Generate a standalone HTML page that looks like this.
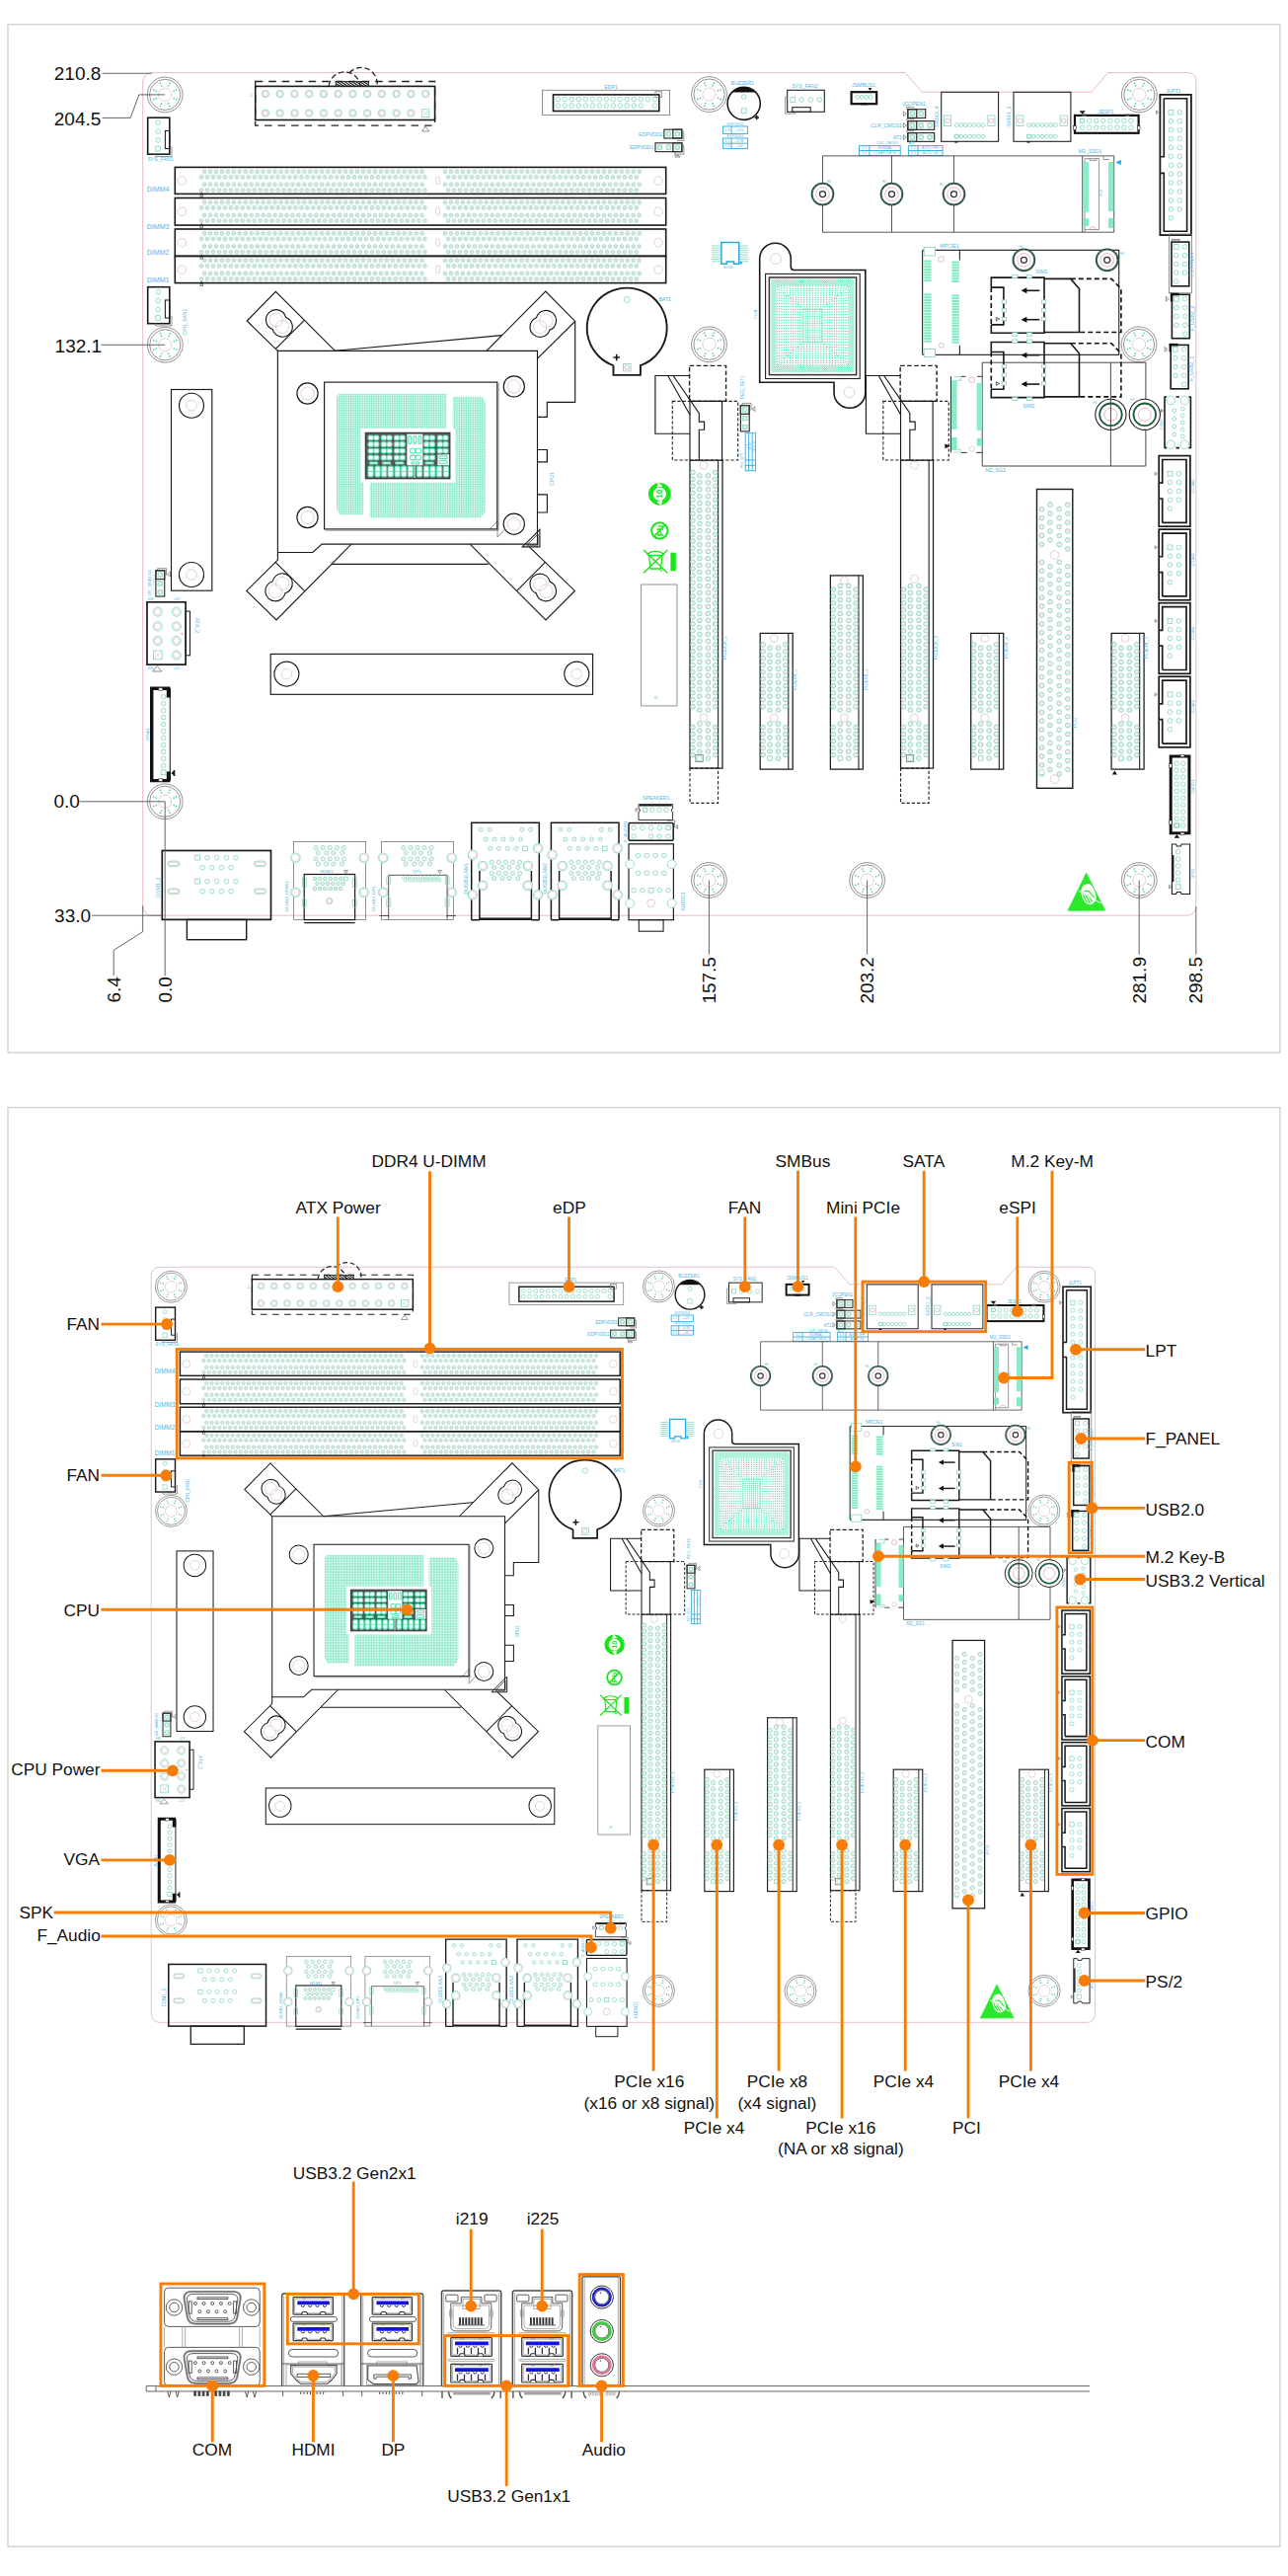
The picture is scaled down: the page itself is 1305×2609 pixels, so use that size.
<!DOCTYPE html>
<html><head><meta charset="utf-8"><title>Board layout</title>
<style>
html,body{margin:0;padding:0;background:#fff}
svg{display:block}
text{font-family:"Liberation Sans",sans-serif}
.k{fill:none;stroke:#222;stroke-width:1.1}
.k2{fill:none;stroke:#1a1a1a;stroke-width:1.6}
.k3{fill:none;stroke:#111;stroke-width:2.6}
.kf{fill:#111;stroke:none}
.kw{fill:#fff;stroke:#222;stroke-width:1.1}
.kd{fill:none;stroke:#222;stroke-width:1.1;stroke-dasharray:3.2 2}
.kD{fill:none;stroke:#222;stroke-width:1.3;stroke-dasharray:7.5 6}
.kS{fill:none;stroke:#111;stroke-width:1.6;stroke-dasharray:5 3}
.g{fill:none;stroke:#777;stroke-width:.8}
.gl{fill:none;stroke:#999;stroke-width:.7}
.pk{fill:none;stroke:#e3a6bb;stroke-width:.8}
.pc{fill:none;stroke:#d9bcc6;stroke-width:.7}
.gr{fill:none;stroke:#7fd6b9;stroke-width:.8}
.grf{fill:#7fecc0;stroke:none}
.gd{fill:#4fcf9f;stroke:none}
.dg{fill:none;stroke:#1d5a3a;stroke-width:1.3}
.bl{fill:none;stroke:#29abe2;stroke-width:.9}
.bl2{fill:none;stroke:#29abe2;stroke-width:1.5}
.b{fill:#4db5e6;font-size:5.2px}
.G{fill:#19e619;stroke:none}
.Gs{fill:none;stroke:#19e619;stroke-width:1.6}
.d{fill:none;stroke:#555;stroke-width:.9}
.dt{fill:#111;font-size:19px}
.o{fill:none;stroke:#f77d07;stroke-width:2.9}
.of{fill:#f77d07;stroke:none}
.t{fill:#111;font-size:17.3px}
.fr{fill:none;stroke:#d2d2d2;stroke-width:1.4}
.io{fill:none;stroke:#4a4a4a;stroke-width:.9}
.iow{fill:#fff;stroke:#4a4a4a;stroke-width:.9}
.iol{fill:none;stroke:#8a8a8a;stroke-width:.7}
</style></head><body>
<svg width="1305" height="2609" viewBox="0 0 1305 2609">
<defs>
<g id="p"><circle class="gr" r="2.3"/></g>
<g id="q"><circle class="gr" r="2.05"/><circle class="pc" r="1" style="stroke:#ecd3da;stroke-width:.45"/></g>
<g id="ps"><rect class="gr" x="-2.4" y="-2.4" width="4.8" height="4.8"/></g>
<g id="pp"><circle class="gr" r="2.35" style="stroke-width:.9"/><circle class="pc" r="1.25" style="stroke-width:.45"/></g>
<g id="pd"><circle class="gr" r="1.85"/><circle class="pc" r=".9"/></g>
<g id="pe"><circle class="gr" r="2.35" style="stroke-width:.9"/><circle class="pc" r="1.25" style="stroke-width:.45"/></g>
<g id="pa"><circle class="gr" r="3.7"/><circle class="pc" r="2.5"/></g>
<g id="pb"><circle class="gr" r="4.6"/><circle class="pc" r="3.2"/></g>
<g id="ph"><circle class="gr" r="4.7" style="stroke-width:1.2;stroke:#97e3cc"/><circle class="pc" r="3.7" style="stroke:#f0ccd7;stroke-width:.8"/></g>
<g id="sm"><circle class="gr" r="1.9"/></g>
<g id="sn"><circle class="gr" r="1.8"/><circle class="pc" r=".9" style="stroke-width:.4"/></g>
<g id="st"><circle class="gr" r="1.35" style="stroke-width:.7"/></g>
<g id="mhd"><circle class="gd" cx="9.7" cy="0" r=".85"/><circle class="gd" cx="12.5" cy="0" r=".85"/></g>
<g id="mh"><circle class="g" r="17.9"/><circle class="g" r="15.6"/><circle class="pc" r="6.6" style="stroke:#d8b8c2"/><use href="#mhd" transform="rotate(22.5)"/><use href="#mhd" transform="rotate(67.5)"/><use href="#mhd" transform="rotate(112.5)"/><use href="#mhd" transform="rotate(157.5)"/><use href="#mhd" transform="rotate(202.5)"/><use href="#mhd" transform="rotate(247.5)"/><use href="#mhd" transform="rotate(292.5)"/><use href="#mhd" transform="rotate(337.5)"/></g>
<g id="so"><circle class="dg" r="11.2"/><circle class="k" r="10.3" style="stroke-width:.7"/><circle class="pk" r="6.8"/><circle class="k" r="3" style="stroke-width:1.3;stroke:#333"/></g>
<g id="so2"><circle class="k" r="15.6"/><circle class="dg" r="11.3" style="stroke-width:1.8"/><circle class="pk" r="6.5"/></g>
<pattern id="pr" width="5.96" height="5" patternUnits="userSpaceOnUse"><circle class="gr" cx="2.98" cy="2.5" r="1.85"/><circle class="pc" cx="2.98" cy="2.5" r=".95"/></pattern>
<pattern id="cpuP" x="341" y="399.1" width="1.75" height="1.75" patternUnits="userSpaceOnUse"><path d="M0 0H1.75V.75H.75V1.75H0Z" fill="#86e9c5"/></pattern>
<pattern id="bgaP" x="812.8" y="312.3" width="2.33" height="2.33" patternUnits="userSpaceOnUse">
<circle cx="1.17" cy="1.17" r=".75" fill="#52e3ae"/>
</pattern>
<pattern id="bgaQ" x="781.4" y="282.6" width="2.1" height="2.2" patternUnits="userSpaceOnUse">
<circle cx=".6" cy=".6" r=".62" fill="#52e3ae"/><circle cx="1.65" cy="1.7" r=".62" fill="#52e3ae"/>
</pattern>
<pattern id="hat" width="2.2" height="2.2" patternUnits="userSpaceOnUse" patternTransform="rotate(-55)">
<rect width="1.2" height="2.2" fill="#222"/>
</pattern>

<g id="board">
<path class="pk" d="M144.7 83.1A9.5 9.5 0 0 1 154.2 73.6L917 73.6L934.3 93.2L1106 93.2L1122.5 73.6L1203.8 73.6A8 8 0 0 1 1211.8 81.6L1211.8 918.2A9 9 0 0 1 1202.8 927.2L154.2 927.2A9.5 9.5 0 0 1 144.7 917.7Z"/>
<use href="#mh" x="167.15" y="95.9"/>
<use href="#mh" x="718.5" y="95.6"/>
<use href="#mh" x="1154.3" y="95.9"/>
<use href="#mh" x="167.3" y="349.3"/>
<use href="#mh" x="718.5" y="348.8"/>
<use href="#mh" x="1154" y="348.9"/>
<use href="#mh" x="167.2" y="811.8"/>
<use href="#mh" x="718.4" y="891.5"/>
<use href="#mh" x="878.6" y="891.5"/>
<use href="#mh" x="1154.2" y="891.5"/>
<rect class="k2" x="177.3" y="169.4" width="497.4" height="27"/>
<rect transform="translate(204.08 171.3)" width="226.48" height="5" fill="url(#pr)"/>
<rect transform="translate(448.02 171.3)" width="202.64" height="5" fill="url(#pr)"/>
<rect transform="translate(201.09 176.85)" width="232.44" height="5" fill="url(#pr)"/>
<rect transform="translate(451.12 176.85)" width="196.68" height="5" fill="url(#pr)"/>
<rect transform="translate(204.08 184.4)" width="226.48" height="5" fill="url(#pr)"/>
<rect transform="translate(448.02 184.4)" width="202.64" height="5" fill="url(#pr)"/>
<rect transform="translate(201.09 190.1)" width="232.44" height="5" fill="url(#pr)"/>
<rect transform="translate(451.12 190.1)" width="196.68" height="5" fill="url(#pr)"/>
<circle class="pc" cx="184.4" cy="183.1" r="4.3"/>
<circle class="pc" cx="667" cy="183.1" r="4.3"/>
<rect class="pc" x="441.6" y="179.1" width="4" height="7.6" rx="1.8"/>
<path class="kf" d="M203 196.7L204.2 194.4L205.4 196.7Z"/>
<rect class="k" x="203" y="197" width="2.4" height="2.2" style="stroke-width:.6"/>
<rect class="k2" x="177.3" y="200.5" width="497.4" height="27.6"/>
<rect transform="translate(204.08 202.4)" width="226.48" height="5" fill="url(#pr)"/>
<rect transform="translate(448.02 202.4)" width="202.64" height="5" fill="url(#pr)"/>
<rect transform="translate(201.09 207.95)" width="232.44" height="5" fill="url(#pr)"/>
<rect transform="translate(451.12 207.95)" width="196.68" height="5" fill="url(#pr)"/>
<rect transform="translate(204.08 215.5)" width="226.48" height="5" fill="url(#pr)"/>
<rect transform="translate(448.02 215.5)" width="202.64" height="5" fill="url(#pr)"/>
<rect transform="translate(201.09 221.2)" width="232.44" height="5" fill="url(#pr)"/>
<rect transform="translate(451.12 221.2)" width="196.68" height="5" fill="url(#pr)"/>
<circle class="pc" cx="184.4" cy="214.2" r="4.3"/>
<circle class="pc" cx="667" cy="214.2" r="4.3"/>
<rect class="pc" x="441.6" y="210.2" width="4" height="7.6" rx="1.8"/>
<path class="kf" d="M203 228.4L204.2 226.1L205.4 228.4Z"/>
<rect class="k" x="203" y="228.7" width="2.4" height="2.2" style="stroke-width:.6"/>
<rect class="k2" x="177.3" y="232" width="497.4" height="27.4"/>
<rect transform="translate(204.08 233.9)" width="226.48" height="5" fill="url(#pr)"/>
<rect transform="translate(448.02 233.9)" width="202.64" height="5" fill="url(#pr)"/>
<rect transform="translate(201.09 239.45)" width="232.44" height="5" fill="url(#pr)"/>
<rect transform="translate(451.12 239.45)" width="196.68" height="5" fill="url(#pr)"/>
<rect transform="translate(204.08 247)" width="226.48" height="5" fill="url(#pr)"/>
<rect transform="translate(448.02 247)" width="202.64" height="5" fill="url(#pr)"/>
<rect transform="translate(201.09 252.7)" width="232.44" height="5" fill="url(#pr)"/>
<rect transform="translate(451.12 252.7)" width="196.68" height="5" fill="url(#pr)"/>
<circle class="pc" cx="184.4" cy="245.7" r="4.3"/>
<circle class="pc" cx="667" cy="245.7" r="4.3"/>
<rect class="pc" x="441.6" y="241.7" width="4" height="7.6" rx="1.8"/>
<path class="kf" d="M203 259.7L204.2 257.4L205.4 259.7Z"/>
<rect class="k" x="203" y="260" width="2.4" height="2.2" style="stroke-width:.6"/>
<rect class="k2" x="177.3" y="259.4" width="497.4" height="27.2"/>
<rect transform="translate(204.08 261.3)" width="226.48" height="5" fill="url(#pr)"/>
<rect transform="translate(448.02 261.3)" width="202.64" height="5" fill="url(#pr)"/>
<rect transform="translate(201.09 266.85)" width="232.44" height="5" fill="url(#pr)"/>
<rect transform="translate(451.12 266.85)" width="196.68" height="5" fill="url(#pr)"/>
<rect transform="translate(204.08 274.4)" width="226.48" height="5" fill="url(#pr)"/>
<rect transform="translate(448.02 274.4)" width="202.64" height="5" fill="url(#pr)"/>
<rect transform="translate(201.09 280.1)" width="232.44" height="5" fill="url(#pr)"/>
<rect transform="translate(451.12 280.1)" width="196.68" height="5" fill="url(#pr)"/>
<circle class="pc" cx="184.4" cy="273.1" r="4.3"/>
<circle class="pc" cx="667" cy="273.1" r="4.3"/>
<rect class="pc" x="441.6" y="269.1" width="4" height="7.6" rx="1.8"/>
<path class="kf" d="M203 286.9L204.2 284.6L205.4 286.9Z"/>
<rect class="k" x="203" y="287.2" width="2.4" height="2.2" style="stroke-width:.6"/>
<text class="b" x="148.7" y="193.5" text-anchor="start" style="font-size:7.1px;">DIMM4</text>
<text class="b" x="148.7" y="232" text-anchor="start" style="font-size:7.1px;">DIMM3</text>
<text class="b" x="148.7" y="257.5" text-anchor="start" style="font-size:7.1px;">DIMM2</text>
<text class="b" x="148.7" y="286" text-anchor="start" style="font-size:7.1px;">DIMM1</text>
<rect class="kD" x="258.7" y="82.5" width="181.9" height="44.6"/>
<rect class="k2" x="258.7" y="87.4" width="181.9" height="34.1"/>
<rect x="340.2" y="82.6" width="33.3" height="4.8" fill="url(#hat)" stroke="#222" stroke-width=".9"/>
<path class="kD" d="M333.1 87.2A16.1 16.1 0 0 1 365.1 87.2" style="stroke-dasharray:5.5 3"/>
<path class="kD" d="M354 73.8A16.1 16.1 0 0 1 381.9 87.2" style="stroke-dasharray:5.5 3"/>
<use href="#pa" x="268.9" y="95.1"/>
<use href="#pa" x="283.65" y="95.1"/>
<use href="#pa" x="298.4" y="95.1"/>
<use href="#pa" x="313.15" y="95.1"/>
<use href="#pa" x="327.9" y="95.1"/>
<use href="#pa" x="342.65" y="95.1"/>
<use href="#pa" x="357.4" y="95.1"/>
<use href="#pa" x="372.15" y="95.1"/>
<use href="#pa" x="386.9" y="95.1"/>
<use href="#pa" x="401.65" y="95.1"/>
<use href="#pa" x="416.4" y="95.1"/>
<use href="#pa" x="431.15" y="95.1"/>
<use href="#pa" x="268.9" y="114.6"/>
<use href="#pa" x="283.65" y="114.6"/>
<use href="#pa" x="298.4" y="114.6"/>
<use href="#pa" x="313.15" y="114.6"/>
<use href="#pa" x="327.9" y="114.6"/>
<use href="#pa" x="342.65" y="114.6"/>
<use href="#pa" x="357.4" y="114.6"/>
<use href="#pa" x="372.15" y="114.6"/>
<use href="#pa" x="386.9" y="114.6"/>
<use href="#pa" x="401.65" y="114.6"/>
<use href="#pa" x="416.4" y="114.6"/>
<rect class="gr" x="427.3" y="110.8" width="7.6" height="7.6"/>
<path class="gr" d="M428.5 112L433.7 117.2M433.7 112L428.5 117.2" style="stroke-width:.5"/>
<path class="g" d="M427.5 133L431.1 127.8L434.8 133Z"/>
<text class="b" x="254.3" y="97.5" text-anchor="middle" style="font-size:5px;fill:#7fd6b9;">1</text>
<rect class="k2" x="149.7" y="119.2" width="22.1" height="37"/>
<rect class="k" x="167.4" y="132.5" width="4.4" height="18"/>
<path class="g" d="M157.7 156.2L157.7 158.5L174 158.5L174 148.2"/>
<use href="#p" x="160.2" y="124.2"/>
<use href="#p" x="160.2" y="133.1"/>
<use href="#p" x="160.2" y="142"/>
<use href="#ps" x="160.2" y="150.6"/>
<text class="b" x="162.5" y="162.6" text-anchor="middle">SYS_FAN1</text>
<rect class="k2" x="149.7" y="290.7" width="22.1" height="37"/>
<rect class="k" x="167.4" y="304" width="4.4" height="18"/>
<path class="g" d="M157.7 327.7L157.7 330L174 330L174 319.7"/>
<use href="#p" x="160.2" y="295.7"/>
<use href="#p" x="160.2" y="304.6"/>
<use href="#p" x="160.2" y="313.5"/>
<use href="#ps" x="160.2" y="322.1"/>
<text class="b" x="188.5" y="326" text-anchor="middle" transform="rotate(-90 188.5 326)">CPU_FAN1</text>
<rect class="g" x="549.4" y="91.3" width="129.2" height="25.1"/>
<rect class="k2" x="560.5" y="95.9" width="107.3" height="16.6"/>
<rect class="g" x="664" y="92.8" width="6.3" height="5.6"/>
<use href="#p" x="565.3" y="100.5"/>
<use href="#p" x="572.3" y="100.5"/>
<use href="#p" x="579.3" y="100.5"/>
<use href="#p" x="586.3" y="100.5"/>
<use href="#p" x="593.3" y="100.5"/>
<use href="#p" x="600.3" y="100.5"/>
<use href="#p" x="607.3" y="100.5"/>
<use href="#p" x="614.3" y="100.5"/>
<use href="#p" x="621.3" y="100.5"/>
<use href="#p" x="628.3" y="100.5"/>
<use href="#p" x="635.3" y="100.5"/>
<use href="#p" x="642.3" y="100.5"/>
<use href="#p" x="649.3" y="100.5"/>
<use href="#p" x="656.3" y="100.5"/>
<use href="#p" x="663.3" y="100.5"/>
<use href="#p" x="565.3" y="107.1"/>
<use href="#p" x="572.3" y="107.1"/>
<use href="#p" x="579.3" y="107.1"/>
<use href="#p" x="586.3" y="107.1"/>
<use href="#p" x="593.3" y="107.1"/>
<use href="#p" x="600.3" y="107.1"/>
<use href="#p" x="607.3" y="107.1"/>
<use href="#p" x="614.3" y="107.1"/>
<use href="#p" x="621.3" y="107.1"/>
<use href="#p" x="628.3" y="107.1"/>
<use href="#p" x="635.3" y="107.1"/>
<use href="#p" x="642.3" y="107.1"/>
<use href="#p" x="649.3" y="107.1"/>
<use href="#p" x="663.3" y="107.1"/>
<text class="b" x="619" y="90" text-anchor="middle">EDP1</text>
<rect class="k" x="672.9" y="131.2" width="17.9" height="8.8" style="stroke-width:1.2;stroke:#333"/>
<rect class="k" x="681.85" y="131.2" width="8.95" height="8.8" style="stroke-width:1.3;stroke:#333"/>
<rect class="gr" x="675.1" y="133.3" width="4.6" height="4.6" style="stroke-width:.6"/>
<circle class="gr" cx="677.4" cy="135.6" r="1.8"/>
<rect class="gr" x="684.05" y="133.3" width="4.6" height="4.6" style="stroke-width:.6"/>
<circle class="gr" cx="686.35" cy="135.6" r="1.8"/>
<rect class="k" x="664" y="144.8" width="26.85" height="8.8" style="stroke-width:1.2;stroke:#333"/>
<rect class="k" x="681.9" y="144.8" width="8.95" height="8.8" style="stroke-width:1.3;stroke:#333"/>
<rect class="gr" x="666.2" y="146.9" width="4.6" height="4.6" style="stroke-width:.6"/>
<circle class="gr" cx="668.5" cy="149.2" r="1.8"/>
<rect class="gr" x="675.15" y="146.9" width="4.6" height="4.6" style="stroke-width:.6"/>
<circle class="gr" cx="677.45" cy="149.2" r="1.8"/>
<rect class="gr" x="684.1" y="146.9" width="4.6" height="4.6" style="stroke-width:.6"/>
<circle class="gr" cx="686.4" cy="149.2" r="1.8"/>
<path class="g" d="M690.9 133.5L692.8 133.5L692.8 142.5L686 142.5M690.9 147L692.8 147L692.8 156.2L684 156.2M684 154L684 159L689 159L688 157.5L685 157.5"/>
<text class="b" x="671.5" y="138" text-anchor="end">EDPVDD2</text>
<text class="b" x="662.5" y="151.3" text-anchor="end">EDPVDD1</text>
<circle class="k2" cx="753.7" cy="104.8" r="16.6"/>
<path class="kf" d="M741.5 93.6A16.6 16.6 0 0 1 765.9 93.6Z"/>
<use href="#p" x="753.7" y="98"/>
<use href="#ps" x="753.7" y="112.3"/>
<path class="k2" d="M764.5 119L769 119M766.7 116.8L766.7 121.3"/>
<text class="b" x="752.4" y="86" text-anchor="middle">BUZZER1</text>
<text class="b" x="745" y="126.5" text-anchor="middle" style="font-size:3.6px;">EDPVDD2</text>
<rect class="bl" x="732.6" y="128" width="25" height="7.4"/>
<path class="bl" d="M741.1 128L741.1 135.4"/>
<text class="b" x="736.85" y="132.9" text-anchor="middle" style="font-size:3.4px;">2-3</text>
<text class="b" x="749.35" y="132.9" text-anchor="middle" style="font-size:3.4px;">+12V</text>
<text class="b" x="745" y="138.5" text-anchor="middle" style="font-size:3.6px;">EDPVDD1</text>
<rect class="bl" x="732.6" y="140" width="25" height="10.4"/>
<path class="bl" d="M732.6 145.2L757.6 145.2"/>
<path class="bl" d="M741.1 140L741.1 150.4"/>
<text class="b" x="736.85" y="143.8" text-anchor="middle" style="font-size:3.4px;">1-2</text>
<text class="b" x="749.35" y="143.8" text-anchor="middle" style="font-size:3.4px;">+3.3V</text>
<text class="b" x="736.85" y="149" text-anchor="middle" style="font-size:3.4px;">2-3</text>
<text class="b" x="749.35" y="149" text-anchor="middle" style="font-size:3.4px;">+5V</text>
<rect class="k" x="797.7" y="91.3" width="37.6" height="22"/>
<rect class="k" x="802.8" y="108.7" width="18.4" height="4.6"/>
<path class="g" d="M797.7 98L795.6 98L795.6 115L806 115L806 113.3"/>
<use href="#ps" x="803.3" y="101"/>
<use href="#p" x="812.27" y="101"/>
<use href="#p" x="821.24" y="101"/>
<use href="#p" x="830.21" y="101"/>
<text class="b" x="815.5" y="88.5" text-anchor="middle">SYS_FAN2</text>
<rect class="k3" x="862.6" y="93.2" width="25.6" height="12" style="stroke-width:2.2"/>
<use href="#sm" x="868.7" y="98.4"/>
<use href="#sm" x="873.15" y="98.4"/>
<use href="#sm" x="877.6" y="98.4"/>
<use href="#sm" x="882.05" y="98.4"/>
<path class="kf" d="M879.5 89L883.5 89L881.5 91.8Z"/>
<rect class="kf" x="872" y="104.3" width="7" height="2"/>
<text class="b" x="875" y="88" text-anchor="middle">JSMBUS1</text>
<rect class="k" x="919.8" y="110.7" width="17.9" height="8.8" style="stroke-width:1.2;stroke:#333"/>
<rect class="k" x="919.8" y="110.7" width="8.95" height="8.8" style="stroke-width:1.3;stroke:#333"/>
<rect class="gr" x="922" y="112.8" width="4.6" height="4.6" style="stroke-width:.6"/>
<circle class="gr" cx="924.3" cy="115.1" r="1.8"/>
<rect class="gr" x="930.95" y="112.8" width="4.6" height="4.6" style="stroke-width:.6"/>
<circle class="gr" cx="933.25" cy="115.1" r="1.8"/>
<rect class="k" x="919.8" y="122.6" width="26.85" height="8.8" style="stroke-width:1.2;stroke:#333"/>
<rect class="k" x="919.8" y="122.6" width="8.95" height="8.8" style="stroke-width:1.3;stroke:#333"/>
<rect class="gr" x="922" y="124.7" width="4.6" height="4.6" style="stroke-width:.6"/>
<circle class="gr" cx="924.3" cy="127" r="1.8"/>
<rect class="gr" x="930.95" y="124.7" width="4.6" height="4.6" style="stroke-width:.6"/>
<circle class="gr" cx="933.25" cy="127" r="1.8"/>
<rect class="gr" x="939.9" y="124.7" width="4.6" height="4.6" style="stroke-width:.6"/>
<circle class="gr" cx="942.2" cy="127" r="1.8"/>
<rect class="k" x="919.8" y="134.6" width="26.85" height="8.8" style="stroke-width:1.2;stroke:#333"/>
<rect class="k" x="919.8" y="134.6" width="8.95" height="8.8" style="stroke-width:1.3;stroke:#333"/>
<rect class="gr" x="922" y="136.7" width="4.6" height="4.6" style="stroke-width:.6"/>
<circle class="gr" cx="924.3" cy="139" r="1.8"/>
<rect class="gr" x="930.95" y="136.7" width="4.6" height="4.6" style="stroke-width:.6"/>
<circle class="gr" cx="933.25" cy="139" r="1.8"/>
<rect class="gr" x="939.9" y="136.7" width="4.6" height="4.6" style="stroke-width:.6"/>
<circle class="gr" cx="942.2" cy="139" r="1.8"/>
<path class="g" d="M918.6 110.2L918.6 108.6L926.4 108.6M918.6 122L918.6 120.6L926.4 120.6M918.6 134L918.6 132.6L926.4 132.6"/>
<path class="g" d="M915.3 112.8L918.3 115.2L915.3 117.6Z"/>
<path class="g" d="M915.3 124.6L918.3 127L915.3 129.4Z"/>
<path class="g" d="M915.3 136.6L918.3 139L915.3 141.4Z"/>
<text class="b" x="926" y="107" text-anchor="middle">JCOPEN1</text>
<text class="b" x="914" y="129" text-anchor="end">CLR_CMOS1</text>
<text class="b" x="914" y="141" text-anchor="end">AT1</text>
<text class="b" x="899" y="146.4" text-anchor="middle" style="font-size:3.6px;">CLR_CMOS1</text>
<rect class="bl" x="870.4" y="147.6" width="41.8" height="9.8"/>
<path class="bl" d="M870.4 152.5L912.2 152.5"/>
<path class="bl" d="M880.9 147.6L880.9 157.4"/>
<text class="b" x="875.65" y="151.25" text-anchor="middle" style="font-size:3.4px;">1-2</text>
<text class="b" x="896.55" y="151.25" text-anchor="middle" style="font-size:3.4px;">NORMAL</text>
<text class="b" x="875.65" y="156.15" text-anchor="middle" style="font-size:3.4px;">2-3</text>
<text class="b" x="896.55" y="156.15" text-anchor="middle" style="font-size:3.4px;">CLEAR CMOS</text>
<text class="b" x="924" y="146.4" text-anchor="middle" style="font-size:3.6px;">AT1</text>
<rect class="bl" x="920.4" y="147.6" width="34.6" height="9.8"/>
<path class="bl" d="M920.4 152.5L955 152.5"/>
<path class="bl" d="M930 147.6L930 157.4"/>
<text class="b" x="925.2" y="151.25" text-anchor="middle" style="font-size:3.4px;">1-2</text>
<text class="b" x="942.5" y="151.25" text-anchor="middle" style="font-size:3.4px;">AUTO OFF</text>
<text class="b" x="925.2" y="156.15" text-anchor="middle" style="font-size:3.4px;">2-3</text>
<text class="b" x="942.5" y="156.15" text-anchor="middle" style="font-size:3.4px;">AUTO ON</text>
<rect class="k" x="953.7" y="93.3" width="57.9" height="50"/>
<use href="#sm" x="969.3" y="126.6"/>
<use href="#sm" x="969.3" y="138.1"/>
<use href="#sm" x="973.75" y="126.6"/>
<use href="#sm" x="973.75" y="138.1"/>
<use href="#sm" x="978.2" y="126.6"/>
<use href="#sm" x="978.2" y="138.1"/>
<use href="#sm" x="982.65" y="126.6"/>
<use href="#sm" x="982.65" y="138.1"/>
<use href="#sm" x="987.1" y="126.6"/>
<use href="#sm" x="987.1" y="138.1"/>
<use href="#sm" x="991.55" y="126.6"/>
<use href="#sm" x="991.55" y="138.1"/>
<use href="#sm" x="996" y="126.6"/>
<use href="#sm" x="996" y="138.1"/>
<rect class="gr" x="967" y="136.2" width="4.6" height="3.8" style="stroke-width:.6"/>
<rect class="gr" x="956.5" y="117" width="7.2" height="10.5"/>
<circle class="pk" cx="960.1" cy="122.2" r="2.3"/>
<rect class="gr" x="1000.8" y="117" width="7.2" height="10.5"/>
<circle class="pk" cx="1004.4" cy="122.2" r="2.3"/>
<rect class="kf" x="967.3" y="143.3" width="3" height="1.3"/>
<text class="b" x="951.1" y="118" text-anchor="middle" transform="rotate(-90 951.1 118)">SATA3_4</text>
<rect class="k" x="1027" y="93.3" width="57.9" height="50"/>
<use href="#sm" x="1042.6" y="126.6"/>
<use href="#sm" x="1042.6" y="138.1"/>
<use href="#sm" x="1047.05" y="126.6"/>
<use href="#sm" x="1047.05" y="138.1"/>
<use href="#sm" x="1051.5" y="126.6"/>
<use href="#sm" x="1051.5" y="138.1"/>
<use href="#sm" x="1055.95" y="126.6"/>
<use href="#sm" x="1055.95" y="138.1"/>
<use href="#sm" x="1060.4" y="126.6"/>
<use href="#sm" x="1060.4" y="138.1"/>
<use href="#sm" x="1064.85" y="126.6"/>
<use href="#sm" x="1064.85" y="138.1"/>
<use href="#sm" x="1069.3" y="126.6"/>
<use href="#sm" x="1069.3" y="138.1"/>
<rect class="gr" x="1040.3" y="136.2" width="4.6" height="3.8" style="stroke-width:.6"/>
<rect class="gr" x="1029.8" y="117" width="7.2" height="10.5"/>
<circle class="pk" cx="1033.4" cy="122.2" r="2.3"/>
<rect class="gr" x="1074.1" y="117" width="7.2" height="10.5"/>
<circle class="pk" cx="1077.7" cy="122.2" r="2.3"/>
<rect class="kf" x="1040.6" y="143.3" width="3" height="1.3"/>
<text class="b" x="1024.4" y="118" text-anchor="middle" transform="rotate(-90 1024.4 118)">SATA1_2</text>
<rect class="k3" x="1089" y="116.9" width="64.6" height="17.9" style="stroke-width:2.2"/>
<use href="#p" x="1096.7" y="122.3"/>
<use href="#p" x="1103.73" y="122.3"/>
<use href="#p" x="1110.76" y="122.3"/>
<use href="#p" x="1117.79" y="122.3"/>
<use href="#p" x="1124.82" y="122.3"/>
<use href="#p" x="1131.85" y="122.3"/>
<use href="#p" x="1138.88" y="122.3"/>
<use href="#p" x="1145.91" y="122.3"/>
<use href="#p" x="1096.7" y="129.2"/>
<use href="#p" x="1103.73" y="129.2"/>
<use href="#p" x="1110.76" y="129.2"/>
<use href="#p" x="1117.79" y="129.2"/>
<use href="#p" x="1124.82" y="129.2"/>
<use href="#p" x="1131.85" y="129.2"/>
<use href="#p" x="1138.88" y="129.2"/>
<use href="#p" x="1145.91" y="129.2"/>
<rect class="gr" x="1094.7" y="120.3" width="4" height="4" style="stroke-width:.6"/>
<path class="kf" d="M1093.6 112.2L1099.8 112.2L1096.7 115.8Z"/>
<rect class="g" x="1097" y="115.8" width="3" height="1.8"/>
<rect class="g" x="1141" y="115.8" width="3" height="1.8"/>
<rect class="kw" x="1087.6" y="127.5" width="2.6" height="4" style="stroke-width:.6"/>
<rect class="kw" x="1152.4" y="127.5" width="2.6" height="4" style="stroke-width:.6"/>
<text class="b" x="1120.5" y="114.5" text-anchor="middle">JESP1</text>
<rect class="k2" x="1175.4" y="95.9" width="31.5" height="142.2" style="stroke-width:1.8"/>
<path class="k2" d="M1179.3 99.8L1202.6 99.8L1202.6 234.2L1179.3 234.2L1179.3 175.4L1176.2 175.4M1176.2 158.7L1179.3 158.7L1179.3 99.8"/>
<use href="#p" x="1195.3" y="113.8"/>
<use href="#p" x="1186.4" y="122.71"/>
<use href="#p" x="1195.3" y="122.71"/>
<use href="#p" x="1186.4" y="131.62"/>
<use href="#p" x="1195.3" y="131.62"/>
<use href="#p" x="1186.4" y="140.53"/>
<use href="#p" x="1195.3" y="140.53"/>
<use href="#p" x="1186.4" y="149.44"/>
<use href="#p" x="1195.3" y="149.44"/>
<use href="#p" x="1186.4" y="158.35"/>
<use href="#p" x="1195.3" y="158.35"/>
<use href="#p" x="1186.4" y="167.26"/>
<use href="#p" x="1195.3" y="167.26"/>
<use href="#p" x="1186.4" y="176.17"/>
<use href="#p" x="1195.3" y="176.17"/>
<use href="#p" x="1186.4" y="185.08"/>
<use href="#p" x="1195.3" y="185.08"/>
<use href="#p" x="1186.4" y="193.99"/>
<use href="#p" x="1195.3" y="193.99"/>
<use href="#p" x="1186.4" y="202.9"/>
<use href="#p" x="1195.3" y="202.9"/>
<use href="#p" x="1186.4" y="211.81"/>
<use href="#p" x="1195.3" y="211.81"/>
<use href="#p" x="1186.4" y="220.72"/>
<use href="#ps" x="1186.4" y="113.8"/>
<path class="g" d="M1171.5 112L1173.8 113.8L1171.5 115.6Z"/>
<text class="b" x="1189" y="93.5" text-anchor="middle">JLPT1</text>
<rect class="g" x="1184.6" y="237" width="22.9" height="59.8"/>
<rect class="k2" x="1187" y="245.1" width="17.8" height="44.7"/>
<use href="#p" x="1200.6" y="249.9"/>
<use href="#p" x="1191.6" y="258.7"/>
<use href="#p" x="1200.6" y="258.7"/>
<use href="#p" x="1191.6" y="267.5"/>
<use href="#p" x="1200.6" y="267.5"/>
<use href="#p" x="1191.6" y="276.3"/>
<use href="#p" x="1200.6" y="276.3"/>
<use href="#p" x="1191.6" y="285.1"/>
<use href="#ps" x="1191.6" y="249.9"/>
<rect class="g" x="1187.6" y="242.3" width="7.4" height="1.5"/>
<text class="b" x="1209.4" y="268" text-anchor="middle" transform="rotate(-90 1209.4 268)">F_PANEL1</text>
<rect class="k2" x="1187.4" y="298.3" width="17.9" height="44.4"/>
<rect class="kf" x="1186.1" y="296.8" width="8.6" height="2.5"/>
<rect class="kf" x="1185.8" y="296.8" width="2.4" height="8.5"/>
<use href="#p" x="1200.8" y="302.7"/>
<use href="#p" x="1191.9" y="311.57"/>
<use href="#p" x="1200.8" y="311.57"/>
<use href="#p" x="1191.9" y="320.44"/>
<use href="#p" x="1200.8" y="320.44"/>
<use href="#p" x="1191.9" y="329.31"/>
<use href="#p" x="1200.8" y="329.31"/>
<use href="#p" x="1200.8" y="338.18"/>
<use href="#ps" x="1191.9" y="302.7"/>
<path class="g" d="M1181.4 300.3L1184.2 302.7L1181.4 305.1Z"/>
<text class="b" x="1210" y="322.3" text-anchor="middle" transform="rotate(-90 1210 322.3)">F_USB2_2</text>
<rect class="k2" x="1186.2" y="349.4" width="17.9" height="44.4"/>
<rect class="kf" x="1184.9" y="347.9" width="8.6" height="2.5"/>
<rect class="kf" x="1184.6" y="347.9" width="2.4" height="8.5"/>
<use href="#p" x="1199.6" y="353.8"/>
<use href="#p" x="1190.7" y="362.67"/>
<use href="#p" x="1199.6" y="362.67"/>
<use href="#p" x="1190.7" y="371.54"/>
<use href="#p" x="1199.6" y="371.54"/>
<use href="#p" x="1190.7" y="380.41"/>
<use href="#p" x="1199.6" y="380.41"/>
<use href="#p" x="1199.6" y="389.28"/>
<use href="#ps" x="1190.7" y="353.8"/>
<path class="g" d="M1180.2 351.4L1183 353.8L1180.2 356.2Z"/>
<text class="b" x="1208.8" y="373.4" text-anchor="middle" transform="rotate(-90 1208.8 373.4)">F_USB2_1</text>
<path class="k2" d="M1180 401.6L1180 454"/>
<path class="k2" d="M1206.4 401.6L1206.4 454"/>
<path class="k2" d="M1180 402L1182 402M1180 453.6L1182 453.6M1206.4 402L1204.4 402M1206.4 453.6L1204.4 453.6M1191.5 402L1195 402M1191.5 453.6L1195 453.6"/>
<circle class="gr" cx="1186.2" cy="405.5" r="4.3"/>
<circle class="gr" cx="1200.2" cy="405.5" r="4.3"/>
<circle class="gr" cx="1186.2" cy="450.2" r="4.3"/>
<circle class="gr" cx="1200.2" cy="450.2" r="4.3"/>
<use href="#sm" x="1189.8" y="415.6"/>
<use href="#sm" x="1189.8" y="424.1"/>
<use href="#sm" x="1189.8" y="431.9"/>
<use href="#sm" x="1189.8" y="440"/>
<use href="#sm" x="1198.3" y="414"/>
<use href="#sm" x="1198.3" y="421"/>
<use href="#sm" x="1198.3" y="428"/>
<use href="#sm" x="1198.3" y="435"/>
<use href="#sm" x="1198.3" y="442"/>
<path class="g" d="M1176.5 414.5L1178.6 416L1176.5 417.5Z"/>
<text class="b" x="1177.6" y="430" text-anchor="middle" style="font-size:3.6px;" transform="rotate(-90 1177.6 430)">JUSB3</text>
<rect class="k2" x="1174.2" y="461.6" width="31.7" height="71.6" style="stroke-width:1.7"/>
<path class="k2" d="M1175.1 489.2L1177.7 489.2L1177.7 465.5L1202 465.5L1202 529.4L1177.7 529.4M1177.7 529.4L1177.7 505L1175.1 505" style="stroke-width:1.7"/>
<use href="#p" x="1194.4" y="479.8"/>
<use href="#p" x="1185.4" y="488.63"/>
<use href="#p" x="1194.4" y="488.63"/>
<use href="#p" x="1185.4" y="497.46"/>
<use href="#p" x="1194.4" y="497.46"/>
<use href="#p" x="1185.4" y="506.29"/>
<use href="#p" x="1194.4" y="506.29"/>
<use href="#p" x="1185.4" y="515.12"/>
<use href="#ps" x="1185.4" y="479.8"/>
<path class="g" d="M1170.2 478.2L1172.4 479.8L1170.2 481.4Z"/>
<text class="b" x="1210.4" y="492.6" text-anchor="middle" style="font-size:4.2px;" transform="rotate(-90 1210.4 492.6)">JCOM6</text>
<rect class="k2" x="1174.2" y="536.15" width="31.7" height="71.6" style="stroke-width:1.7"/>
<path class="k2" d="M1175.1 563.75L1177.7 563.75L1177.7 540.05L1202 540.05L1202 603.95L1177.7 603.95M1177.7 603.95L1177.7 579.55L1175.1 579.55" style="stroke-width:1.7"/>
<use href="#p" x="1194.4" y="554.35"/>
<use href="#p" x="1185.4" y="563.18"/>
<use href="#p" x="1194.4" y="563.18"/>
<use href="#p" x="1185.4" y="572.01"/>
<use href="#p" x="1194.4" y="572.01"/>
<use href="#p" x="1185.4" y="580.84"/>
<use href="#p" x="1194.4" y="580.84"/>
<use href="#p" x="1185.4" y="589.67"/>
<use href="#ps" x="1185.4" y="554.35"/>
<path class="g" d="M1170.2 552.75L1172.4 554.35L1170.2 555.95Z"/>
<text class="b" x="1210.4" y="567.15" text-anchor="middle" style="font-size:4.2px;" transform="rotate(-90 1210.4 567.15)">JCOM5</text>
<rect class="k2" x="1174.2" y="610.7" width="31.7" height="71.6" style="stroke-width:1.7"/>
<path class="k2" d="M1175.1 638.3L1177.7 638.3L1177.7 614.6L1202 614.6L1202 678.5L1177.7 678.5M1177.7 678.5L1177.7 654.1L1175.1 654.1" style="stroke-width:1.7"/>
<use href="#p" x="1194.4" y="628.9"/>
<use href="#p" x="1185.4" y="637.73"/>
<use href="#p" x="1194.4" y="637.73"/>
<use href="#p" x="1185.4" y="646.56"/>
<use href="#p" x="1194.4" y="646.56"/>
<use href="#p" x="1185.4" y="655.39"/>
<use href="#p" x="1194.4" y="655.39"/>
<use href="#p" x="1185.4" y="664.22"/>
<use href="#ps" x="1185.4" y="628.9"/>
<path class="g" d="M1170.2 627.3L1172.4 628.9L1170.2 630.5Z"/>
<text class="b" x="1210.4" y="641.7" text-anchor="middle" style="font-size:4.2px;" transform="rotate(-90 1210.4 641.7)">JCOM4</text>
<rect class="k2" x="1174.2" y="685.25" width="31.7" height="71.6" style="stroke-width:1.7"/>
<path class="k2" d="M1175.1 712.85L1177.7 712.85L1177.7 689.15L1202 689.15L1202 753.05L1177.7 753.05M1177.7 753.05L1177.7 728.65L1175.1 728.65" style="stroke-width:1.7"/>
<use href="#p" x="1194.4" y="703.45"/>
<use href="#p" x="1185.4" y="712.28"/>
<use href="#p" x="1194.4" y="712.28"/>
<use href="#p" x="1185.4" y="721.11"/>
<use href="#p" x="1194.4" y="721.11"/>
<use href="#p" x="1185.4" y="729.94"/>
<use href="#p" x="1194.4" y="729.94"/>
<use href="#p" x="1185.4" y="738.77"/>
<use href="#ps" x="1185.4" y="703.45"/>
<path class="g" d="M1170.2 701.85L1172.4 703.45L1170.2 705.05Z"/>
<text class="b" x="1210.4" y="716.25" text-anchor="middle" style="font-size:4.2px;" transform="rotate(-90 1210.4 716.25)">JCOM3</text>
<rect class="k3" x="1186.2" y="766" width="18.7" height="77.8" style="stroke-width:3"/>
<use href="#p" x="1192.1" y="773.2"/>
<use href="#p" x="1198.9" y="773.2"/>
<use href="#p" x="1192.1" y="780.19"/>
<use href="#p" x="1198.9" y="780.19"/>
<use href="#p" x="1192.1" y="787.18"/>
<use href="#p" x="1198.9" y="787.18"/>
<use href="#p" x="1192.1" y="794.17"/>
<use href="#p" x="1198.9" y="794.17"/>
<use href="#p" x="1192.1" y="801.16"/>
<use href="#p" x="1198.9" y="801.16"/>
<use href="#p" x="1192.1" y="808.15"/>
<use href="#p" x="1198.9" y="808.15"/>
<use href="#p" x="1192.1" y="815.14"/>
<use href="#p" x="1198.9" y="815.14"/>
<use href="#p" x="1192.1" y="822.13"/>
<use href="#p" x="1198.9" y="822.13"/>
<use href="#p" x="1192.1" y="829.12"/>
<use href="#p" x="1198.9" y="829.12"/>
<use href="#p" x="1192.1" y="836.11"/>
<use href="#p" x="1198.9" y="836.11"/>
<use href="#ps" x="1192.1" y="836.1"/>
<rect class="kw" x="1196" y="764.2" width="4" height="2.4" style="stroke-width:.6"/>
<rect class="kw" x="1196" y="843.2" width="4" height="2.4" style="stroke-width:.6"/>
<rect class="kw" x="1184.8" y="773.5" width="2.4" height="4" style="stroke-width:.6"/>
<rect class="kw" x="1184.8" y="831" width="2.4" height="4" style="stroke-width:.6"/>
<path class="kf" d="M1189.6 848.7L1195.2 848.7L1192.4 845.2Z"/>
<text class="b" x="1210.4" y="797" text-anchor="middle" style="font-size:4.2px;" transform="rotate(-90 1210.4 797)">JGPIO1</text>
<path class="k" d="M1187.4 855L1191.6 855L1192.4 857L1196.3 857L1197.1 855L1205.6 855L1205.6 905.5L1197.1 905.5L1196.3 903.5L1192.4 903.5L1191.6 905.5L1187.4 905.5Z"/>
<path class="k2" d="M1188.6 866L1188.6 893"/>
<use href="#p" x="1193.6" y="862.9"/>
<use href="#p" x="1193.6" y="869.96"/>
<use href="#p" x="1193.6" y="877.02"/>
<use href="#p" x="1193.6" y="884.08"/>
<use href="#p" x="1193.6" y="891.14"/>
<use href="#ps" x="1193.6" y="898.2"/>
<path class="g" d="M1184.6 896.5L1186.8 898.2L1184.6 900Z"/>
<text class="b" x="1210.4" y="885" text-anchor="middle" style="font-size:4.2px;" transform="rotate(-90 1210.4 885)">JPS2</text>
<path class="k" d="M1128.7 157.9L833.5 157.9L833.5 235.2L1128.7 235.2" style="stroke-width:.9;stroke:#444"/>
<path class="k" style="stroke-width:.9;stroke:#444" d="M903.5 157.9L903.5 235.2"/>
<path class="k" style="stroke-width:.9;stroke:#444" d="M966.5 157.9L966.5 235.2"/>
<circle cx="833.5" cy="196.6" r="11.4" fill="#fff"/>
<use href="#so" x="833.5" y="196.6"/>
<circle cx="903.5" cy="196.6" r="11.4" fill="#fff"/>
<use href="#so" x="903.5" y="196.6"/>
<circle cx="966.5" cy="196.6" r="11.4" fill="#fff"/>
<use href="#so" x="966.5" y="196.6"/>
<text class="b" x="840" y="184.5" text-anchor="middle" style="font-size:3px;">H3</text>
<text class="b" x="896" y="184.5" text-anchor="middle" style="font-size:3px;">H2</text>
<text class="b" x="954" y="187.5" text-anchor="middle" style="font-size:3px;">H1</text>
<path class="k" d="M1096.7 157.9L1096.7 235.2M1128.7 157.9L1128.7 235.2" style="stroke-width:.9;stroke:#444"/>
<path class="g" d="M1099 235.2L1099 160.6L1113.6 160.6L1113.6 232.6L1099 232.6"/>
<path class="g" d="M1104 160.6L1104 162.4L1111 162.4L1111 160.6M1118 158.5L1118 161.5L1124 161.5"/>
<rect class="grf" x="1097.2" y="164" width="5.7" height="51.2"/>
<rect class="grf" x="1097.2" y="221.3" width="5.7" height="7.9"/>
<rect class="grf" x="1123" y="164" width="5.3" height="50"/>
<rect class="grf" x="1123" y="220.8" width="5.3" height="10.2"/>
<path class="k" style="stroke:#b5f6dc;stroke-width:.4" d="M1097.2 166L1102.9 166"/>
<path class="k" style="stroke:#b5f6dc;stroke-width:.4" d="M1123 166L1128.3 166"/>
<path class="k" style="stroke:#b5f6dc;stroke-width:.4" d="M1097.2 168.1L1102.9 168.1"/>
<path class="k" style="stroke:#b5f6dc;stroke-width:.4" d="M1123 168.1L1128.3 168.1"/>
<path class="k" style="stroke:#b5f6dc;stroke-width:.4" d="M1097.2 170.2L1102.9 170.2"/>
<path class="k" style="stroke:#b5f6dc;stroke-width:.4" d="M1123 170.2L1128.3 170.2"/>
<path class="k" style="stroke:#b5f6dc;stroke-width:.4" d="M1097.2 172.3L1102.9 172.3"/>
<path class="k" style="stroke:#b5f6dc;stroke-width:.4" d="M1123 172.3L1128.3 172.3"/>
<path class="k" style="stroke:#b5f6dc;stroke-width:.4" d="M1097.2 174.4L1102.9 174.4"/>
<path class="k" style="stroke:#b5f6dc;stroke-width:.4" d="M1123 174.4L1128.3 174.4"/>
<path class="k" style="stroke:#b5f6dc;stroke-width:.4" d="M1097.2 176.5L1102.9 176.5"/>
<path class="k" style="stroke:#b5f6dc;stroke-width:.4" d="M1123 176.5L1128.3 176.5"/>
<path class="k" style="stroke:#b5f6dc;stroke-width:.4" d="M1097.2 178.6L1102.9 178.6"/>
<path class="k" style="stroke:#b5f6dc;stroke-width:.4" d="M1123 178.6L1128.3 178.6"/>
<path class="k" style="stroke:#b5f6dc;stroke-width:.4" d="M1097.2 180.7L1102.9 180.7"/>
<path class="k" style="stroke:#b5f6dc;stroke-width:.4" d="M1123 180.7L1128.3 180.7"/>
<path class="k" style="stroke:#b5f6dc;stroke-width:.4" d="M1097.2 182.8L1102.9 182.8"/>
<path class="k" style="stroke:#b5f6dc;stroke-width:.4" d="M1123 182.8L1128.3 182.8"/>
<path class="k" style="stroke:#b5f6dc;stroke-width:.4" d="M1097.2 184.9L1102.9 184.9"/>
<path class="k" style="stroke:#b5f6dc;stroke-width:.4" d="M1123 184.9L1128.3 184.9"/>
<path class="k" style="stroke:#b5f6dc;stroke-width:.4" d="M1097.2 187L1102.9 187"/>
<path class="k" style="stroke:#b5f6dc;stroke-width:.4" d="M1123 187L1128.3 187"/>
<path class="k" style="stroke:#b5f6dc;stroke-width:.4" d="M1097.2 189.1L1102.9 189.1"/>
<path class="k" style="stroke:#b5f6dc;stroke-width:.4" d="M1123 189.1L1128.3 189.1"/>
<path class="k" style="stroke:#b5f6dc;stroke-width:.4" d="M1097.2 191.2L1102.9 191.2"/>
<path class="k" style="stroke:#b5f6dc;stroke-width:.4" d="M1123 191.2L1128.3 191.2"/>
<path class="k" style="stroke:#b5f6dc;stroke-width:.4" d="M1097.2 193.3L1102.9 193.3"/>
<path class="k" style="stroke:#b5f6dc;stroke-width:.4" d="M1123 193.3L1128.3 193.3"/>
<path class="k" style="stroke:#b5f6dc;stroke-width:.4" d="M1097.2 195.4L1102.9 195.4"/>
<path class="k" style="stroke:#b5f6dc;stroke-width:.4" d="M1123 195.4L1128.3 195.4"/>
<path class="k" style="stroke:#b5f6dc;stroke-width:.4" d="M1097.2 197.5L1102.9 197.5"/>
<path class="k" style="stroke:#b5f6dc;stroke-width:.4" d="M1123 197.5L1128.3 197.5"/>
<path class="k" style="stroke:#b5f6dc;stroke-width:.4" d="M1097.2 199.6L1102.9 199.6"/>
<path class="k" style="stroke:#b5f6dc;stroke-width:.4" d="M1123 199.6L1128.3 199.6"/>
<path class="k" style="stroke:#b5f6dc;stroke-width:.4" d="M1097.2 201.7L1102.9 201.7"/>
<path class="k" style="stroke:#b5f6dc;stroke-width:.4" d="M1123 201.7L1128.3 201.7"/>
<path class="k" style="stroke:#b5f6dc;stroke-width:.4" d="M1097.2 203.8L1102.9 203.8"/>
<path class="k" style="stroke:#b5f6dc;stroke-width:.4" d="M1123 203.8L1128.3 203.8"/>
<path class="k" style="stroke:#b5f6dc;stroke-width:.4" d="M1097.2 205.9L1102.9 205.9"/>
<path class="k" style="stroke:#b5f6dc;stroke-width:.4" d="M1123 205.9L1128.3 205.9"/>
<path class="k" style="stroke:#b5f6dc;stroke-width:.4" d="M1097.2 208L1102.9 208"/>
<path class="k" style="stroke:#b5f6dc;stroke-width:.4" d="M1123 208L1128.3 208"/>
<path class="k" style="stroke:#b5f6dc;stroke-width:.4" d="M1097.2 210.1L1102.9 210.1"/>
<path class="k" style="stroke:#b5f6dc;stroke-width:.4" d="M1123 210.1L1128.3 210.1"/>
<path class="k" style="stroke:#b5f6dc;stroke-width:.4" d="M1097.2 212.2L1102.9 212.2"/>
<path class="k" style="stroke:#b5f6dc;stroke-width:.4" d="M1123 212.2L1128.3 212.2"/>
<path class="k" style="stroke:#b5f6dc;stroke-width:.4" d="M1097.2 214.3L1102.9 214.3"/>
<path class="k" style="stroke:#b5f6dc;stroke-width:.4" d="M1123 214.3L1128.3 214.3"/>
<path class="pk" d="M1103.5 232.4A4 4 0 0 1 1111 232.4"/>
<path class="bl" style="fill:#29abe2" d="M1131 164.4L1135.4 162.4L1135.4 166.4Z"/>
<text class="b" x="1104.5" y="155" text-anchor="middle">M2_SSD1</text>
<text class="b" x="1116.5" y="195" text-anchor="middle" style="font-size:3px;" transform="rotate(-90 1116.5 195)">PCIE</text>
<path class="k" d="M935.6 253.4L1133.7 253.4L1133.7 359.3L935.6 359.3Q934.6 359.3 934.6 358.3L934.6 254.4Q934.6 253.4 935.6 253.4Z" style="stroke-width:1.2;stroke:#333"/>
<path class="k" d="M972.4 253.4L972.4 263.6M972.4 349.8L972.4 359.3" style="stroke-width:1.2;stroke:#333"/>
<rect class="gr" x="936.2" y="250.4" width="11.4" height="8.6" style="fill:#fff"/>
<rect class="gr" x="936.2" y="353.5" width="11.4" height="7.9" style="fill:#fff"/>
<rect class="grf" x="936.2" y="263.6" width="7.4" height="2.05"/>
<rect class="grf" x="936.2" y="266.38" width="7.4" height="2.05"/>
<rect class="grf" x="936.2" y="269.16" width="7.4" height="2.05"/>
<rect class="grf" x="936.2" y="271.94" width="7.4" height="2.05"/>
<rect class="grf" x="936.2" y="274.72" width="7.4" height="2.05"/>
<rect class="grf" x="936.2" y="277.5" width="7.4" height="2.05"/>
<rect class="grf" x="936.2" y="280.28" width="7.4" height="2.05"/>
<rect class="grf" x="936.2" y="283.06" width="7.4" height="2.05"/>
<rect class="grf" x="936.2" y="297.4" width="7.4" height="2.05"/>
<rect class="grf" x="936.2" y="300.18" width="7.4" height="2.05"/>
<rect class="grf" x="936.2" y="302.96" width="7.4" height="2.05"/>
<rect class="grf" x="936.2" y="305.74" width="7.4" height="2.05"/>
<rect class="grf" x="936.2" y="308.52" width="7.4" height="2.05"/>
<rect class="grf" x="936.2" y="311.3" width="7.4" height="2.05"/>
<rect class="grf" x="936.2" y="314.08" width="7.4" height="2.05"/>
<rect class="grf" x="936.2" y="316.86" width="7.4" height="2.05"/>
<rect class="grf" x="936.2" y="319.64" width="7.4" height="2.05"/>
<rect class="grf" x="936.2" y="322.42" width="7.4" height="2.05"/>
<rect class="grf" x="936.2" y="325.2" width="7.4" height="2.05"/>
<rect class="grf" x="936.2" y="327.98" width="7.4" height="2.05"/>
<rect class="grf" x="936.2" y="330.76" width="7.4" height="2.05"/>
<rect class="grf" x="936.2" y="333.54" width="7.4" height="2.05"/>
<rect class="grf" x="936.2" y="336.32" width="7.4" height="2.05"/>
<rect class="grf" x="936.2" y="339.1" width="7.4" height="2.05"/>
<rect class="grf" x="936.2" y="341.88" width="7.4" height="2.05"/>
<rect class="grf" x="936.2" y="344.66" width="7.4" height="2.05"/>
<rect class="grf" x="964.4" y="264.6" width="7.4" height="2.05"/>
<rect class="grf" x="964.4" y="267.38" width="7.4" height="2.05"/>
<rect class="grf" x="964.4" y="270.16" width="7.4" height="2.05"/>
<rect class="grf" x="964.4" y="272.94" width="7.4" height="2.05"/>
<rect class="grf" x="964.4" y="275.72" width="7.4" height="2.05"/>
<rect class="grf" x="964.4" y="278.5" width="7.4" height="2.05"/>
<rect class="grf" x="964.4" y="281.28" width="7.4" height="2.05"/>
<rect class="grf" x="964.4" y="284.06" width="7.4" height="2.05"/>
<rect class="grf" x="964.4" y="298.4" width="7.4" height="2.05"/>
<rect class="grf" x="964.4" y="301.18" width="7.4" height="2.05"/>
<rect class="grf" x="964.4" y="303.96" width="7.4" height="2.05"/>
<rect class="grf" x="964.4" y="306.74" width="7.4" height="2.05"/>
<rect class="grf" x="964.4" y="309.52" width="7.4" height="2.05"/>
<rect class="grf" x="964.4" y="312.3" width="7.4" height="2.05"/>
<rect class="grf" x="964.4" y="315.08" width="7.4" height="2.05"/>
<rect class="grf" x="964.4" y="317.86" width="7.4" height="2.05"/>
<rect class="grf" x="964.4" y="320.64" width="7.4" height="2.05"/>
<rect class="grf" x="964.4" y="323.42" width="7.4" height="2.05"/>
<rect class="grf" x="964.4" y="326.2" width="7.4" height="2.05"/>
<rect class="grf" x="964.4" y="328.98" width="7.4" height="2.05"/>
<rect class="grf" x="964.4" y="331.76" width="7.4" height="2.05"/>
<rect class="grf" x="964.4" y="334.54" width="7.4" height="2.05"/>
<rect class="grf" x="964.4" y="337.32" width="7.4" height="2.05"/>
<rect class="grf" x="964.4" y="340.1" width="7.4" height="2.05"/>
<rect class="grf" x="964.4" y="342.88" width="7.4" height="2.05"/>
<rect class="grf" x="964.4" y="345.66" width="7.4" height="2.05"/>
<circle class="pc" style="stroke:#c9a9b3" cx="953.6" cy="262.5" r="2.9"/>
<circle class="pc" style="stroke:#c9a9b3" cx="953.9" cy="349.8" r="2.5"/>
<circle cx="1037.4" cy="263.3" r="11.4" fill="#fff"/>
<use href="#so" x="1037.4" y="263.3"/>
<circle cx="1121.7" cy="263.3" r="11.4" fill="#fff"/>
<use href="#so" x="1121.7" y="263.3"/>
<text class="b" x="962" y="250.5" text-anchor="middle">MPCIE1</text>
<text class="b" x="1034.5" y="251" text-anchor="middle" style="font-size:3px;">H4</text>
<text class="b" x="1137" y="257.5" text-anchor="middle" style="font-size:3px;">H5</text>
<path class="k" d="M995.2 367.2L1160.9 367.2L1160.9 472L995.2 472Z" style="stroke-width:.9;stroke:#333"/>
<path class="k" style="stroke-width:.9;stroke:#333" d="M1125.4 367.2L1125.4 472"/>
<circle cx="1125.4" cy="419.8" r="15.8" fill="#fff"/>
<use href="#so2" x="1125.4" y="419.8"/>
<circle cx="1159.8" cy="419.8" r="15.8" fill="#fff"/>
<use href="#so2" x="1159.8" y="419.8"/>
<path class="k" style="stroke-width:.9;stroke:#333" d="M1125.4 404.5L1125.4 435.5"/>
<text class="b" x="1109.5" y="408.5" text-anchor="middle" style="font-size:3px;">H6</text>
<text class="b" x="1147.5" y="406" text-anchor="middle" style="font-size:3px;">H7</text>
<path class="k" style="stroke-width:1.1;stroke:#333" d="M963.5 381.1L963.5 458.4"/>
<path class="k" d="M974 381.3L978.4 381.3M990 381.3L995.4 381.3M974 458.4L979.6 458.4M989.2 458.4L995.4 458.4" style="stroke-width:1;stroke:#333"/>
<path class="gr" d="M966.6 381.6L973.6 381.6L973.6 385.4L969.8 385.4M966.6 458L973.6 458L973.6 455.2L969.8 455.2"/>
<rect class="grf" x="964.1" y="385.2" width="5.5" height="49.7"/>
<rect class="grf" x="964.1" y="443" width="5.5" height="12.9"/>
<rect class="grf" x="989.7" y="387.9" width="5.5" height="47.8"/>
<rect class="grf" x="989.7" y="443.8" width="5.5" height="7.8"/>
<path class="k" style="stroke:#b5f6dc;stroke-width:.4" d="M964.1 387.2L969.6 387.2"/>
<path class="k" style="stroke:#b5f6dc;stroke-width:.4" d="M964.1 389.3L969.6 389.3"/>
<path class="k" style="stroke:#b5f6dc;stroke-width:.4" d="M964.1 391.4L969.6 391.4"/>
<path class="k" style="stroke:#b5f6dc;stroke-width:.4" d="M964.1 393.5L969.6 393.5"/>
<path class="k" style="stroke:#b5f6dc;stroke-width:.4" d="M964.1 395.6L969.6 395.6"/>
<path class="k" style="stroke:#b5f6dc;stroke-width:.4" d="M964.1 397.7L969.6 397.7"/>
<path class="k" style="stroke:#b5f6dc;stroke-width:.4" d="M964.1 399.8L969.6 399.8"/>
<path class="k" style="stroke:#b5f6dc;stroke-width:.4" d="M964.1 401.9L969.6 401.9"/>
<path class="k" style="stroke:#b5f6dc;stroke-width:.4" d="M964.1 404L969.6 404"/>
<path class="k" style="stroke:#b5f6dc;stroke-width:.4" d="M964.1 406.1L969.6 406.1"/>
<path class="k" style="stroke:#b5f6dc;stroke-width:.4" d="M964.1 408.2L969.6 408.2"/>
<path class="k" style="stroke:#b5f6dc;stroke-width:.4" d="M964.1 410.3L969.6 410.3"/>
<path class="k" style="stroke:#b5f6dc;stroke-width:.4" d="M964.1 412.4L969.6 412.4"/>
<path class="k" style="stroke:#b5f6dc;stroke-width:.4" d="M964.1 414.5L969.6 414.5"/>
<path class="k" style="stroke:#b5f6dc;stroke-width:.4" d="M964.1 416.6L969.6 416.6"/>
<path class="k" style="stroke:#b5f6dc;stroke-width:.4" d="M964.1 418.7L969.6 418.7"/>
<path class="k" style="stroke:#b5f6dc;stroke-width:.4" d="M964.1 420.8L969.6 420.8"/>
<path class="k" style="stroke:#b5f6dc;stroke-width:.4" d="M964.1 422.9L969.6 422.9"/>
<path class="k" style="stroke:#b5f6dc;stroke-width:.4" d="M964.1 425L969.6 425"/>
<path class="k" style="stroke:#b5f6dc;stroke-width:.4" d="M964.1 427.1L969.6 427.1"/>
<path class="k" style="stroke:#b5f6dc;stroke-width:.4" d="M964.1 429.2L969.6 429.2"/>
<path class="k" style="stroke:#b5f6dc;stroke-width:.4" d="M964.1 431.3L969.6 431.3"/>
<path class="k" style="stroke:#b5f6dc;stroke-width:.4" d="M964.1 433.4L969.6 433.4"/>
<path class="k" style="stroke:#b5f6dc;stroke-width:.4" d="M989.7 390L995.2 390"/>
<path class="k" style="stroke:#b5f6dc;stroke-width:.4" d="M989.7 392.1L995.2 392.1"/>
<path class="k" style="stroke:#b5f6dc;stroke-width:.4" d="M989.7 394.2L995.2 394.2"/>
<path class="k" style="stroke:#b5f6dc;stroke-width:.4" d="M989.7 396.3L995.2 396.3"/>
<path class="k" style="stroke:#b5f6dc;stroke-width:.4" d="M989.7 398.4L995.2 398.4"/>
<path class="k" style="stroke:#b5f6dc;stroke-width:.4" d="M989.7 400.5L995.2 400.5"/>
<path class="k" style="stroke:#b5f6dc;stroke-width:.4" d="M989.7 402.6L995.2 402.6"/>
<path class="k" style="stroke:#b5f6dc;stroke-width:.4" d="M989.7 404.7L995.2 404.7"/>
<path class="k" style="stroke:#b5f6dc;stroke-width:.4" d="M989.7 406.8L995.2 406.8"/>
<path class="k" style="stroke:#b5f6dc;stroke-width:.4" d="M989.7 408.9L995.2 408.9"/>
<path class="k" style="stroke:#b5f6dc;stroke-width:.4" d="M989.7 411L995.2 411"/>
<path class="k" style="stroke:#b5f6dc;stroke-width:.4" d="M989.7 413.1L995.2 413.1"/>
<path class="k" style="stroke:#b5f6dc;stroke-width:.4" d="M989.7 415.2L995.2 415.2"/>
<path class="k" style="stroke:#b5f6dc;stroke-width:.4" d="M989.7 417.3L995.2 417.3"/>
<path class="k" style="stroke:#b5f6dc;stroke-width:.4" d="M989.7 419.4L995.2 419.4"/>
<path class="k" style="stroke:#b5f6dc;stroke-width:.4" d="M989.7 421.5L995.2 421.5"/>
<path class="k" style="stroke:#b5f6dc;stroke-width:.4" d="M989.7 423.6L995.2 423.6"/>
<path class="k" style="stroke:#b5f6dc;stroke-width:.4" d="M989.7 425.7L995.2 425.7"/>
<path class="k" style="stroke:#b5f6dc;stroke-width:.4" d="M989.7 427.8L995.2 427.8"/>
<path class="k" style="stroke:#b5f6dc;stroke-width:.4" d="M989.7 429.9L995.2 429.9"/>
<path class="k" style="stroke:#b5f6dc;stroke-width:.4" d="M989.7 432L995.2 432"/>
<path class="k" style="stroke:#b5f6dc;stroke-width:.4" d="M989.7 434.1L995.2 434.1"/>
<circle class="pk" cx="984.7" cy="384.8" r="2.9"/>
<circle class="pc" cx="984.7" cy="454.7" r="2.6"/>
<path class="kf" d="M957.4 449.4L962.8 451.8L957.4 454.2Z"/>
<text class="b" x="1008.7" y="478.2" text-anchor="middle">M2_SG1</text>
<path class="k2" d="M1004.3 291.1L1004.3 281.1L1058 281.1L1058 337.2L1004.3 337.2L1004.3 328.9"/>
<path class="k2" d="M1004.3 291.1L1016.9 291.1L1016.9 328.9L1004.3 328.9"/>
<path class="kS" d="M1004.3 291.1L1004.3 328.9"/>
<path class="k2" d="M1058 282.4L1084.8 282.4L1093.5 292.6L1093.5 336.5L1058 336.5"/>
<path class="kS" d="M1084.8 282.4L1126.1 282.4L1135.9 292.6L1135.9 336.5L1093.5 336.5"/>
<path class="k2" d="M1053.3 294.3L1037 294.3"/>
<path class="kf" d="M1034.6 294.3L1040.4 291.3L1040.4 297.3Z"/>
<path class="k2" d="M1053.3 323.7L1037 323.7"/>
<path class="kf" d="M1034.6 323.7L1040.4 320.7L1040.4 326.7Z"/>
<rect class="gr" x="1025.7" y="278.6" width="5.2" height="3.2" style="fill:#fff"/>
<rect class="gr" x="1040.4" y="278.6" width="5.2" height="3.2" style="fill:#fff"/>
<rect class="gr" x="1025.7" y="337" width="5.2" height="3.2" style="fill:#fff"/>
<rect class="gr" x="1040.4" y="337" width="5.2" height="3.2" style="fill:#fff"/>
<rect class="gr" x="1015.2" y="303.9" width="4.4" height="3.4" style="fill:#fff"/>
<rect class="gr" x="1015.2" y="312.6" width="4.4" height="3.4" style="fill:#fff"/>
<rect class="gr" x="1015.2" y="321.3" width="4.4" height="3.4" style="fill:#fff"/>
<rect class="gr" x="1055.4" y="303.9" width="4.4" height="3.4" style="fill:#fff"/>
<rect class="gr" x="1055.4" y="312.6" width="4.4" height="3.4" style="fill:#fff"/>
<rect class="gr" x="1055.4" y="321.3" width="4.4" height="3.4" style="fill:#fff"/>
<path class="k" d="M1009.3 321.4L1012.6 323.1L1009.3 324.8Z" style="stroke-width:.7"/>
<text class="b" x="1055.4" y="276.6" text-anchor="middle">SIM1</text>
<path class="k2" d="M1004.3 356.5L1004.3 346.5L1058 346.5L1058 402.6L1004.3 402.6L1004.3 394.3"/>
<path class="k2" d="M1004.3 356.5L1016.9 356.5L1016.9 394.3L1004.3 394.3"/>
<path class="kS" d="M1004.3 356.5L1004.3 394.3"/>
<path class="k2" d="M1058 347.8L1084.8 347.8L1093.5 358L1093.5 401.9L1058 401.9"/>
<path class="kS" d="M1084.8 347.8L1126.1 347.8L1135.9 358L1135.9 401.9L1093.5 401.9"/>
<path class="k2" d="M1053.3 359.7L1037 359.7"/>
<path class="kf" d="M1034.6 359.7L1040.4 356.7L1040.4 362.7Z"/>
<path class="k2" d="M1053.3 389.1L1037 389.1"/>
<path class="kf" d="M1034.6 389.1L1040.4 386.1L1040.4 392.1Z"/>
<rect class="gr" x="1025.7" y="344" width="5.2" height="3.2" style="fill:#fff"/>
<rect class="gr" x="1040.4" y="344" width="5.2" height="3.2" style="fill:#fff"/>
<rect class="gr" x="1025.7" y="402.4" width="5.2" height="3.2" style="fill:#fff"/>
<rect class="gr" x="1040.4" y="402.4" width="5.2" height="3.2" style="fill:#fff"/>
<rect class="gr" x="1015.2" y="369.3" width="4.4" height="3.4" style="fill:#fff"/>
<rect class="gr" x="1015.2" y="378" width="4.4" height="3.4" style="fill:#fff"/>
<rect class="gr" x="1015.2" y="386.7" width="4.4" height="3.4" style="fill:#fff"/>
<rect class="gr" x="1055.4" y="369.3" width="4.4" height="3.4" style="fill:#fff"/>
<rect class="gr" x="1055.4" y="378" width="4.4" height="3.4" style="fill:#fff"/>
<rect class="gr" x="1055.4" y="386.7" width="4.4" height="3.4" style="fill:#fff"/>
<path class="k" d="M1009.3 386.8L1012.6 388.5L1009.3 390.2Z" style="stroke-width:.7"/>
<text class="b" x="1042.4" y="413.3" text-anchor="middle">SIM2</text>
<path class="gr" d="M721 249L730.6 249"/>
<path class="gr" d="M748.7 249L758 249"/>
<path class="gr" d="M721 251.25L730.6 251.25"/>
<path class="gr" d="M748.7 251.25L758 251.25"/>
<path class="gr" d="M721 253.5L730.6 253.5"/>
<path class="gr" d="M748.7 253.5L758 253.5"/>
<path class="gr" d="M721 255.75L730.6 255.75"/>
<path class="gr" d="M748.7 255.75L758 255.75"/>
<path class="gr" d="M721 258L730.6 258"/>
<path class="gr" d="M748.7 258L758 258"/>
<path class="gr" d="M721 260.25L730.6 260.25"/>
<path class="gr" d="M748.7 260.25L758 260.25"/>
<path class="gr" d="M721 262.5L730.6 262.5"/>
<path class="gr" d="M748.7 262.5L758 262.5"/>
<path class="gr" d="M721 264.75L730.6 264.75"/>
<path class="gr" d="M748.7 264.75L758 264.75"/>
<path class="bl2" d="M730.9 245.5L748.7 245.5L748.7 267.3L743.5 267.3L743.5 265L736.3 265L736.3 267.3L730.9 267.3Z"/>
<circle class="bl" style="fill:#29abe2" cx="750.8" cy="266.3" r="1"/>
<text class="b" x="738" y="272.3" text-anchor="middle" style="font-size:3.4px;">BIOS1</text>
<path class="k2" d="M621.5 370.2L621.5 379.9L648.9 379.9L648.9 370.2A40.5 40.5 0 1 0 621.5 370.2" style="stroke-width:1.9"/>
<circle class="gr" cx="635.3" cy="303.6" r="3"/>
<rect class="gr" x="631.5" y="368.4" width="7.6" height="7.6"/>
<circle class="pk" cx="635.3" cy="372.2" r="2.4"/>
<path class="k2" d="M621.4 362L628 362M624.7 358.7L624.7 365.3"/>
<text class="b" x="673.7" y="305.3" text-anchor="middle">BAT1</text>
<path class="k2" d="M769.7 262.1A15.8 15.8 0 0 1 801.3 262.1L801.3 270.3A3.2 3.2 0 0 0 804.5 273.5L876.8 273.5L876.8 397.4A15.9 15.9 0 0 1 845 397.4L845 387.3L769.7 387.3Z" style="stroke-width:1.6"/>
<rect class="k" x="775.6" y="277.4" width="95.6" height="106.1" style="stroke-width:1.1"/>
<rect class="k2" x="779.4" y="281" width="88.2" height="98.6" style="stroke-width:1.5;stroke:#333"/>
<circle class="pc" cx="786" cy="262.1" r="5.4"/>
<circle class="pc" cx="860.5" cy="397.4" r="5.4"/>
<rect x="781.4" y="282.6" width="83.8" height="6.6" fill="url(#bgaQ)"/>
<rect x="781.4" y="370.4" width="83.8" height="6.6" fill="url(#bgaQ)"/>
<rect x="781.4" y="289.2" width="5" height="81.2" fill="url(#bgaQ)"/>
<rect x="860.2" y="289.2" width="5" height="81.2" fill="url(#bgaQ)"/>
<rect x="812.8" y="312.3" width="21" height="35" fill="url(#bgaP)"/>
<path d="M788.5 289.8L789.54 291.58M788.5 369.8L789.54 368.02M791.4 289.8L792.36 294.2M791.4 369.8L792.36 365.4M794.3 289.8L795.17 296.81M794.3 369.8L795.17 362.79M797.2 289.8L797.98 299.43M797.2 369.8L797.98 360.17M800.1 289.8L800.8 302.05M800.1 369.8L800.8 357.55M803 289.8L803.61 304.66M803 369.8L803.61 354.94M805.9 289.8L806.42 307.28M805.9 369.8L806.42 352.32M808.8 289.8L809.23 309.89M808.8 369.8L809.23 349.71M811.7 289.8L812.05 312.51M811.7 369.8L812.05 347.09M814.6 289.8L814.86 313.5M814.6 369.8L814.86 346.1M817.5 289.8L817.67 313.5M817.5 369.8L817.67 346.1M820.4 289.8L820.49 313.5M820.4 369.8L820.49 346.1M823.3 289.8L823.3 313.5M823.3 369.8L823.3 346.1M826.2 289.8L826.11 313.5M826.2 369.8L826.11 346.1M829.1 289.8L828.93 313.5M829.1 369.8L828.93 346.1M832 289.8L831.74 313.5M832 369.8L831.74 346.1M834.9 289.8L834.55 312.51M834.9 369.8L834.55 347.09M837.8 289.8L837.37 309.89M837.8 369.8L837.37 349.71M840.7 289.8L840.18 307.28M840.7 369.8L840.18 352.32M843.6 289.8L842.99 304.66M843.6 369.8L842.99 354.94M846.5 289.8L845.8 302.05M846.5 369.8L845.8 357.55M849.4 289.8L848.62 299.43M849.4 369.8L848.62 360.17M852.3 289.8L851.43 296.81M852.3 369.8L851.43 362.79M855.2 289.8L854.24 294.2M855.2 369.8L854.24 365.4M858.1 289.8L857.06 291.58M858.1 369.8L857.06 368.02M787.3 290.6L789.94 291.78M859.3 290.6L856.66 291.78M787.3 293.4L793.05 294.49M859.3 293.4L853.55 294.49M787.3 296.2L796.15 297.21M859.3 296.2L850.45 297.21M787.3 299L799.25 299.92M859.3 299L847.35 299.92M787.3 301.8L802.36 302.64M859.3 301.8L844.24 302.64M787.3 304.6L805.46 305.36M859.3 304.6L841.14 305.36M787.3 307.4L808.57 308.07M859.3 307.4L838.03 308.07M787.3 310.2L811.67 310.79M859.3 310.2L834.93 310.79M787.3 313L814 313.5M859.3 313L832.6 313.5M787.3 315.8L814 316.22M859.3 315.8L832.6 316.22M787.3 318.6L814 318.94M859.3 318.6L832.6 318.94M787.3 321.4L814 321.65M859.3 321.4L832.6 321.65M787.3 324.2L814 324.37M859.3 324.2L832.6 324.37M787.3 327L814 327.08M859.3 327L832.6 327.08M787.3 329.8L814 329.8M859.3 329.8L832.6 329.8M787.3 332.6L814 332.52M859.3 332.6L832.6 332.52M787.3 335.4L814 335.23M859.3 335.4L832.6 335.23M787.3 338.2L814 337.95M859.3 338.2L832.6 337.95M787.3 341L814 340.66M859.3 341L832.6 340.66M787.3 343.8L814 343.38M859.3 343.8L832.6 343.38M787.3 346.6L814 346.1M859.3 346.6L832.6 346.1M787.3 349.4L811.67 348.81M859.3 349.4L834.93 348.81M787.3 352.2L808.57 351.53M859.3 352.2L838.03 351.53M787.3 355L805.46 354.24M859.3 355L841.14 354.24M787.3 357.8L802.36 356.96M859.3 357.8L844.24 356.96M787.3 360.6L799.25 359.68M859.3 360.6L847.35 359.68M787.3 363.4L796.15 362.39M859.3 363.4L850.45 362.39M787.3 366.2L793.05 365.11M859.3 366.2L853.55 365.11M787.3 369L789.94 367.82M859.3 369L856.66 367.82" fill="none" stroke="#52e3ae" stroke-width="1.5" stroke-linecap="round" stroke-dasharray="0 2.33"/>
<text class="b" x="767" y="318" text-anchor="middle" style="font-size:3.4px;" transform="rotate(-90 767 318)">PCH1</text>
<path class="k2" d="M281.4 355.3L544.5 355.3L544.5 551.1L326.1 551.1L316.9 559.5L281.4 559.5Z" style="stroke-width:1.15"/>
<path class="k2" d="M281.4 355.3L279.3 353.3L250.2 325L279.4 295.3L339.5 355.3" style="stroke-width:1.15"/>
<path class="k2" style="stroke-width:1.15" d="M279.3 353.3L308.3 324.3"/>
<path class="k2" d="M493 355.3L552.8 295.1L582.7 325.4L544.5 363.2M582.7 325.4L582.7 407.4L554.3 407.4L554.3 422.3L544.5 422.3" style="stroke-width:1.15"/>
<path class="k2" style="stroke-width:1.1" d="M339.5 355.3L508.4 339.6"/>
<path class="k2" d="M544.5 455.5L554.4 455.5L554.4 467.8L544.5 467.8M544.5 500.8L554.4 500.8L554.4 519L544.5 519" style="stroke-width:1.15"/>
<path class="k2" d="M281.4 559.5L281.4 567.1L249.8 598.4L280 628L356 551.1" style="stroke-width:1.15"/>
<path class="k2" style="stroke-width:1.15" d="M279.1 569.3L308.5 598.4"/>
<path class="k2" d="M476.2 551.1L553 628L582.4 598.4L536.3 553.9" style="stroke-width:1.15"/>
<path class="k2" style="stroke-width:1.15" d="M552.5 569.3L523.7 598.4"/>
<path class="k2" style="stroke-width:1.15" d="M336.4 571.3L494.9 571.3"/>
<path class="k2" d="M546.9 536.3L546.9 553.9L529.3 553.9Z" style="stroke-width:1.1"/>
<path class="k" d="M545 541L545 552.2L533.6 552.2Z" style="stroke-width:.8"/>
<path class="g" d="M504 528L496.5 535.8M504 528L504 544.2L511 536.4"/>
<path class="k2" d="M276.21 333.48A10.2 10.2 0 1 1 289.59 321.42A10.2 10.2 0 1 1 276.21 333.48Z" style="stroke-width:1.15"/>
<circle class="pc" cx="279.7" cy="323.9" r="6.8"/>
<circle class="pc" cx="286.1" cy="331" r="6.6"/>
<path class="k2" d="M543.53 321.68A10.2 10.2 0 1 1 556.97 334.12A10.2 10.2 0 1 1 543.53 321.68Z" style="stroke-width:1.15"/>
<circle class="pc" cx="553.3" cy="324.6" r="6.8"/>
<circle class="pc" cx="547.2" cy="331.2" r="6.6"/>
<path class="k2" d="M288.96 600.79A10.2 10.2 0 1 1 276.14 588.81A10.2 10.2 0 1 1 288.96 600.79Z" style="stroke-width:1.15"/>
<circle class="pc" cx="279" cy="598.6" r="6.8"/>
<circle class="pc" cx="286.1" cy="591" r="6.6"/>
<path class="k2" d="M557.15 589.15A10.2 10.2 0 1 1 543.35 600.85A10.2 10.2 0 1 1 557.15 589.15Z" style="stroke-width:1.15"/>
<circle class="pc" cx="553.3" cy="598.6" r="6.8"/>
<circle class="pc" cx="547.2" cy="591.4" r="6.6"/>
<rect class="k2" x="328.6" y="387.1" width="175.2" height="148.8" style="stroke-width:1.15"/>
<path class="g" d="M505 388L505 537.2L330 537.2"/>
<circle class="k2" style="stroke-width:1.15" cx="311.5" cy="398.5" r="10.6"/>
<circle class="pc" cx="311.5" cy="398.5" r="6.6"/>
<circle class="k2" style="stroke-width:1.15" cx="520.8" cy="391.4" r="10.6"/>
<circle class="pc" cx="520.8" cy="391.4" r="6.6"/>
<circle class="k2" style="stroke-width:1.15" cx="311.5" cy="524" r="10.6"/>
<circle class="pc" cx="311.5" cy="524" r="6.6"/>
<circle class="k2" style="stroke-width:1.15" cx="520.8" cy="530.7" r="10.6"/>
<circle class="pc" cx="520.8" cy="530.7" r="6.6"/>
<path fill="url(#cpuP)" d="M343.4 399.1L452.3 399.1L452.3 434.1L365.5 434.1L365.5 488.6L368.3 488.6L368.3 521.3L344.2 521.3L341 515.6L341 401.5Z"/>
<path fill="url(#cpuP)" d="M458.8 401.8L488.4 401.8L492 407.8L491.8 518.2L486.5 524.6L374.7 524.6L374.7 488.8L461.4 488.8L461.4 434.4L458.8 434.4Z"/>
<rect x="370.4" y="438.4" width="85.4" height="46.3" fill="#5a5457" stroke="#3d3d3d" stroke-width="1.3"/>
<rect x="373.05" y="441" width="5.3" height="4.8" rx="1.7" fill="#f4fffb" stroke="#5be3b3" stroke-width="1.15"/>
<rect x="378.65" y="441" width="5.3" height="4.8" rx="1.7" fill="#f4fffb" stroke="#5be3b3" stroke-width="1.15"/>
<rect x="386.25" y="441" width="5.3" height="4.8" rx="1.7" fill="#f4fffb" stroke="#5be3b3" stroke-width="1.15"/>
<rect x="391.85" y="441" width="5.3" height="4.8" rx="1.7" fill="#f4fffb" stroke="#5be3b3" stroke-width="1.15"/>
<rect x="399.35" y="441" width="5.3" height="4.8" rx="1.7" fill="#f4fffb" stroke="#5be3b3" stroke-width="1.15"/>
<rect x="404.95" y="441" width="5.3" height="4.8" rx="1.7" fill="#f4fffb" stroke="#5be3b3" stroke-width="1.15"/>
<rect x="429.65" y="441" width="5.3" height="4.8" rx="1.7" fill="#f4fffb" stroke="#5be3b3" stroke-width="1.15"/>
<rect x="435.25" y="441" width="5.3" height="4.8" rx="1.7" fill="#f4fffb" stroke="#5be3b3" stroke-width="1.15"/>
<rect x="443.15" y="441" width="5.3" height="4.8" rx="1.7" fill="#f4fffb" stroke="#5be3b3" stroke-width="1.15"/>
<rect x="448.75" y="441" width="5.3" height="4.8" rx="1.7" fill="#f4fffb" stroke="#5be3b3" stroke-width="1.15"/>
<rect x="373.05" y="447.6" width="5.3" height="4.8" rx="1.7" fill="#f4fffb" stroke="#5be3b3" stroke-width="1.15"/>
<rect x="378.65" y="447.6" width="5.3" height="4.8" rx="1.7" fill="#f4fffb" stroke="#5be3b3" stroke-width="1.15"/>
<rect x="386.25" y="447.6" width="5.3" height="4.8" rx="1.7" fill="#f4fffb" stroke="#5be3b3" stroke-width="1.15"/>
<rect x="391.85" y="447.6" width="5.3" height="4.8" rx="1.7" fill="#f4fffb" stroke="#5be3b3" stroke-width="1.15"/>
<rect x="399.35" y="447.6" width="5.3" height="4.8" rx="1.7" fill="#f4fffb" stroke="#5be3b3" stroke-width="1.15"/>
<rect x="404.95" y="447.6" width="5.3" height="4.8" rx="1.7" fill="#f4fffb" stroke="#5be3b3" stroke-width="1.15"/>
<rect x="429.65" y="447.6" width="5.3" height="4.8" rx="1.7" fill="#f4fffb" stroke="#5be3b3" stroke-width="1.15"/>
<rect x="435.25" y="447.6" width="5.3" height="4.8" rx="1.7" fill="#f4fffb" stroke="#5be3b3" stroke-width="1.15"/>
<rect x="443.15" y="447.6" width="5.3" height="4.8" rx="1.7" fill="#f4fffb" stroke="#5be3b3" stroke-width="1.15"/>
<rect x="448.75" y="447.6" width="5.3" height="4.8" rx="1.7" fill="#f4fffb" stroke="#5be3b3" stroke-width="1.15"/>
<rect x="373.05" y="454.2" width="5.3" height="4.8" rx="1.7" fill="#f4fffb" stroke="#5be3b3" stroke-width="1.15"/>
<rect x="378.65" y="454.2" width="5.3" height="4.8" rx="1.7" fill="#f4fffb" stroke="#5be3b3" stroke-width="1.15"/>
<rect x="386.25" y="454.2" width="5.3" height="4.8" rx="1.7" fill="#f4fffb" stroke="#5be3b3" stroke-width="1.15"/>
<rect x="391.85" y="454.2" width="5.3" height="4.8" rx="1.7" fill="#f4fffb" stroke="#5be3b3" stroke-width="1.15"/>
<rect x="399.35" y="454.2" width="5.3" height="4.8" rx="1.7" fill="#f4fffb" stroke="#5be3b3" stroke-width="1.15"/>
<rect x="404.95" y="454.2" width="5.3" height="4.8" rx="1.7" fill="#f4fffb" stroke="#5be3b3" stroke-width="1.15"/>
<rect x="429.65" y="454.2" width="5.3" height="4.8" rx="1.7" fill="#f4fffb" stroke="#5be3b3" stroke-width="1.15"/>
<rect x="435.25" y="454.2" width="5.3" height="4.8" rx="1.7" fill="#f4fffb" stroke="#5be3b3" stroke-width="1.15"/>
<rect x="443.15" y="454.2" width="5.3" height="4.8" rx="1.7" fill="#f4fffb" stroke="#5be3b3" stroke-width="1.15"/>
<rect x="448.75" y="454.2" width="5.3" height="4.8" rx="1.7" fill="#f4fffb" stroke="#5be3b3" stroke-width="1.15"/>
<rect x="373.05" y="461.1" width="5.3" height="4.8" rx="1.7" fill="#f4fffb" stroke="#5be3b3" stroke-width="1.15"/>
<rect x="378.65" y="461.1" width="5.3" height="4.8" rx="1.7" fill="#f4fffb" stroke="#5be3b3" stroke-width="1.15"/>
<rect x="386.25" y="461.1" width="5.3" height="4.8" rx="1.7" fill="#f4fffb" stroke="#5be3b3" stroke-width="1.15"/>
<rect x="391.85" y="461.1" width="5.3" height="4.8" rx="1.7" fill="#f4fffb" stroke="#5be3b3" stroke-width="1.15"/>
<rect x="399.35" y="461.1" width="5.3" height="4.8" rx="1.7" fill="#f4fffb" stroke="#5be3b3" stroke-width="1.15"/>
<rect x="404.95" y="461.1" width="5.3" height="4.8" rx="1.7" fill="#f4fffb" stroke="#5be3b3" stroke-width="1.15"/>
<rect x="429.65" y="461.1" width="5.3" height="4.8" rx="1.7" fill="#f4fffb" stroke="#5be3b3" stroke-width="1.15"/>
<rect x="435.25" y="461.1" width="5.3" height="4.8" rx="1.7" fill="#f4fffb" stroke="#5be3b3" stroke-width="1.15"/>
<rect x="374.2" y="468" width="8.6" height="2" rx="1" fill="#f4fffb" stroke="#5be3b3" stroke-width="1.15"/>
<rect x="387.4" y="468" width="8.6" height="2" rx="1" fill="#f4fffb" stroke="#5be3b3" stroke-width="1.15"/>
<rect x="400.5" y="468" width="8.6" height="2" rx="1" fill="#f4fffb" stroke="#5be3b3" stroke-width="1.15"/>
<rect x="430.8" y="468" width="8.6" height="2" rx="1" fill="#f4fffb" stroke="#5be3b3" stroke-width="1.15"/>
<rect x="412.4" y="439.6" width="16" height="31.6" fill="#fff"/>
<rect x="413.9" y="441.6" width="2.8" height="7.8" rx="1.3" fill="#f4fffb" stroke="#5be3b3" stroke-width="1.15"/>
<rect x="419" y="441.6" width="2.8" height="7.8" rx="1.3" fill="#f4fffb" stroke="#5be3b3" stroke-width="1.15"/>
<rect x="424.1" y="441.6" width="2.8" height="7.8" rx="1.3" fill="#f4fffb" stroke="#5be3b3" stroke-width="1.15"/>
<rect x="415.6" y="454.2" width="5.3" height="4.8" rx="1.7" fill="#f4fffb" stroke="#5be3b3" stroke-width="1.15"/>
<rect x="421.2" y="454.2" width="5.3" height="4.8" rx="1.7" fill="#f4fffb" stroke="#5be3b3" stroke-width="1.15"/>
<rect x="415.6" y="461.1" width="5.3" height="4.8" rx="1.7" fill="#f4fffb" stroke="#5be3b3" stroke-width="1.15"/>
<rect x="421.2" y="461.1" width="5.3" height="4.8" rx="1.7" fill="#f4fffb" stroke="#5be3b3" stroke-width="1.15"/>
<rect x="416.8" y="468" width="8" height="2" rx="1" fill="#f4fffb" stroke="#5be3b3" stroke-width="1.15"/>
<rect x="443.4" y="460.4" width="11.6" height="10.8" fill="#fff"/>
<rect x="445" y="461.9" width="8.2" height="2.8" rx="1.2" fill="#f4fffb" stroke="#5be3b3" stroke-width="1.15"/>
<rect x="445" y="466.7" width="8.2" height="3" rx="1.2" fill="#f4fffb" stroke="#5be3b3" stroke-width="1.15"/>
<rect x="373" y="472.1" width="5.2" height="10.8" rx="1.7" fill="#f4fffb" stroke="#5be3b3" stroke-width="1.15"/>
<path class="k" style="stroke:#5be3b3;stroke-width:.9" d="M373.2 477.5L378 477.5"/>
<rect x="380" y="472.1" width="5.2" height="10.8" rx="1.7" fill="#f4fffb" stroke="#5be3b3" stroke-width="1.15"/>
<path class="k" style="stroke:#5be3b3;stroke-width:.9" d="M380.2 477.5L385 477.5"/>
<rect x="386.5" y="472.1" width="5.2" height="10.8" rx="1.7" fill="#f4fffb" stroke="#5be3b3" stroke-width="1.15"/>
<path class="k" style="stroke:#5be3b3;stroke-width:.9" d="M386.7 477.5L391.5 477.5"/>
<rect x="393.1" y="472.1" width="5.2" height="10.8" rx="1.7" fill="#f4fffb" stroke="#5be3b3" stroke-width="1.15"/>
<path class="k" style="stroke:#5be3b3;stroke-width:.9" d="M393.3 477.5L398.1 477.5"/>
<rect x="400" y="472.1" width="5.2" height="10.8" rx="1.7" fill="#f4fffb" stroke="#5be3b3" stroke-width="1.15"/>
<path class="k" style="stroke:#5be3b3;stroke-width:.9" d="M400.2 477.5L405 477.5"/>
<rect x="406.6" y="472.1" width="5.2" height="10.8" rx="1.7" fill="#f4fffb" stroke="#5be3b3" stroke-width="1.15"/>
<path class="k" style="stroke:#5be3b3;stroke-width:.9" d="M406.8 477.5L411.6 477.5"/>
<rect x="413.2" y="472.1" width="5.2" height="10.8" rx="1.7" fill="#f4fffb" stroke="#5be3b3" stroke-width="1.15"/>
<path class="k" style="stroke:#5be3b3;stroke-width:.9" d="M413.4 477.5L418.2 477.5"/>
<rect x="422.3" y="472.1" width="5.2" height="10.8" rx="1.7" fill="#f4fffb" stroke="#5be3b3" stroke-width="1.15"/>
<path class="k" style="stroke:#5be3b3;stroke-width:.9" d="M422.5 477.5L427.3 477.5"/>
<rect x="429.3" y="472.1" width="5.2" height="10.8" rx="1.7" fill="#f4fffb" stroke="#5be3b3" stroke-width="1.15"/>
<path class="k" style="stroke:#5be3b3;stroke-width:.9" d="M429.5 477.5L434.3 477.5"/>
<rect x="435.8" y="472.1" width="5.2" height="10.8" rx="1.7" fill="#f4fffb" stroke="#5be3b3" stroke-width="1.15"/>
<path class="k" style="stroke:#5be3b3;stroke-width:.9" d="M436 477.5L440.8 477.5"/>
<rect x="442.4" y="472.1" width="5.2" height="10.8" rx="1.7" fill="#f4fffb" stroke="#5be3b3" stroke-width="1.15"/>
<path class="k" style="stroke:#5be3b3;stroke-width:.9" d="M442.6 477.5L447.4 477.5"/>
<rect x="449.3" y="472.1" width="5.2" height="10.8" rx="1.7" fill="#f4fffb" stroke="#5be3b3" stroke-width="1.15"/>
<path class="k" style="stroke:#5be3b3;stroke-width:.9" d="M449.5 477.5L454.3 477.5"/>
<rect x="419.5" y="471.6" width="1.1" height="12.4" fill="#fff"/>
<path class="k" d="M554.4 455.5L554.4 467.8"/>
<text class="b" x="560.5" y="485" text-anchor="middle" transform="rotate(-90 560.5 485)">CPU1</text>
<rect class="k2" x="173.5" y="394.5" width="41.3" height="203.7" style="stroke-width:1.15"/>
<circle class="k2" style="stroke-width:1.15" cx="194" cy="410.7" r="12.5"/>
<circle class="pc" cx="194" cy="410.7" r="5.3"/>
<circle class="k2" style="stroke-width:1.15" cx="194" cy="582" r="12.5"/>
<circle class="pc" cx="194" cy="582" r="5.3"/>
<rect class="k2" x="274.2" y="662.4" width="326.4" height="40.9" style="stroke-width:1.15"/>
<circle class="k2" style="stroke-width:1.15" cx="290.4" cy="682.6" r="12.5"/>
<circle class="pc" cx="290.4" cy="682.6" r="5.3"/>
<circle class="k2" style="stroke-width:1.15" cx="584.3" cy="682.6" r="12.5"/>
<circle class="pc" cx="584.3" cy="682.6" r="5.3"/>
<path class="g" d="M159.7 577.8L159.7 575.6L168.5 575.6L168.5 582.8"/>
<rect class="k" x="157.9" y="577.8" width="8.8" height="26.25" style="stroke-width:1.2;stroke:#333"/>
<rect class="k" x="157.9" y="577.8" width="8.8" height="8.75" style="stroke-width:1.3;stroke:#333"/>
<rect class="gr" x="160" y="579.9" width="4.6" height="4.6" style="stroke-width:.6"/>
<circle class="gr" cx="162.3" cy="582.2" r="1.8"/>
<rect class="gr" x="160" y="588.65" width="4.6" height="4.6" style="stroke-width:.6"/>
<circle class="gr" cx="162.3" cy="590.95" r="1.8"/>
<rect class="gr" x="160" y="597.4" width="4.6" height="4.6" style="stroke-width:.6"/>
<circle class="gr" cx="162.3" cy="599.7" r="1.8"/>
<path class="g" d="M172.5 579L169.5 581.5L172.5 584Z"/>
<text class="b" x="152.5" y="590" text-anchor="middle" style="font-size:4.4px;" transform="rotate(-90 152.5 590)">VR_SMBUS1</text>
<text class="b" x="156" y="590" text-anchor="middle" style="font-size:2.4px;" transform="rotate(-90 156 590)">DATA/CLK/GND</text>
<rect class="k2" x="149" y="609.8" width="39.1" height="63.3" style="stroke-width:1.7"/>
<rect class="k" x="188.3" y="619.1" width="4.2" height="44.7"/>
<use href="#pb" x="159.8" y="619.7"/>
<use href="#pb" x="178.8" y="619.7"/>
<use href="#pb" x="159.8" y="634.3"/>
<use href="#pb" x="178.8" y="634.3"/>
<use href="#pb" x="159.8" y="648.9"/>
<use href="#pb" x="178.8" y="648.9"/>
<use href="#pb" x="178.8" y="663.5"/>
<rect class="gr" x="155.4" y="659" width="8.8" height="8.8"/>
<path class="pc" d="M156.3 660L163.3 666.8M163.3 660L156.3 666.8"/>
<circle class="pk" cx="184.6" cy="642" r="1"/>
<path class="g" d="M154.6 680L159.2 674.6L163.8 680Z"/>
<text class="b" x="198.3" y="633.4" text-anchor="middle" transform="rotate(90 198.3 633.4)">ATX_2</text>
<text class="b" x="152.5" y="608.2" text-anchor="middle" style="font-size:3px;">GND</text>
<text class="b" x="179" y="608.2" text-anchor="middle" style="font-size:3px;">+12V</text>
<text class="b" x="152.5" y="677.5" text-anchor="middle" style="font-size:3px;">GND</text>
<text class="b" x="179" y="677.5" text-anchor="middle" style="font-size:3px;">+12V</text>
<path class="k3" d="M172.4 697.3L153.7 697.3L153.7 790.6L172.4 790.6" style="stroke-width:3.4"/>
<path class="k3" d="M154 697.6L156.5 697.6"/>
<rect class="kf" x="168.8" y="697.3" width="4.2" height="9.2"/>
<rect class="kf" x="168.8" y="781.4" width="4.2" height="9.2"/>
<rect x="160.8" y="696.6" width="4" height="2.6" fill="#fff" stroke="#222" stroke-width=".6"/>
<rect x="160.8" y="788.8" width="4" height="2.6" fill="#fff" stroke="#222" stroke-width=".6"/>
<path class="k" d="M172.3 706L172.3 782"/>
<use href="#p" x="165.6" y="705.7"/>
<use href="#p" x="165.6" y="712.66"/>
<use href="#p" x="165.6" y="719.62"/>
<use href="#p" x="165.6" y="726.58"/>
<use href="#p" x="165.6" y="733.54"/>
<use href="#p" x="165.6" y="740.5"/>
<use href="#p" x="165.6" y="747.46"/>
<use href="#p" x="165.6" y="754.42"/>
<use href="#p" x="165.6" y="761.38"/>
<use href="#p" x="165.6" y="768.34"/>
<use href="#p" x="165.6" y="775.3"/>
<use href="#ps" x="165.6" y="782.3"/>
<path class="kf" d="M176.5 780.4L173.4 783L176.5 785.6Z"/>
<path class="k2" d="M176.5 780L176.5 786"/>
<text class="b" x="151.2" y="744.5" text-anchor="middle" style="font-size:4.4px;" transform="rotate(-90 151.2 744.5)">JVGA1</text>
<rect class="k2" x="164.3" y="861.5" width="110.2" height="69.9" style="stroke-width:1.7"/>
<rect class="k2" x="189.4" y="931.4" width="60.3" height="20.3" style="stroke-width:1.4"/>
<use href="#ps" x="200.2" y="868.7"/>
<use href="#p" x="209.9" y="868.7"/>
<use href="#p" x="219.6" y="868.7"/>
<use href="#p" x="229.3" y="868.7"/>
<use href="#p" x="239" y="868.7"/>
<use href="#p" x="205.1" y="878.7"/>
<use href="#p" x="214.75" y="878.7"/>
<use href="#p" x="224.4" y="878.7"/>
<use href="#p" x="234.05" y="878.7"/>
<use href="#ps" x="200.2" y="892.7"/>
<use href="#p" x="209.9" y="892.7"/>
<use href="#p" x="219.6" y="892.7"/>
<use href="#p" x="229.3" y="892.7"/>
<use href="#p" x="239" y="892.7"/>
<use href="#p" x="205.1" y="902.7"/>
<use href="#p" x="214.75" y="902.7"/>
<use href="#p" x="224.4" y="902.7"/>
<use href="#p" x="234.05" y="902.7"/>
<rect class="gr" x="169.9" y="872.1" width="12" height="5.4" rx="2.7"/>
<rect class="pc" x="170.9" y="873" width="10" height="3.6" rx="1.8"/>
<rect class="gr" x="169.9" y="900" width="12" height="5.4" rx="2.7"/>
<rect class="pc" x="170.9" y="900.9" width="10" height="3.6" rx="1.8"/>
<rect class="gr" x="257.5" y="872.1" width="12" height="5.4" rx="2.7"/>
<rect class="pc" x="258.5" y="873" width="10" height="3.6" rx="1.8"/>
<rect class="gr" x="257.5" y="900" width="12" height="5.4" rx="2.7"/>
<rect class="pc" x="258.5" y="900.9" width="10" height="3.6" rx="1.8"/>
<text class="b" x="161.7" y="899" text-anchor="middle" transform="rotate(-90 161.7 899)">COM1_2</text>
<rect class="g" x="297.6" y="852.5" width="73" height="78.9"/>
<use href="#q" x="320" y="858.6"/>
<use href="#q" x="327.1" y="858.6"/>
<use href="#q" x="334.2" y="858.6"/>
<use href="#q" x="341.3" y="858.6"/>
<use href="#q" x="348.4" y="858.6"/>
<use href="#q" x="322.4" y="863.9"/>
<use href="#q" x="330.8" y="863.9"/>
<use href="#q" x="337.8" y="863.9"/>
<use href="#q" x="346.6" y="863.9"/>
<use href="#q" x="320" y="869.9"/>
<use href="#q" x="327.1" y="869.9"/>
<use href="#q" x="334.2" y="869.9"/>
<use href="#q" x="341.3" y="869.9"/>
<use href="#q" x="348.4" y="869.9"/>
<use href="#q" x="322.4" y="875"/>
<use href="#q" x="330.8" y="875"/>
<use href="#q" x="337.8" y="875"/>
<use href="#q" x="346.6" y="875"/>
<circle cx="299.4" cy="868.7" r="4.8" fill="#fff"/>
<use href="#ph" x="299.4" y="868.7"/>
<circle cx="368.8" cy="868.7" r="4.8" fill="#fff"/>
<use href="#ph" x="368.8" y="868.7"/>
<circle cx="299.4" cy="903.8" r="4.8" fill="#fff"/>
<use href="#ph" x="299.4" y="903.8"/>
<circle cx="368.8" cy="903.8" r="4.8" fill="#fff"/>
<use href="#ph" x="368.8" y="903.8"/>
<rect class="k2" x="308.2" y="885.5" width="51.4" height="46.1" style="stroke-width:1.25"/>
<path class="k2" style="stroke-width:1.25" d="M308.2 934.7L359.6 934.7"/>
<use href="#sn" x="318.9" y="890"/>
<use href="#sn" x="324.17" y="890"/>
<use href="#sn" x="329.44" y="890"/>
<use href="#sn" x="334.71" y="890"/>
<use href="#sn" x="339.98" y="890"/>
<use href="#sn" x="345.25" y="890"/>
<use href="#sn" x="321.4" y="894.9"/>
<use href="#sn" x="326.67" y="894.9"/>
<use href="#sn" x="331.94" y="894.9"/>
<use href="#sn" x="337.21" y="894.9"/>
<use href="#sn" x="342.48" y="894.9"/>
<use href="#sn" x="347.75" y="894.9"/>
<use href="#sn" x="318.9" y="899.9"/>
<use href="#sn" x="324.17" y="899.9"/>
<use href="#sn" x="329.44" y="899.9"/>
<use href="#sn" x="334.71" y="899.9"/>
<use href="#sn" x="339.98" y="899.9"/>
<use href="#sn" x="345.25" y="899.9"/>
<rect class="gr" x="348.6" y="888.2" width="3.6" height="3.6" style="stroke-width:.7"/>
<circle class="g" style="stroke:#bbb" cx="333.7" cy="912.5" r="3.1"/>
<circle class="pc" cx="333.7" cy="912.5" r="2.2"/>
<rect class="gr" x="306.3" y="888" width="4" height="11.5" rx="2" fill="#fff"/>
<rect class="gr" x="306.3" y="910" width="4" height="9" rx="2" fill="#fff"/>
<rect class="gr" x="357.3" y="888" width="4" height="11.5" rx="2" fill="#fff"/>
<rect class="gr" x="357.3" y="910" width="4" height="9" rx="2" fill="#fff"/>
<path class="g" d="M348.6 881.6L352.4 881.6L350.5 884.6Z"/>
<text class="b" x="331" y="884.4" text-anchor="middle" style="font-size:4.4px;">HDMI1</text>
<text class="b" x="292.4" y="907.6" text-anchor="middle" style="font-size:4.4px;" transform="rotate(-90 292.4 907.6)">DUSB3_HDMI1</text>
<rect class="g" x="386.5" y="852.5" width="73" height="78.9"/>
<use href="#q" x="408.8" y="858.6"/>
<use href="#q" x="415.9" y="858.6"/>
<use href="#q" x="423" y="858.6"/>
<use href="#q" x="430.1" y="858.6"/>
<use href="#q" x="437.2" y="858.6"/>
<use href="#q" x="411.2" y="863.9"/>
<use href="#q" x="419.6" y="863.9"/>
<use href="#q" x="426.6" y="863.9"/>
<use href="#q" x="435.4" y="863.9"/>
<use href="#q" x="408.8" y="869.9"/>
<use href="#q" x="415.9" y="869.9"/>
<use href="#q" x="423" y="869.9"/>
<use href="#q" x="430.1" y="869.9"/>
<use href="#q" x="437.2" y="869.9"/>
<use href="#q" x="411.2" y="875"/>
<use href="#q" x="419.6" y="875"/>
<use href="#q" x="426.6" y="875"/>
<use href="#q" x="435.4" y="875"/>
<circle cx="388.3" cy="868.7" r="4.8" fill="#fff"/>
<use href="#ph" x="388.3" y="868.7"/>
<circle cx="457.7" cy="868.7" r="4.8" fill="#fff"/>
<use href="#ph" x="457.7" y="868.7"/>
<circle cx="388.3" cy="903.8" r="4.8" fill="#fff"/>
<use href="#ph" x="388.3" y="903.8"/>
<circle cx="457.7" cy="903.8" r="4.8" fill="#fff"/>
<use href="#ph" x="457.7" y="903.8"/>
<path class="k" d="M393.7 931.4L393.7 886.3L453.1 886.3L453.1 931.4" style="stroke-width:.9;stroke:#444"/>
<path class="k" d="M384.3 927.5L394.1 927.5M452.1 927.5L461.9 927.5" style="stroke-width:.9;stroke:#444"/>
<use href="#st" x="408.8" y="889"/>
<use href="#st" x="412.7" y="889"/>
<use href="#st" x="416.6" y="889"/>
<use href="#st" x="420.5" y="889"/>
<use href="#st" x="424.4" y="889"/>
<use href="#st" x="428.3" y="889"/>
<use href="#st" x="432.2" y="889"/>
<use href="#st" x="436.1" y="889"/>
<use href="#st" x="440" y="889"/>
<use href="#st" x="443.9" y="889"/>
<use href="#st" x="410.7" y="891.8"/>
<use href="#st" x="414.6" y="891.8"/>
<use href="#st" x="418.5" y="891.8"/>
<use href="#st" x="422.4" y="891.8"/>
<use href="#st" x="426.3" y="891.8"/>
<use href="#st" x="430.2" y="891.8"/>
<use href="#st" x="434.1" y="891.8"/>
<use href="#st" x="438" y="891.8"/>
<use href="#st" x="441.9" y="891.8"/>
<use href="#st" x="445.8" y="891.8"/>
<rect class="gr" x="391.7" y="887" width="4" height="9" rx="2" fill="#fff"/>
<rect class="gr" x="391.7" y="909" width="4" height="10" rx="2" fill="#fff"/>
<rect class="gr" x="451.1" y="887" width="4" height="9" rx="2" fill="#fff"/>
<rect class="gr" x="451.1" y="909" width="4" height="10" rx="2" fill="#fff"/>
<path class="g" d="M443.6 881.6L447.4 881.6L445.5 884.6Z"/>
<text class="b" x="422.6" y="884" text-anchor="middle" style="font-size:4.4px;">DP1</text>
<text class="b" x="379.5" y="910" text-anchor="middle" style="font-size:4.4px;" transform="rotate(-90 379.5 910)">DUSB3_DP1</text>
<path class="k2" d="M477.7 931.7L477.7 833.3L546.3 833.3L546.3 931.7" style="stroke-width:1.5"/>
<path class="k2" d="M477.7 931.7L485.9 931.7M538.4 931.7L546.3 931.7" style="stroke-width:1.5"/>
<path class="k2" d="M485.9 882L485.9 931.2L538.4 931.2L538.4 882" style="stroke-width:1.5"/>
<path class="k2" style="stroke-width:2" d="M485.9 930.6L538.4 930.6"/>
<use href="#q" x="487.2" y="840.2"/>
<use href="#q" x="496.1" y="840.2"/>
<use href="#q" x="528.7" y="840.2"/>
<use href="#q" x="537.6" y="840.2"/>
<use href="#q" x="492.3" y="850"/>
<use href="#q" x="501.1" y="850"/>
<use href="#q" x="509.9" y="850"/>
<use href="#q" x="518.7" y="850"/>
<use href="#q" x="527.5" y="850"/>
<use href="#q" x="496.6" y="859.4"/>
<use href="#q" x="505.4" y="859.4"/>
<use href="#q" x="514.2" y="859.4"/>
<use href="#q" x="523" y="859.4"/>
<rect class="gr" x="529.7" y="857.1" width="4.6" height="4.6"/>
<use href="#q" x="498.2" y="873.2"/>
<use href="#q" x="505.3" y="873.2"/>
<use href="#q" x="512.4" y="873.2"/>
<use href="#q" x="519.5" y="873.2"/>
<use href="#q" x="526.6" y="873.2"/>
<use href="#q" x="500.6" y="878.5"/>
<use href="#q" x="509" y="878.5"/>
<use href="#q" x="516" y="878.5"/>
<use href="#q" x="524.8" y="878.5"/>
<use href="#q" x="498.2" y="884.5"/>
<use href="#q" x="505.3" y="884.5"/>
<use href="#q" x="512.4" y="884.5"/>
<use href="#q" x="519.5" y="884.5"/>
<use href="#q" x="526.6" y="884.5"/>
<use href="#q" x="500.6" y="889.6"/>
<use href="#q" x="509" y="889.6"/>
<use href="#q" x="516" y="889.6"/>
<use href="#q" x="524.8" y="889.6"/>
<circle cx="478.9" cy="865.7" r="4.9" fill="#fff"/>
<use href="#ph" x="478.9" y="865.7"/>
<circle cx="545" cy="859.3" r="4.9" fill="#fff"/>
<use href="#ph" x="545" y="859.3"/>
<circle cx="489.1" cy="877" r="4.9" fill="#fff"/>
<use href="#ph" x="489.1" y="877"/>
<circle cx="534.8" cy="876.8" r="4.9" fill="#fff"/>
<use href="#ph" x="534.8" y="876.8"/>
<circle cx="489.1" cy="896.8" r="4.9" fill="#fff"/>
<use href="#ph" x="489.1" y="896.8"/>
<circle cx="534.8" cy="896.8" r="4.9" fill="#fff"/>
<use href="#ph" x="534.8" y="896.8"/>
<circle cx="478.9" cy="906.3" r="4.9" fill="#fff"/>
<use href="#ph" x="478.9" y="906.3"/>
<circle cx="545" cy="906.3" r="4.9" fill="#fff"/>
<use href="#ph" x="545" y="906.3"/>
<text class="b" x="473.6" y="890" text-anchor="middle" style="font-size:5.4px;" transform="rotate(-90 473.6 890)">DUSB3LAN1</text>
<path class="k2" d="M558.4 931.7L558.4 833.3L627 833.3L627 931.7" style="stroke-width:1.5"/>
<path class="k2" d="M558.4 931.7L566.6 931.7M619.1 931.7L627 931.7" style="stroke-width:1.5"/>
<path class="k2" d="M566.6 882L566.6 931.2L619.1 931.2L619.1 882" style="stroke-width:1.5"/>
<path class="k2" style="stroke-width:2" d="M566.6 930.6L619.1 930.6"/>
<use href="#q" x="567.9" y="840.2"/>
<use href="#q" x="576.8" y="840.2"/>
<use href="#q" x="609.4" y="840.2"/>
<use href="#q" x="618.3" y="840.2"/>
<use href="#q" x="573" y="850"/>
<use href="#q" x="581.8" y="850"/>
<use href="#q" x="590.6" y="850"/>
<use href="#q" x="599.4" y="850"/>
<use href="#q" x="608.2" y="850"/>
<use href="#q" x="577.3" y="859.4"/>
<use href="#q" x="586.1" y="859.4"/>
<use href="#q" x="594.9" y="859.4"/>
<use href="#q" x="603.7" y="859.4"/>
<rect class="gr" x="610.4" y="857.1" width="4.6" height="4.6"/>
<use href="#q" x="578.9" y="873.2"/>
<use href="#q" x="586" y="873.2"/>
<use href="#q" x="593.1" y="873.2"/>
<use href="#q" x="600.2" y="873.2"/>
<use href="#q" x="607.3" y="873.2"/>
<use href="#q" x="581.3" y="878.5"/>
<use href="#q" x="589.7" y="878.5"/>
<use href="#q" x="596.7" y="878.5"/>
<use href="#q" x="605.5" y="878.5"/>
<use href="#q" x="578.9" y="884.5"/>
<use href="#q" x="586" y="884.5"/>
<use href="#q" x="593.1" y="884.5"/>
<use href="#q" x="600.2" y="884.5"/>
<use href="#q" x="607.3" y="884.5"/>
<use href="#q" x="581.3" y="889.6"/>
<use href="#q" x="589.7" y="889.6"/>
<use href="#q" x="596.7" y="889.6"/>
<use href="#q" x="605.5" y="889.6"/>
<circle cx="559.6" cy="865.7" r="4.9" fill="#fff"/>
<use href="#ph" x="559.6" y="865.7"/>
<circle cx="625.7" cy="859.3" r="4.9" fill="#fff"/>
<use href="#ph" x="625.7" y="859.3"/>
<circle cx="569.8" cy="877" r="4.9" fill="#fff"/>
<use href="#ph" x="569.8" y="877"/>
<circle cx="615.5" cy="876.8" r="4.9" fill="#fff"/>
<use href="#ph" x="615.5" y="876.8"/>
<circle cx="569.8" cy="896.8" r="4.9" fill="#fff"/>
<use href="#ph" x="569.8" y="896.8"/>
<circle cx="615.5" cy="896.8" r="4.9" fill="#fff"/>
<use href="#ph" x="615.5" y="896.8"/>
<circle cx="559.6" cy="906.3" r="4.9" fill="#fff"/>
<use href="#ph" x="559.6" y="906.3"/>
<circle cx="625.7" cy="906.3" r="4.9" fill="#fff"/>
<use href="#ph" x="625.7" y="906.3"/>
<text class="b" x="554.3" y="890" text-anchor="middle" style="font-size:5.4px;" transform="rotate(-90 554.3 890)">DUSB3LAN2</text>
<rect class="k" x="637" y="854.8" width="45.4" height="76.9" style="stroke-width:1.2"/>
<rect class="k" x="647.3" y="931.7" width="24.8" height="11.5"/>
<use href="#p" x="646.5" y="866.6"/>
<use href="#p" x="655.3" y="866.6"/>
<use href="#p" x="664.1" y="866.6"/>
<use href="#p" x="672.9" y="866.6"/>
<use href="#p" x="646.5" y="884.3"/>
<use href="#p" x="655.3" y="884.3"/>
<use href="#p" x="664.1" y="884.3"/>
<use href="#p" x="672.9" y="884.3"/>
<use href="#p" x="642.1" y="901.7"/>
<use href="#p" x="650.85" y="901.7"/>
<use href="#ps" x="659.6" y="901.7"/>
<use href="#p" x="668.35" y="901.7"/>
<use href="#p" x="677.1" y="901.7"/>
<circle cx="638.3" cy="875.3" r="4.6" fill="#fff"/>
<circle class="gr" cx="638.3" cy="875.3" r="4.4"/>
<circle cx="680.6" cy="875.3" r="4.6" fill="#fff"/>
<circle class="gr" cx="680.6" cy="875.3" r="4.4"/>
<circle cx="638.3" cy="915" r="4.6" fill="#fff"/>
<circle class="gr" cx="638.3" cy="915" r="4.4"/>
<circle cx="680.6" cy="915" r="4.6" fill="#fff"/>
<circle class="gr" cx="680.6" cy="915" r="4.4"/>
<circle class="pc" style="stroke:#e2c0ca;stroke-width:.9" cx="659.6" cy="914.8" r="3.9"/>
<text class="b" x="694.3" y="913" text-anchor="middle" transform="rotate(-90 694.3 913)">AUDIO1</text>
<rect class="k2" x="637" y="833.6" width="45.2" height="17.7" rx="1.2" style="stroke-width:1.5"/>
<use href="#p" x="642.1" y="838.4"/>
<use href="#p" x="642.1" y="847.1"/>
<use href="#p" x="650.85" y="838.4"/>
<use href="#p" x="659.6" y="838.4"/>
<use href="#p" x="659.6" y="847.1"/>
<use href="#p" x="668.35" y="838.4"/>
<use href="#p" x="668.35" y="847.1"/>
<use href="#p" x="677.1" y="838.4"/>
<use href="#p" x="677.1" y="847.1"/>
<rect class="gr" x="674.8" y="836.1" width="4.5" height="4.6" style="stroke-width:.6"/>
<path class="g" d="M676 831L683.5 831L683.5 838M686.6 835.5L684.3 837.5L686.6 839.5Z"/>
<text class="b" x="634.5" y="842" text-anchor="middle" style="font-size:4.4px;" transform="rotate(-90 634.5 842)">F_AUDIO1</text>
<path class="k" d="M647 814.6L681.6 814.6L681.6 819L680.4 819.6L680.4 821.8L681.6 822.4L681.6 830.5L647 830.5L647 822.4L648.2 821.8L648.2 819.6L647 819Z" style="stroke-width:.9"/>
<path class="k2" d="M648 815.6L680.6 815.6"/>
<use href="#p" x="653.7" y="820.2"/>
<use href="#p" x="660.8" y="820.2"/>
<use href="#p" x="667.9" y="820.2"/>
<use href="#p" x="675" y="820.2"/>
<rect class="gr" x="651.7" y="818.2" width="4" height="4" style="stroke-width:.6"/>
<path class="g" d="M644 818.4L646.2 820.2L644 822Z"/>
<text class="b" x="664.7" y="809.6" text-anchor="middle">SPEAKER1</text>
<text class="b" x="653.7" y="813.3" text-anchor="middle" style="font-size:3px;">+</text>
<text class="b" x="660.8" y="813.3" text-anchor="middle" style="font-size:3px;">+</text>
<text class="b" x="667.9" y="813.3" text-anchor="middle" style="font-size:3px;">+</text>
<text class="b" x="675" y="813.3" text-anchor="middle" style="font-size:3px;">+</text>
<rect class="k2" x="699" y="466.2" width="33" height="311.9" style="stroke-width:1.25"/>
<path class="k" d="M727.6 466.2L727.6 778.1"/>
<circle class="pc" cx="713" cy="471.2" r="4"/>
<circle class="pc" cx="713" cy="727" r="4"/>
<use href="#pp" x="701.9" y="764.51"/>
<use href="#pp" x="708.9" y="768"/>
<use href="#pp" x="717.4" y="768"/>
<use href="#pp" x="724.7" y="764.51"/>
<use href="#pp" x="701.9" y="757.53"/>
<use href="#pp" x="708.9" y="761.02"/>
<use href="#pp" x="717.4" y="761.02"/>
<use href="#pp" x="724.7" y="757.53"/>
<use href="#pp" x="701.9" y="750.55"/>
<use href="#pp" x="708.9" y="754.04"/>
<use href="#pp" x="717.4" y="754.04"/>
<use href="#pp" x="724.7" y="750.55"/>
<use href="#pp" x="701.9" y="743.57"/>
<use href="#pp" x="708.9" y="747.06"/>
<use href="#pp" x="717.4" y="747.06"/>
<use href="#pp" x="724.7" y="743.57"/>
<use href="#pp" x="701.9" y="736.59"/>
<use href="#pp" x="708.9" y="740.08"/>
<use href="#pp" x="717.4" y="740.08"/>
<use href="#pp" x="724.7" y="736.59"/>
<use href="#pp" x="708.9" y="733.1"/>
<use href="#pp" x="717.4" y="733.1"/>
<use href="#pp" x="701.9" y="715.65"/>
<use href="#pp" x="708.9" y="719.14"/>
<use href="#pp" x="717.4" y="719.14"/>
<use href="#pp" x="724.7" y="715.65"/>
<use href="#pp" x="701.9" y="708.67"/>
<use href="#pp" x="708.9" y="712.16"/>
<use href="#pp" x="717.4" y="712.16"/>
<use href="#pp" x="724.7" y="708.67"/>
<use href="#pp" x="701.9" y="701.69"/>
<use href="#pp" x="708.9" y="705.18"/>
<use href="#pp" x="717.4" y="705.18"/>
<use href="#pp" x="724.7" y="701.69"/>
<use href="#pp" x="701.9" y="694.71"/>
<use href="#pp" x="708.9" y="698.2"/>
<use href="#pp" x="717.4" y="698.2"/>
<use href="#pp" x="724.7" y="694.71"/>
<use href="#pp" x="701.9" y="687.73"/>
<use href="#pp" x="708.9" y="691.22"/>
<use href="#pp" x="717.4" y="691.22"/>
<use href="#pp" x="724.7" y="687.73"/>
<use href="#pp" x="701.9" y="680.75"/>
<use href="#pp" x="708.9" y="684.24"/>
<use href="#pp" x="717.4" y="684.24"/>
<use href="#pp" x="724.7" y="680.75"/>
<use href="#pp" x="701.9" y="673.77"/>
<use href="#pp" x="708.9" y="677.26"/>
<use href="#pp" x="717.4" y="677.26"/>
<use href="#pp" x="724.7" y="673.77"/>
<use href="#pp" x="701.9" y="666.79"/>
<use href="#pp" x="708.9" y="670.28"/>
<use href="#pp" x="717.4" y="670.28"/>
<use href="#pp" x="724.7" y="666.79"/>
<use href="#pp" x="701.9" y="659.81"/>
<use href="#pp" x="708.9" y="663.3"/>
<use href="#pp" x="717.4" y="663.3"/>
<use href="#pp" x="724.7" y="659.81"/>
<use href="#pp" x="701.9" y="652.83"/>
<use href="#pp" x="708.9" y="656.32"/>
<use href="#pp" x="717.4" y="656.32"/>
<use href="#pp" x="724.7" y="652.83"/>
<use href="#pp" x="701.9" y="645.85"/>
<use href="#pp" x="708.9" y="649.34"/>
<use href="#pp" x="717.4" y="649.34"/>
<use href="#pp" x="724.7" y="645.85"/>
<use href="#pp" x="701.9" y="638.87"/>
<use href="#pp" x="708.9" y="642.36"/>
<use href="#pp" x="717.4" y="642.36"/>
<use href="#pp" x="724.7" y="638.87"/>
<use href="#pp" x="701.9" y="631.89"/>
<use href="#pp" x="708.9" y="635.38"/>
<use href="#pp" x="717.4" y="635.38"/>
<use href="#pp" x="724.7" y="631.89"/>
<use href="#pp" x="701.9" y="624.91"/>
<use href="#pp" x="708.9" y="628.4"/>
<use href="#pp" x="717.4" y="628.4"/>
<use href="#pp" x="724.7" y="624.91"/>
<use href="#pp" x="701.9" y="617.93"/>
<use href="#pp" x="708.9" y="621.42"/>
<use href="#pp" x="717.4" y="621.42"/>
<use href="#pp" x="724.7" y="617.93"/>
<use href="#pp" x="701.9" y="610.95"/>
<use href="#pp" x="708.9" y="614.44"/>
<use href="#pp" x="717.4" y="614.44"/>
<use href="#pp" x="724.7" y="610.95"/>
<use href="#pp" x="701.9" y="603.97"/>
<use href="#pp" x="708.9" y="607.46"/>
<use href="#pp" x="717.4" y="607.46"/>
<use href="#pp" x="724.7" y="603.97"/>
<use href="#pp" x="701.9" y="596.99"/>
<use href="#pp" x="708.9" y="600.48"/>
<use href="#pp" x="717.4" y="600.48"/>
<use href="#pp" x="724.7" y="596.99"/>
<use href="#pp" x="701.9" y="590.01"/>
<use href="#pp" x="708.9" y="593.5"/>
<use href="#pp" x="717.4" y="593.5"/>
<use href="#pp" x="724.7" y="590.01"/>
<use href="#pp" x="701.9" y="583.03"/>
<use href="#pp" x="708.9" y="586.52"/>
<use href="#pp" x="717.4" y="586.52"/>
<use href="#pp" x="724.7" y="583.03"/>
<use href="#pp" x="701.9" y="576.05"/>
<use href="#pp" x="708.9" y="579.54"/>
<use href="#pp" x="717.4" y="579.54"/>
<use href="#pp" x="724.7" y="576.05"/>
<use href="#pp" x="701.9" y="569.07"/>
<use href="#pp" x="708.9" y="572.56"/>
<use href="#pp" x="717.4" y="572.56"/>
<use href="#pp" x="724.7" y="569.07"/>
<use href="#pp" x="701.9" y="562.09"/>
<use href="#pp" x="708.9" y="565.58"/>
<use href="#pp" x="717.4" y="565.58"/>
<use href="#pp" x="724.7" y="562.09"/>
<use href="#pp" x="701.9" y="555.11"/>
<use href="#pp" x="708.9" y="558.6"/>
<use href="#pp" x="717.4" y="558.6"/>
<use href="#pp" x="724.7" y="555.11"/>
<use href="#pp" x="701.9" y="548.13"/>
<use href="#pp" x="708.9" y="551.62"/>
<use href="#pp" x="717.4" y="551.62"/>
<use href="#pp" x="724.7" y="548.13"/>
<use href="#pp" x="701.9" y="541.15"/>
<use href="#pp" x="708.9" y="544.64"/>
<use href="#pp" x="717.4" y="544.64"/>
<use href="#pp" x="724.7" y="541.15"/>
<use href="#pp" x="701.9" y="534.17"/>
<use href="#pp" x="708.9" y="537.66"/>
<use href="#pp" x="717.4" y="537.66"/>
<use href="#pp" x="724.7" y="534.17"/>
<use href="#pp" x="701.9" y="527.19"/>
<use href="#pp" x="708.9" y="530.68"/>
<use href="#pp" x="717.4" y="530.68"/>
<use href="#pp" x="724.7" y="527.19"/>
<use href="#pp" x="701.9" y="520.21"/>
<use href="#pp" x="708.9" y="523.7"/>
<use href="#pp" x="717.4" y="523.7"/>
<use href="#pp" x="724.7" y="520.21"/>
<use href="#pp" x="701.9" y="513.23"/>
<use href="#pp" x="708.9" y="516.72"/>
<use href="#pp" x="717.4" y="516.72"/>
<use href="#pp" x="724.7" y="513.23"/>
<use href="#pp" x="701.9" y="506.25"/>
<use href="#pp" x="708.9" y="509.74"/>
<use href="#pp" x="717.4" y="509.74"/>
<use href="#pp" x="724.7" y="506.25"/>
<use href="#pp" x="701.9" y="499.27"/>
<use href="#pp" x="708.9" y="502.76"/>
<use href="#pp" x="717.4" y="502.76"/>
<use href="#pp" x="724.7" y="499.27"/>
<use href="#pp" x="701.9" y="492.29"/>
<use href="#pp" x="708.9" y="495.78"/>
<use href="#pp" x="717.4" y="495.78"/>
<use href="#pp" x="724.7" y="492.29"/>
<use href="#pp" x="701.9" y="485.31"/>
<use href="#pp" x="708.9" y="488.8"/>
<use href="#pp" x="717.4" y="488.8"/>
<use href="#pp" x="724.7" y="485.31"/>
<use href="#pp" x="701.9" y="478.33"/>
<use href="#pp" x="708.9" y="481.82"/>
<use href="#pp" x="717.4" y="481.82"/>
<use href="#pp" x="724.7" y="478.33"/>
<rect class="g" x="704.8" y="764.6" width="7.4" height="7" style="fill:#fff"/>
<rect class="gr" x="706.4" y="765.9" width="4.4" height="4.4" style="stroke-width:.6"/>
<text class="b" x="736.2" y="656" text-anchor="middle" style="font-size:4.6px;" transform="rotate(-90 736.2 656)">PCIEX16_1</text>
<path class="k2" d="M699 380.5L663.9 380.5L663.9 439.2L699 439.2" style="stroke-width:1.15"/>
<rect class="kd" x="698.6" y="370.4" width="37" height="36" style="stroke-width:1.4;stroke-dasharray:4.6 2.4"/>
<rect class="kd" x="681.3" y="406.4" width="66.4" height="59.6"/>
<path class="k2" d="M699 404L699 466.2M731.6 406.4L731.6 466.2M699 406.4L735.6 406.4" style="stroke-width:1.15"/>
<path class="k2" d="M682.1 380.5L708.3 418.5L708.3 427.1L713.6 427.1L713.6 435.2L708.3 435.2L708.3 466.2" style="stroke-width:1.15"/>
<path class="k2" d="M676.7 380.5L699 420" style="stroke-width:1.15"/>
<rect class="kd" x="699" y="778.1" width="28.6" height="35.3"/>
<rect class="k2" x="770.18" y="641.4" width="33" height="137.7" style="stroke-width:1.25"/>
<path class="k" d="M798.78 641.4L798.78 779.1"/>
<circle class="pc" cx="784.18" cy="646.4" r="4"/>
<circle class="pc" cx="784.18" cy="727" r="4"/>
<use href="#pp" x="773.08" y="764.51"/>
<use href="#pp" x="780.08" y="768"/>
<use href="#pp" x="788.58" y="768"/>
<use href="#pp" x="795.88" y="764.51"/>
<use href="#pp" x="773.08" y="757.53"/>
<use href="#pp" x="780.08" y="761.02"/>
<use href="#pp" x="788.58" y="761.02"/>
<use href="#pp" x="795.88" y="757.53"/>
<use href="#pp" x="773.08" y="750.55"/>
<use href="#pp" x="780.08" y="754.04"/>
<use href="#pp" x="788.58" y="754.04"/>
<use href="#pp" x="795.88" y="750.55"/>
<use href="#pp" x="773.08" y="743.57"/>
<use href="#pp" x="780.08" y="747.06"/>
<use href="#pp" x="788.58" y="747.06"/>
<use href="#pp" x="795.88" y="743.57"/>
<use href="#pp" x="773.08" y="736.59"/>
<use href="#pp" x="780.08" y="740.08"/>
<use href="#pp" x="788.58" y="740.08"/>
<use href="#pp" x="795.88" y="736.59"/>
<use href="#pp" x="780.08" y="733.1"/>
<use href="#pp" x="788.58" y="733.1"/>
<use href="#pp" x="773.08" y="715.65"/>
<use href="#pp" x="780.08" y="719.14"/>
<use href="#pp" x="788.58" y="719.14"/>
<use href="#pp" x="795.88" y="715.65"/>
<use href="#pp" x="773.08" y="708.67"/>
<use href="#pp" x="780.08" y="712.16"/>
<use href="#pp" x="788.58" y="712.16"/>
<use href="#pp" x="795.88" y="708.67"/>
<use href="#pp" x="773.08" y="701.69"/>
<use href="#pp" x="780.08" y="705.18"/>
<use href="#pp" x="788.58" y="705.18"/>
<use href="#pp" x="795.88" y="701.69"/>
<use href="#pp" x="773.08" y="694.71"/>
<use href="#pp" x="780.08" y="698.2"/>
<use href="#pp" x="788.58" y="698.2"/>
<use href="#pp" x="795.88" y="694.71"/>
<use href="#pp" x="773.08" y="687.73"/>
<use href="#pp" x="780.08" y="691.22"/>
<use href="#pp" x="788.58" y="691.22"/>
<use href="#pp" x="795.88" y="687.73"/>
<use href="#pp" x="773.08" y="680.75"/>
<use href="#pp" x="780.08" y="684.24"/>
<use href="#pp" x="788.58" y="684.24"/>
<use href="#pp" x="795.88" y="680.75"/>
<use href="#pp" x="773.08" y="673.77"/>
<use href="#pp" x="780.08" y="677.26"/>
<use href="#pp" x="788.58" y="677.26"/>
<use href="#pp" x="795.88" y="673.77"/>
<use href="#pp" x="773.08" y="666.79"/>
<use href="#pp" x="780.08" y="670.28"/>
<use href="#pp" x="788.58" y="670.28"/>
<use href="#pp" x="795.88" y="666.79"/>
<use href="#pp" x="773.08" y="659.81"/>
<use href="#pp" x="780.08" y="663.3"/>
<use href="#pp" x="788.58" y="663.3"/>
<use href="#pp" x="795.88" y="659.81"/>
<use href="#pp" x="773.08" y="652.83"/>
<use href="#pp" x="780.08" y="656.32"/>
<use href="#pp" x="788.58" y="656.32"/>
<use href="#pp" x="795.88" y="652.83"/>
<text class="b" x="807.38" y="688.3" text-anchor="middle" style="font-size:4.6px;" transform="rotate(-90 807.38 688.3)">PCIEX4_1</text>
<rect class="k2" x="841.36" y="582.9" width="33" height="196.2" style="stroke-width:1.25"/>
<path class="k" d="M869.96 582.9L869.96 779.1"/>
<circle class="pc" cx="855.36" cy="587.9" r="4"/>
<circle class="pc" cx="855.36" cy="727" r="4"/>
<use href="#pp" x="844.26" y="764.51"/>
<use href="#pp" x="851.26" y="768"/>
<use href="#pp" x="859.76" y="768"/>
<use href="#pp" x="867.06" y="764.51"/>
<use href="#pp" x="844.26" y="757.53"/>
<use href="#pp" x="851.26" y="761.02"/>
<use href="#pp" x="859.76" y="761.02"/>
<use href="#pp" x="867.06" y="757.53"/>
<use href="#pp" x="844.26" y="750.55"/>
<use href="#pp" x="851.26" y="754.04"/>
<use href="#pp" x="859.76" y="754.04"/>
<use href="#pp" x="867.06" y="750.55"/>
<use href="#pp" x="844.26" y="743.57"/>
<use href="#pp" x="851.26" y="747.06"/>
<use href="#pp" x="859.76" y="747.06"/>
<use href="#pp" x="867.06" y="743.57"/>
<use href="#pp" x="844.26" y="736.59"/>
<use href="#pp" x="851.26" y="740.08"/>
<use href="#pp" x="859.76" y="740.08"/>
<use href="#pp" x="867.06" y="736.59"/>
<use href="#pp" x="851.26" y="733.1"/>
<use href="#pp" x="859.76" y="733.1"/>
<use href="#pp" x="844.26" y="715.65"/>
<use href="#pp" x="851.26" y="719.14"/>
<use href="#pp" x="859.76" y="719.14"/>
<use href="#pp" x="867.06" y="715.65"/>
<use href="#pp" x="844.26" y="708.67"/>
<use href="#pp" x="851.26" y="712.16"/>
<use href="#pp" x="859.76" y="712.16"/>
<use href="#pp" x="867.06" y="708.67"/>
<use href="#pp" x="844.26" y="701.69"/>
<use href="#pp" x="851.26" y="705.18"/>
<use href="#pp" x="859.76" y="705.18"/>
<use href="#pp" x="867.06" y="701.69"/>
<use href="#pp" x="844.26" y="694.71"/>
<use href="#pp" x="851.26" y="698.2"/>
<use href="#pp" x="859.76" y="698.2"/>
<use href="#pp" x="867.06" y="694.71"/>
<use href="#pp" x="844.26" y="687.73"/>
<use href="#pp" x="851.26" y="691.22"/>
<use href="#pp" x="859.76" y="691.22"/>
<use href="#pp" x="867.06" y="687.73"/>
<use href="#pp" x="844.26" y="680.75"/>
<use href="#pp" x="851.26" y="684.24"/>
<use href="#pp" x="859.76" y="684.24"/>
<use href="#pp" x="867.06" y="680.75"/>
<use href="#pp" x="844.26" y="673.77"/>
<use href="#pp" x="851.26" y="677.26"/>
<use href="#pp" x="859.76" y="677.26"/>
<use href="#pp" x="867.06" y="673.77"/>
<use href="#pp" x="844.26" y="666.79"/>
<use href="#pp" x="851.26" y="670.28"/>
<use href="#pp" x="859.76" y="670.28"/>
<use href="#pp" x="867.06" y="666.79"/>
<use href="#pp" x="844.26" y="659.81"/>
<use href="#pp" x="851.26" y="663.3"/>
<use href="#pp" x="859.76" y="663.3"/>
<use href="#pp" x="867.06" y="659.81"/>
<use href="#pp" x="844.26" y="652.83"/>
<use href="#pp" x="851.26" y="656.32"/>
<use href="#pp" x="859.76" y="656.32"/>
<use href="#pp" x="867.06" y="652.83"/>
<use href="#pp" x="844.26" y="645.85"/>
<use href="#pp" x="851.26" y="649.34"/>
<use href="#pp" x="859.76" y="649.34"/>
<use href="#pp" x="867.06" y="645.85"/>
<use href="#pp" x="844.26" y="638.87"/>
<use href="#pp" x="851.26" y="642.36"/>
<use href="#pp" x="859.76" y="642.36"/>
<use href="#pp" x="867.06" y="638.87"/>
<use href="#pp" x="844.26" y="631.89"/>
<use href="#pp" x="851.26" y="635.38"/>
<use href="#pp" x="859.76" y="635.38"/>
<use href="#pp" x="867.06" y="631.89"/>
<use href="#pp" x="844.26" y="624.91"/>
<use href="#pp" x="851.26" y="628.4"/>
<use href="#pp" x="859.76" y="628.4"/>
<use href="#pp" x="867.06" y="624.91"/>
<use href="#pp" x="844.26" y="617.93"/>
<use href="#pp" x="851.26" y="621.42"/>
<use href="#pp" x="859.76" y="621.42"/>
<use href="#pp" x="867.06" y="617.93"/>
<use href="#pp" x="844.26" y="610.95"/>
<use href="#pp" x="851.26" y="614.44"/>
<use href="#pp" x="859.76" y="614.44"/>
<use href="#pp" x="867.06" y="610.95"/>
<use href="#pp" x="844.26" y="603.97"/>
<use href="#pp" x="851.26" y="607.46"/>
<use href="#pp" x="859.76" y="607.46"/>
<use href="#pp" x="867.06" y="603.97"/>
<use href="#pp" x="844.26" y="596.99"/>
<use href="#pp" x="851.26" y="600.48"/>
<use href="#pp" x="859.76" y="600.48"/>
<use href="#pp" x="867.06" y="596.99"/>
<use href="#pp" x="851.26" y="593.5"/>
<use href="#pp" x="859.76" y="593.5"/>
<text class="b" x="878.56" y="688.3" text-anchor="middle" style="font-size:4.6px;" transform="rotate(-90 878.56 688.3)">PCIEX8_1</text>
<rect class="k2" x="912.54" y="466.2" width="33" height="311.9" style="stroke-width:1.25"/>
<path class="k" d="M941.14 466.2L941.14 778.1"/>
<circle class="pc" cx="926.54" cy="471.2" r="4"/>
<circle class="pc" cx="926.54" cy="727" r="4"/>
<circle class="pc" cx="926.54" cy="586.3" r="4"/>
<use href="#pp" x="915.44" y="764.51"/>
<use href="#pp" x="922.44" y="768"/>
<use href="#pp" x="930.94" y="768"/>
<use href="#pp" x="938.24" y="764.51"/>
<use href="#pp" x="915.44" y="757.53"/>
<use href="#pp" x="922.44" y="761.02"/>
<use href="#pp" x="930.94" y="761.02"/>
<use href="#pp" x="938.24" y="757.53"/>
<use href="#pp" x="915.44" y="750.55"/>
<use href="#pp" x="922.44" y="754.04"/>
<use href="#pp" x="930.94" y="754.04"/>
<use href="#pp" x="938.24" y="750.55"/>
<use href="#pp" x="915.44" y="743.57"/>
<use href="#pp" x="922.44" y="747.06"/>
<use href="#pp" x="930.94" y="747.06"/>
<use href="#pp" x="938.24" y="743.57"/>
<use href="#pp" x="915.44" y="736.59"/>
<use href="#pp" x="922.44" y="740.08"/>
<use href="#pp" x="930.94" y="740.08"/>
<use href="#pp" x="938.24" y="736.59"/>
<use href="#pp" x="922.44" y="733.1"/>
<use href="#pp" x="930.94" y="733.1"/>
<use href="#pp" x="915.44" y="715.65"/>
<use href="#pp" x="922.44" y="719.14"/>
<use href="#pp" x="930.94" y="719.14"/>
<use href="#pp" x="938.24" y="715.65"/>
<use href="#pp" x="915.44" y="708.67"/>
<use href="#pp" x="922.44" y="712.16"/>
<use href="#pp" x="930.94" y="712.16"/>
<use href="#pp" x="938.24" y="708.67"/>
<use href="#pp" x="915.44" y="701.69"/>
<use href="#pp" x="922.44" y="705.18"/>
<use href="#pp" x="930.94" y="705.18"/>
<use href="#pp" x="938.24" y="701.69"/>
<use href="#pp" x="915.44" y="694.71"/>
<use href="#pp" x="922.44" y="698.2"/>
<use href="#pp" x="930.94" y="698.2"/>
<use href="#pp" x="938.24" y="694.71"/>
<use href="#pp" x="915.44" y="687.73"/>
<use href="#pp" x="922.44" y="691.22"/>
<use href="#pp" x="930.94" y="691.22"/>
<use href="#pp" x="938.24" y="687.73"/>
<use href="#pp" x="915.44" y="680.75"/>
<use href="#pp" x="922.44" y="684.24"/>
<use href="#pp" x="930.94" y="684.24"/>
<use href="#pp" x="938.24" y="680.75"/>
<use href="#pp" x="915.44" y="673.77"/>
<use href="#pp" x="922.44" y="677.26"/>
<use href="#pp" x="930.94" y="677.26"/>
<use href="#pp" x="938.24" y="673.77"/>
<use href="#pp" x="915.44" y="666.79"/>
<use href="#pp" x="922.44" y="670.28"/>
<use href="#pp" x="930.94" y="670.28"/>
<use href="#pp" x="938.24" y="666.79"/>
<use href="#pp" x="915.44" y="659.81"/>
<use href="#pp" x="922.44" y="663.3"/>
<use href="#pp" x="930.94" y="663.3"/>
<use href="#pp" x="938.24" y="659.81"/>
<use href="#pp" x="915.44" y="652.83"/>
<use href="#pp" x="922.44" y="656.32"/>
<use href="#pp" x="930.94" y="656.32"/>
<use href="#pp" x="938.24" y="652.83"/>
<use href="#pp" x="915.44" y="645.85"/>
<use href="#pp" x="922.44" y="649.34"/>
<use href="#pp" x="930.94" y="649.34"/>
<use href="#pp" x="938.24" y="645.85"/>
<use href="#pp" x="915.44" y="638.87"/>
<use href="#pp" x="922.44" y="642.36"/>
<use href="#pp" x="930.94" y="642.36"/>
<use href="#pp" x="938.24" y="638.87"/>
<use href="#pp" x="915.44" y="631.89"/>
<use href="#pp" x="922.44" y="635.38"/>
<use href="#pp" x="930.94" y="635.38"/>
<use href="#pp" x="938.24" y="631.89"/>
<use href="#pp" x="915.44" y="624.91"/>
<use href="#pp" x="922.44" y="628.4"/>
<use href="#pp" x="930.94" y="628.4"/>
<use href="#pp" x="938.24" y="624.91"/>
<use href="#pp" x="915.44" y="617.93"/>
<use href="#pp" x="922.44" y="621.42"/>
<use href="#pp" x="930.94" y="621.42"/>
<use href="#pp" x="938.24" y="617.93"/>
<use href="#pp" x="915.44" y="610.95"/>
<use href="#pp" x="922.44" y="614.44"/>
<use href="#pp" x="930.94" y="614.44"/>
<use href="#pp" x="938.24" y="610.95"/>
<use href="#pp" x="915.44" y="603.97"/>
<use href="#pp" x="922.44" y="607.46"/>
<use href="#pp" x="930.94" y="607.46"/>
<use href="#pp" x="938.24" y="603.97"/>
<use href="#pp" x="915.44" y="596.99"/>
<use href="#pp" x="922.44" y="600.48"/>
<use href="#pp" x="930.94" y="600.48"/>
<use href="#pp" x="938.24" y="596.99"/>
<use href="#pp" x="922.44" y="593.5"/>
<use href="#pp" x="930.94" y="593.5"/>
<rect class="g" x="918.34" y="764.6" width="7.4" height="7" style="fill:#fff"/>
<rect class="gr" x="919.94" y="765.9" width="4.4" height="4.4" style="stroke-width:.6"/>
<text class="b" x="949.74" y="656" text-anchor="middle" style="font-size:4.6px;" transform="rotate(-90 949.74 656)">PCIEX16_2</text>
<path class="k2" d="M912.54 380.5L877.44 380.5L877.44 439.2L912.54 439.2" style="stroke-width:1.15"/>
<rect class="kd" x="912.14" y="370.4" width="37" height="36" style="stroke-width:1.4;stroke-dasharray:4.6 2.4"/>
<rect class="kd" x="894.84" y="406.4" width="66.4" height="59.6"/>
<path class="k2" d="M912.54 404L912.54 466.2M945.14 406.4L945.14 466.2M912.54 406.4L949.14 406.4" style="stroke-width:1.15"/>
<path class="k2" d="M895.64 380.5L921.84 418.5L921.84 427.1L927.14 427.1L927.14 435.2L921.84 435.2L921.84 466.2" style="stroke-width:1.15"/>
<path class="k2" d="M890.24 380.5L912.54 420" style="stroke-width:1.15"/>
<rect class="kd" x="912.54" y="778.1" width="28.6" height="35.3"/>
<rect class="k2" x="983.72" y="641.4" width="33" height="137.7" style="stroke-width:1.25"/>
<path class="k" d="M1012.32 641.4L1012.32 779.1"/>
<circle class="pc" cx="997.72" cy="646.4" r="4"/>
<circle class="pc" cx="997.72" cy="727" r="4"/>
<use href="#pp" x="986.62" y="764.51"/>
<use href="#pp" x="993.62" y="768"/>
<use href="#pp" x="1002.12" y="768"/>
<use href="#pp" x="1009.42" y="764.51"/>
<use href="#pp" x="986.62" y="757.53"/>
<use href="#pp" x="993.62" y="761.02"/>
<use href="#pp" x="1002.12" y="761.02"/>
<use href="#pp" x="1009.42" y="757.53"/>
<use href="#pp" x="986.62" y="750.55"/>
<use href="#pp" x="993.62" y="754.04"/>
<use href="#pp" x="1002.12" y="754.04"/>
<use href="#pp" x="1009.42" y="750.55"/>
<use href="#pp" x="986.62" y="743.57"/>
<use href="#pp" x="993.62" y="747.06"/>
<use href="#pp" x="1002.12" y="747.06"/>
<use href="#pp" x="1009.42" y="743.57"/>
<use href="#pp" x="986.62" y="736.59"/>
<use href="#pp" x="993.62" y="740.08"/>
<use href="#pp" x="1002.12" y="740.08"/>
<use href="#pp" x="1009.42" y="736.59"/>
<use href="#pp" x="993.62" y="733.1"/>
<use href="#pp" x="1002.12" y="733.1"/>
<use href="#pp" x="986.62" y="715.65"/>
<use href="#pp" x="993.62" y="719.14"/>
<use href="#pp" x="1002.12" y="719.14"/>
<use href="#pp" x="1009.42" y="715.65"/>
<use href="#pp" x="986.62" y="708.67"/>
<use href="#pp" x="993.62" y="712.16"/>
<use href="#pp" x="1002.12" y="712.16"/>
<use href="#pp" x="1009.42" y="708.67"/>
<use href="#pp" x="986.62" y="701.69"/>
<use href="#pp" x="993.62" y="705.18"/>
<use href="#pp" x="1002.12" y="705.18"/>
<use href="#pp" x="1009.42" y="701.69"/>
<use href="#pp" x="986.62" y="694.71"/>
<use href="#pp" x="993.62" y="698.2"/>
<use href="#pp" x="1002.12" y="698.2"/>
<use href="#pp" x="1009.42" y="694.71"/>
<use href="#pp" x="986.62" y="687.73"/>
<use href="#pp" x="993.62" y="691.22"/>
<use href="#pp" x="1002.12" y="691.22"/>
<use href="#pp" x="1009.42" y="687.73"/>
<use href="#pp" x="986.62" y="680.75"/>
<use href="#pp" x="993.62" y="684.24"/>
<use href="#pp" x="1002.12" y="684.24"/>
<use href="#pp" x="1009.42" y="680.75"/>
<use href="#pp" x="986.62" y="673.77"/>
<use href="#pp" x="993.62" y="677.26"/>
<use href="#pp" x="1002.12" y="677.26"/>
<use href="#pp" x="1009.42" y="673.77"/>
<use href="#pp" x="986.62" y="666.79"/>
<use href="#pp" x="993.62" y="670.28"/>
<use href="#pp" x="1002.12" y="670.28"/>
<use href="#pp" x="1009.42" y="666.79"/>
<use href="#pp" x="986.62" y="659.81"/>
<use href="#pp" x="993.62" y="663.3"/>
<use href="#pp" x="1002.12" y="663.3"/>
<use href="#pp" x="1009.42" y="659.81"/>
<use href="#pp" x="986.62" y="652.83"/>
<use href="#pp" x="993.62" y="656.32"/>
<use href="#pp" x="1002.12" y="656.32"/>
<use href="#pp" x="1009.42" y="652.83"/>
<text class="b" x="1020.92" y="656" text-anchor="middle" style="font-size:4.6px;" transform="rotate(-90 1020.92 656)">PCIEX4_2</text>
<rect class="k2" x="1126.08" y="641.4" width="33" height="137.7" style="stroke-width:1.25"/>
<path class="k" d="M1154.68 641.4L1154.68 779.1"/>
<circle class="pc" cx="1140.08" cy="646.4" r="4"/>
<circle class="pc" cx="1140.08" cy="727" r="4"/>
<use href="#pp" x="1128.98" y="764.51"/>
<use href="#pp" x="1135.98" y="768"/>
<use href="#pp" x="1144.48" y="768"/>
<use href="#pp" x="1151.78" y="764.51"/>
<use href="#pp" x="1128.98" y="757.53"/>
<use href="#pp" x="1135.98" y="761.02"/>
<use href="#pp" x="1144.48" y="761.02"/>
<use href="#pp" x="1151.78" y="757.53"/>
<use href="#pp" x="1128.98" y="750.55"/>
<use href="#pp" x="1135.98" y="754.04"/>
<use href="#pp" x="1144.48" y="754.04"/>
<use href="#pp" x="1151.78" y="750.55"/>
<use href="#pp" x="1128.98" y="743.57"/>
<use href="#pp" x="1135.98" y="747.06"/>
<use href="#pp" x="1144.48" y="747.06"/>
<use href="#pp" x="1151.78" y="743.57"/>
<use href="#pp" x="1128.98" y="736.59"/>
<use href="#pp" x="1135.98" y="740.08"/>
<use href="#pp" x="1144.48" y="740.08"/>
<use href="#pp" x="1151.78" y="736.59"/>
<use href="#pp" x="1135.98" y="733.1"/>
<use href="#pp" x="1144.48" y="733.1"/>
<use href="#pp" x="1128.98" y="715.65"/>
<use href="#pp" x="1135.98" y="719.14"/>
<use href="#pp" x="1144.48" y="719.14"/>
<use href="#pp" x="1151.78" y="715.65"/>
<use href="#pp" x="1128.98" y="708.67"/>
<use href="#pp" x="1135.98" y="712.16"/>
<use href="#pp" x="1144.48" y="712.16"/>
<use href="#pp" x="1151.78" y="708.67"/>
<use href="#pp" x="1128.98" y="701.69"/>
<use href="#pp" x="1135.98" y="705.18"/>
<use href="#pp" x="1144.48" y="705.18"/>
<use href="#pp" x="1151.78" y="701.69"/>
<use href="#pp" x="1128.98" y="694.71"/>
<use href="#pp" x="1135.98" y="698.2"/>
<use href="#pp" x="1144.48" y="698.2"/>
<use href="#pp" x="1151.78" y="694.71"/>
<use href="#pp" x="1128.98" y="687.73"/>
<use href="#pp" x="1135.98" y="691.22"/>
<use href="#pp" x="1144.48" y="691.22"/>
<use href="#pp" x="1151.78" y="687.73"/>
<use href="#pp" x="1128.98" y="680.75"/>
<use href="#pp" x="1135.98" y="684.24"/>
<use href="#pp" x="1144.48" y="684.24"/>
<use href="#pp" x="1151.78" y="680.75"/>
<use href="#pp" x="1128.98" y="673.77"/>
<use href="#pp" x="1135.98" y="677.26"/>
<use href="#pp" x="1144.48" y="677.26"/>
<use href="#pp" x="1151.78" y="673.77"/>
<use href="#pp" x="1128.98" y="666.79"/>
<use href="#pp" x="1135.98" y="670.28"/>
<use href="#pp" x="1144.48" y="670.28"/>
<use href="#pp" x="1151.78" y="666.79"/>
<use href="#pp" x="1128.98" y="659.81"/>
<use href="#pp" x="1135.98" y="663.3"/>
<use href="#pp" x="1144.48" y="663.3"/>
<use href="#pp" x="1151.78" y="659.81"/>
<use href="#pp" x="1128.98" y="652.83"/>
<use href="#pp" x="1135.98" y="656.32"/>
<use href="#pp" x="1144.48" y="656.32"/>
<use href="#pp" x="1151.78" y="652.83"/>
<path class="kf" d="M1126.88 784.6L1131.88 784.6L1129.38 780.4Z"/>
<text class="b" x="1163.28" y="656" text-anchor="middle" style="font-size:4.6px;" transform="rotate(-90 1163.28 656)">PCIEX4_3</text>
<rect class="gr" x="777.88" y="765.8" width="4.4" height="4.4" style="stroke-width:.7;fill:#fff"/>
<rect class="gr" x="849.06" y="765.8" width="4.4" height="4.4" style="stroke-width:.7;fill:#fff"/>
<rect class="gr" x="991.42" y="765.8" width="4.4" height="4.4" style="stroke-width:.7;fill:#fff"/>
<rect class="gr" x="1133.78" y="765.8" width="4.4" height="4.4" style="stroke-width:.7;fill:#fff"/>
<rect class="k2" x="1050.5" y="495.5" width="36.3" height="302.8" style="stroke-width:1.4"/>
<circle class="pc" cx="1068.6" cy="562.1" r="4.4"/>
<circle class="pc" cx="1068.6" cy="789.2" r="4.4"/>
<use href="#pe" x="1055.5" y="515.7"/>
<use href="#pe" x="1064" y="511.2"/>
<use href="#pe" x="1073.1" y="515.7"/>
<use href="#pe" x="1081.8" y="511.2"/>
<use href="#pe" x="1055.5" y="524.64"/>
<use href="#pe" x="1064" y="520.14"/>
<use href="#pe" x="1073.1" y="524.64"/>
<use href="#pe" x="1081.8" y="520.14"/>
<use href="#pe" x="1055.5" y="533.58"/>
<use href="#pe" x="1064" y="529.08"/>
<use href="#pe" x="1073.1" y="533.58"/>
<use href="#pe" x="1081.8" y="529.08"/>
<use href="#pe" x="1055.5" y="542.52"/>
<use href="#pe" x="1064" y="538.02"/>
<use href="#pe" x="1073.1" y="542.52"/>
<use href="#pe" x="1081.8" y="538.02"/>
<use href="#pe" x="1055.5" y="551.46"/>
<use href="#pe" x="1064" y="546.96"/>
<use href="#pe" x="1073.1" y="551.46"/>
<use href="#pe" x="1081.8" y="546.96"/>
<use href="#pe" x="1081.8" y="555.9"/>
<use href="#pe" x="1055.5" y="569.34"/>
<use href="#pe" x="1073.1" y="569.34"/>
<use href="#pe" x="1055.5" y="578.28"/>
<use href="#pe" x="1064" y="573.78"/>
<use href="#pe" x="1073.1" y="578.28"/>
<use href="#pe" x="1081.8" y="573.78"/>
<use href="#pe" x="1055.5" y="587.22"/>
<use href="#pe" x="1064" y="582.72"/>
<use href="#pe" x="1073.1" y="587.22"/>
<use href="#pe" x="1081.8" y="582.72"/>
<use href="#pe" x="1055.5" y="596.16"/>
<use href="#pe" x="1064" y="591.66"/>
<use href="#pe" x="1073.1" y="596.16"/>
<use href="#pe" x="1081.8" y="591.66"/>
<use href="#pe" x="1055.5" y="605.1"/>
<use href="#pe" x="1064" y="600.6"/>
<use href="#pe" x="1073.1" y="605.1"/>
<use href="#pe" x="1081.8" y="600.6"/>
<use href="#pe" x="1055.5" y="614.04"/>
<use href="#pe" x="1064" y="609.54"/>
<use href="#pe" x="1073.1" y="614.04"/>
<use href="#pe" x="1081.8" y="609.54"/>
<use href="#pe" x="1055.5" y="622.98"/>
<use href="#pe" x="1064" y="618.48"/>
<use href="#pe" x="1073.1" y="622.98"/>
<use href="#pe" x="1081.8" y="618.48"/>
<use href="#pe" x="1055.5" y="631.92"/>
<use href="#pe" x="1064" y="627.42"/>
<use href="#pe" x="1073.1" y="631.92"/>
<use href="#pe" x="1081.8" y="627.42"/>
<use href="#pe" x="1055.5" y="640.86"/>
<use href="#pe" x="1064" y="636.36"/>
<use href="#pe" x="1073.1" y="640.86"/>
<use href="#pe" x="1081.8" y="636.36"/>
<use href="#pe" x="1055.5" y="649.8"/>
<use href="#pe" x="1064" y="645.3"/>
<use href="#pe" x="1073.1" y="649.8"/>
<use href="#pe" x="1081.8" y="645.3"/>
<use href="#pe" x="1055.5" y="658.74"/>
<use href="#pe" x="1064" y="654.24"/>
<use href="#pe" x="1073.1" y="658.74"/>
<use href="#pe" x="1081.8" y="654.24"/>
<use href="#pe" x="1055.5" y="667.68"/>
<use href="#pe" x="1064" y="663.18"/>
<use href="#pe" x="1073.1" y="667.68"/>
<use href="#pe" x="1081.8" y="663.18"/>
<use href="#pe" x="1055.5" y="676.62"/>
<use href="#pe" x="1064" y="672.12"/>
<use href="#pe" x="1073.1" y="676.62"/>
<use href="#pe" x="1081.8" y="672.12"/>
<use href="#pe" x="1055.5" y="685.56"/>
<use href="#pe" x="1064" y="681.06"/>
<use href="#pe" x="1073.1" y="685.56"/>
<use href="#pe" x="1081.8" y="681.06"/>
<use href="#pe" x="1055.5" y="694.5"/>
<use href="#pe" x="1064" y="690"/>
<use href="#pe" x="1073.1" y="694.5"/>
<use href="#pe" x="1081.8" y="690"/>
<use href="#pe" x="1055.5" y="703.44"/>
<use href="#pe" x="1064" y="698.94"/>
<use href="#pe" x="1073.1" y="703.44"/>
<use href="#pe" x="1081.8" y="698.94"/>
<use href="#pe" x="1055.5" y="712.38"/>
<use href="#pe" x="1064" y="707.88"/>
<use href="#pe" x="1073.1" y="712.38"/>
<use href="#pe" x="1081.8" y="707.88"/>
<use href="#pe" x="1055.5" y="721.32"/>
<use href="#pe" x="1064" y="716.82"/>
<use href="#pe" x="1073.1" y="721.32"/>
<use href="#pe" x="1081.8" y="716.82"/>
<use href="#pe" x="1055.5" y="730.26"/>
<use href="#pe" x="1064" y="725.76"/>
<use href="#pe" x="1073.1" y="730.26"/>
<use href="#pe" x="1081.8" y="725.76"/>
<use href="#pe" x="1055.5" y="739.2"/>
<use href="#pe" x="1064" y="734.7"/>
<use href="#pe" x="1073.1" y="739.2"/>
<use href="#pe" x="1081.8" y="734.7"/>
<use href="#pe" x="1055.5" y="748.14"/>
<use href="#pe" x="1064" y="743.64"/>
<use href="#pe" x="1073.1" y="748.14"/>
<use href="#pe" x="1081.8" y="743.64"/>
<use href="#pe" x="1055.5" y="757.08"/>
<use href="#pe" x="1064" y="752.58"/>
<use href="#pe" x="1073.1" y="757.08"/>
<use href="#pe" x="1081.8" y="752.58"/>
<use href="#pe" x="1055.5" y="766.02"/>
<use href="#pe" x="1064" y="761.52"/>
<use href="#pe" x="1073.1" y="766.02"/>
<use href="#pe" x="1081.8" y="761.52"/>
<use href="#pe" x="1055.5" y="774.96"/>
<use href="#pe" x="1064" y="770.46"/>
<use href="#pe" x="1073.1" y="774.96"/>
<use href="#pe" x="1081.8" y="770.46"/>
<use href="#pe" x="1055.5" y="783.9"/>
<use href="#pe" x="1064" y="779.4"/>
<use href="#pe" x="1073.1" y="783.9"/>
<use href="#pe" x="1081.8" y="779.4"/>
<rect class="gr" x="1053.1" y="779.8" width="4.8" height="4.8" style="stroke-width:.6;fill:#fff"/>
<text class="b" x="1091.4" y="731.7" text-anchor="middle" style="font-size:4.6px;" transform="rotate(-90 1091.4 731.7)">PCI1</text>
<circle class="Gs" style="stroke-width:4.8" cx="668.4" cy="500.3" r="9"/>
<text x="668.4" y="500.3" font-size="8.2" font-weight="bold" fill="#19e619" text-anchor="middle" transform="rotate(-90 668.4 500.3) translate(0 2.9)">10</text>
<path class="k" d="M667.2 488.6L671.4 492.4L666.4 493.6ZM669.6 512L665.4 508.2L670.4 507Z" style="fill:#fff;stroke:none"/>
<path class="k" d="M667.6 488.2L666 493.8M669.2 512.4L670.8 506.8" style="stroke:#fff;stroke-width:.9"/>
<circle class="Gs" style="stroke-width:2" cx="668.3" cy="537.5" r="8.2"/>
<text x="668.3" y="537.5" font-size="9" font-weight="bold" fill="#19e619" text-anchor="middle" transform="rotate(-90 668.3 537.5) translate(0 3.2)">Pb</text>
<path class="Gs" d="M662.6 543.2L674 531.8"/>
<path class="Gs" style="stroke-width:1.4" d="M652.1 557.1L676.3 580.3M676.3 557.1L652.1 580.3"/>
<path class="Gs" style="stroke-width:1.3" d="M657.5 562.5L671 562.5L669.5 576L659 576Z"/>
<path class="Gs" style="stroke-width:1.3" d="M656 562.5A8 4 0 0 1 672.5 562.5"/>
<circle class="Gs" style="stroke-width:1" cx="670" cy="576.5" r="1.6"/>
<rect class="G" x="679.4" y="559.7" width="5.4" height="18.6"/>
<rect class="g" x="649.7" y="592" width="36.3" height="122.9"/>
<text class="b" x="666" y="706.5" text-anchor="middle" style="font-size:3.6px;" transform="rotate(-90 666 706.5)">ID</text>
<path class="G" d="M1082 922.3L1100.6 884.3L1119.7 922.1Z" style="fill:#2ae82a;stroke:#2ae82a;stroke-width:.8;stroke-linejoin:round"/>
<path class="k" d="M1095.2 903C1095.5 897.5 1099.5 894.5 1103.5 895C1107 896.5 1110.2 903.5 1110.6 909C1110.4 913 1107.8 915.6 1104.6 916.2C1100.5 916.6 1096 911.5 1095.2 903Z" style="fill:#fff;stroke:none"/>
<path class="Gs" d="M1097 903.5C1097.6 908 1099.4 912 1102.6 914.4M1099.4 905.4L1104.6 915M1101.6 906L1107 913.4M1098.6 902.6L1103 902.4L1108.6 908.8" style="stroke:#2ae82a;stroke-width:1.2"/>
<path class="k" style="stroke:#fff;stroke-width:1" d="M1092.6 902.2L1115.4 914.8"/>
<path class="g" d="M752.2 410.6L752.2 408.4L761 408.4L761 415.6"/>
<rect class="k" x="750.4" y="410.6" width="8.8" height="26.25" style="stroke-width:1.2;stroke:#333"/>
<rect class="k" x="750.4" y="410.6" width="8.8" height="8.75" style="stroke-width:1.3;stroke:#333"/>
<rect class="gr" x="752.5" y="412.7" width="4.6" height="4.6" style="stroke-width:.6"/>
<circle class="gr" cx="754.8" cy="415" r="1.8"/>
<rect class="gr" x="752.5" y="421.45" width="4.6" height="4.6" style="stroke-width:.6"/>
<circle class="gr" cx="754.8" cy="423.75" r="1.8"/>
<rect class="gr" x="752.5" y="430.2" width="4.6" height="4.6" style="stroke-width:.6"/>
<circle class="gr" cx="754.8" cy="432.5" r="1.8"/>
<path class="g" d="M764.8 411.8L762 414.2L764.8 416.6Z"/>
<text class="b" x="753.5" y="392" text-anchor="middle" style="font-size:4.6px;" transform="rotate(-90 753.5 392)">PEG_SET1</text>
<rect class="bl" x="755.2" y="438.7" width="10.4" height="38.1"/>
<path class="bl" d="M758.6 438.7L758.6 476.8"/>
<path class="bl" d="M762.2 438.7L762.2 476.8"/>
<path class="bl" d="M755.2 466L765.6 466"/>
<path class="bl" d="M755.2 471.4L765.6 471.4"/>
<text class="b" x="753.3" y="466" text-anchor="middle" style="font-size:3px;" transform="rotate(-90 753.3 466)">PEG_SET1</text>
<text class="b" x="757.6" y="452" text-anchor="middle" style="font-size:2.6px;" transform="rotate(-90 757.6 452)">x16</text>
<text class="b" x="761.2" y="452" text-anchor="middle" style="font-size:2.6px;" transform="rotate(-90 761.2 452)">x8+x8</text>
<text class="b" x="764.8" y="452" text-anchor="middle" style="font-size:2.6px;" transform="rotate(-90 764.8 452)">x8+x4+x4</text>
</g>
</defs>
<rect x="0" y="0" width="1305" height="2609" fill="#fff"/>
<rect class="fr" x="8" y="24.7" width="1289" height="1041.5"/>
<rect class="fr" x="8" y="1121.7" width="1289" height="1457.5"/>
<use href="#board"/>
<text class="dt" x="54.8" y="80.7">210.8</text>
<path class="d" d="M103.5 74.3L153.7 74.3"/>
<text class="dt" x="54.8" y="126.5">204.5</text>
<path class="d" d="M103.5 119.4L132.2 119.4L140.9 95.9L167 95.9"/>
<text class="dt" x="55.6" y="357.2">132.1</text>
<path class="d" d="M102.5 349.3L167 349.3"/>
<text class="dt" x="54.4" y="818">0.0</text>
<path class="d" d="M80.8 811.8L167.2 811.8L167.2 988.5"/>
<text class="dt" x="55.1" y="933.8">33.0</text>
<path class="d" d="M93.1 927.2L164.6 927.2"/>
<path class="d" d="M144.7 917.4L144.7 943.7L115.2 962.4L115.2 988"/>
<text class="dt" x="122" y="1015.6" transform="rotate(-90 122 1015.6)">6.4</text>
<text class="dt" x="173.9" y="1015.6" transform="rotate(-90 173.9 1015.6)">0.0</text>
<path class="d" d="M718.4 891.5L718.4 966.8"/>
<text class="dt" x="725.2" y="1016.6" transform="rotate(-90 725.2 1016.6)">157.5</text>
<path class="d" d="M878.6 891.5L878.6 966.8"/>
<text class="dt" x="885.4" y="1016.6" transform="rotate(-90 885.4 1016.6)">203.2</text>
<path class="d" d="M1154.2 891.5L1154.2 966.8"/>
<text class="dt" x="1161" y="1016.6" transform="rotate(-90 1161 1016.6)">281.9</text>
<path class="d" d="M1211.8 918L1211.8 966.8"/>
<text class="dt" x="1218.5" y="1016.6" transform="rotate(-90 1218.5 1016.6)">298.5</text>
<use href="#board" transform="translate(23.5 1217.3) scale(0.8963)"/>
<text class="t" x="376.5" y="1181.9" text-anchor="start">DDR4 U-DIMM</text>
<path class="o" d="M435.5 1186.4L435.5 1365.7"/>
<circle class="of" cx="435.5" cy="1365.7" r="5.9"/>
<rect class="o" x="179.2" y="1366.5" width="451.2" height="110.4"/>
<text class="t" x="299.6" y="1229.1" text-anchor="start">ATX Power</text>
<path class="o" d="M342.3 1232.5L342.3 1303.2"/>
<circle class="of" cx="342.3" cy="1303.2" r="5.9"/>
<text class="t" x="560.1" y="1229.1" text-anchor="start">eDP</text>
<path class="o" d="M576.5 1232.5L576.5 1303.2"/>
<circle class="of" cx="576.5" cy="1303.2" r="5.9"/>
<text class="t" x="737.7" y="1229.1" text-anchor="start">FAN</text>
<path class="o" d="M754.8 1232.5L754.8 1303.2"/>
<circle class="of" cx="754.8" cy="1303.2" r="5.9"/>
<text class="t" x="785.6" y="1181.9" text-anchor="start">SMBus</text>
<path class="o" d="M808.5 1185.7L808.5 1303.2"/>
<circle class="of" cx="808.5" cy="1303.2" r="5.9"/>
<text class="t" x="914.6" y="1181.9" text-anchor="start">SATA</text>
<path class="o" d="M936.2 1185.7L936.2 1298.1"/>
<circle class="of" cx="936.2" cy="1298.1" r="5.9"/>
<rect class="o" x="874" y="1298.1" width="124.7" height="50.6"/>
<text class="t" x="1024.3" y="1181.9" text-anchor="start">M.2 Key-M</text>
<path class="o" d="M1066 1185.7L1066 1395.5L1017.1 1395.5"/>
<circle class="of" cx="1017.1" cy="1395.5" r="5.9"/>
<text class="t" x="837.1" y="1229.1" text-anchor="start">Mini PCIe</text>
<path class="o" d="M866.8 1232.5L866.8 1485.3"/>
<circle class="of" cx="866.8" cy="1485.3" r="5.9"/>
<text class="t" x="1012.3" y="1229.1" text-anchor="start">eSPI</text>
<path class="o" d="M1030.8 1232.5L1030.8 1328.2"/>
<circle class="of" cx="1030.8" cy="1328.2" r="5.9"/>
<text class="t" x="101" y="1346.9" text-anchor="end">FAN</text>
<path class="o" d="M102.5 1341.1L169.1 1341.1"/>
<circle class="of" cx="169.1" cy="1341.1" r="5.9"/>
<text class="t" x="101" y="1499.8" text-anchor="end">FAN</text>
<path class="o" d="M102.5 1494.3L168.4 1494.3"/>
<circle class="of" cx="168.4" cy="1494.3" r="5.9"/>
<text class="t" x="101" y="1636.5" text-anchor="end">CPU</text>
<path class="o" d="M102.5 1630.3L412.4 1630.3"/>
<circle class="of" cx="412.4" cy="1630.3" r="5.9"/>
<text class="t" x="101.5" y="1798.4" text-anchor="end">CPU Power</text>
<path class="o" d="M102.5 1793.3L174.9 1793.3"/>
<circle class="of" cx="174.9" cy="1793.3" r="5.9"/>
<text class="t" x="101" y="1889.4" text-anchor="end">VGA</text>
<path class="o" d="M102.5 1883.9L171.9 1883.9"/>
<circle class="of" cx="171.9" cy="1883.9" r="5.9"/>
<text class="t" x="54" y="1943" text-anchor="end">SPK</text>
<path class="o" d="M54.7 1937L618.7 1937L618.7 1952.8"/>
<circle class="of" cx="618.7" cy="1952.8" r="5.9"/>
<text class="t" x="101.8" y="1966.2" text-anchor="end">F_Audio</text>
<path class="o" d="M102.5 1961L598.9 1961L598.9 1972.2"/>
<circle class="of" cx="598.9" cy="1972.2" r="5.9"/>
<text class="t" x="1160.6" y="1374.3" text-anchor="start">LPT</text>
<path class="o" d="M1160 1366.8L1089.9 1366.8"/>
<circle class="of" cx="1089.9" cy="1366.8" r="5.9"/>
<text class="t" x="1160.6" y="1463.3" text-anchor="start">F_PANEL</text>
<path class="o" d="M1160 1457L1095.3 1457"/>
<circle class="of" cx="1095.3" cy="1457" r="5.9"/>
<rect class="o" x="1083.2" y="1481.2" width="23.1" height="91.5"/>
<text class="t" x="1160.6" y="1534.7" text-anchor="start">USB2.0</text>
<path class="o" d="M1160 1527.4L1106.3 1527.4"/>
<circle class="of" cx="1106.3" cy="1527.4" r="5.9"/>
<text class="t" x="1160.6" y="1583" text-anchor="start">M.2 Key-B</text>
<path class="o" d="M1160 1576.2L890 1576.2"/>
<circle class="of" cx="890" cy="1576.2" r="5.9"/>
<text class="t" x="1160.6" y="1606.7" text-anchor="start">USB3.2 Vertical</text>
<path class="o" d="M1160 1599.5L1094.5 1599.5"/>
<circle class="of" cx="1094.5" cy="1599.5" r="5.9"/>
<rect class="o" x="1070.9" y="1627.9" width="36" height="270.5"/>
<text class="t" x="1160.6" y="1769.8" text-anchor="start">COM</text>
<path class="o" d="M1160 1762.6L1106.9 1762.6"/>
<circle class="of" cx="1106.9" cy="1762.6" r="5.9"/>
<text class="t" x="1160.6" y="1943.7" text-anchor="start">GPIO</text>
<path class="o" d="M1160 1937.5L1098.6 1937.5"/>
<circle class="of" cx="1098.6" cy="1937.5" r="5.9"/>
<text class="t" x="1160.6" y="2012.6" text-anchor="start">PS/2</text>
<path class="o" d="M1160 2006L1098.6 2006"/>
<circle class="of" cx="1098.6" cy="2006" r="5.9"/>
<path class="o" d="M662.1 1868.6L662.1 2097.6"/>
<circle class="of" cx="662.1" cy="1868.6" r="5.9"/>
<text class="t" x="657.8" y="2114" text-anchor="middle">PCIe x16</text>
<text class="t" x="657.8" y="2135.6" text-anchor="middle">(x16 or x8 signal)</text>
<path class="o" d="M726.3 1868.6L726.3 2145.5"/>
<circle class="of" cx="726.3" cy="1868.6" r="5.9"/>
<text class="t" x="723.6" y="2160.8" text-anchor="middle">PCIe x4</text>
<path class="o" d="M789.1 1868.6L789.1 2097.6"/>
<circle class="of" cx="789.1" cy="1868.6" r="5.9"/>
<text class="t" x="787.4" y="2114" text-anchor="middle">PCIe x8</text>
<text class="t" x="787.4" y="2135.6" text-anchor="middle">(x4 signal)</text>
<path class="o" d="M853.1 1868.6L853.1 2145.5"/>
<circle class="of" cx="853.1" cy="1868.6" r="5.9"/>
<text class="t" x="851.8" y="2160.8" text-anchor="middle">PCIe x16</text>
<text class="t" x="851.8" y="2182.4" text-anchor="middle">(NA or x8 signal)</text>
<path class="o" d="M917.2 1868.6L917.2 2097.6"/>
<circle class="of" cx="917.2" cy="1868.6" r="5.9"/>
<text class="t" x="915.4" y="2114" text-anchor="middle">PCIe x4</text>
<path class="o" d="M981 1924.4L981 2145.5"/>
<circle class="of" cx="981" cy="1924.4" r="5.9"/>
<text class="t" x="979.5" y="2160.8" text-anchor="middle">PCI</text>
<path class="o" d="M1044.4 1868.6L1044.4 2097.6"/>
<circle class="of" cx="1044.4" cy="1868.6" r="5.9"/>
<text class="t" x="1042.4" y="2114" text-anchor="middle">PCIe x4</text>
<path class="io" d="M1104 2416.6L148.2 2416.6L148.2 2422L1104 2422M158 2416.6L158 2422" style="stroke:#555;stroke-width:.9"/>
<rect class="iow" x="166.6" y="2317.2" width="96.6" height="39.2" rx="4"/>
<path class="io" d="M194 2321L236.2 2321Q244.2 2321 243.6 2328.2L240.4 2346.7Q239.4 2353.6 232 2353.6L198.2 2353.6Q190.8 2353.6 189.8 2346.7L186.6 2328.2Q186 2321 194 2321Z" style="stroke-width:2.2;stroke:#9a9a9a"/>
<path class="io" d="M194 2321L236.2 2321Q244.2 2321 243.6 2328.2L240.4 2346.7Q239.4 2353.6 232 2353.6L198.2 2353.6Q190.8 2353.6 189.8 2346.7L186.6 2328.2Q186 2321 194 2321Z" style="stroke-width:.6"/>
<path class="iow" d="M196 2323.4L234.2 2323.4Q241.2 2323.4 240.8 2329.2L238 2345.7Q237 2351.2 231 2351.2L199.2 2351.2Q193.2 2351.2 192.2 2345.7L189.4 2329.2Q189 2323.4 196 2323.4Z"/>
<circle class="iow" cx="176.5" cy="2337" r="8.2"/>
<circle class="io" cx="176.5" cy="2337" r="4.7"/>
<circle class="iow" cx="254.7" cy="2337" r="8.2"/>
<circle class="io" cx="254.7" cy="2337" r="4.7"/>
<circle class="io" cx="197.9" cy="2333" r="1.5"/>
<circle class="io" cx="206.58" cy="2333" r="1.5"/>
<circle class="io" cx="215.26" cy="2333" r="1.5"/>
<circle class="io" cx="223.94" cy="2333" r="1.5"/>
<circle class="io" cx="232.62" cy="2333" r="1.5"/>
<circle class="io" cx="202.3" cy="2341.3" r="1.5"/>
<circle class="io" cx="210.93" cy="2341.3" r="1.5"/>
<circle class="io" cx="219.56" cy="2341.3" r="1.5"/>
<circle class="io" cx="228.19" cy="2341.3" r="1.5"/>
<rect class="io" x="191.2" y="2330.9" width="3" height="12.2"/>
<rect class="io" x="236.6" y="2330.9" width="3" height="12.2"/>
<rect class="io" x="200" y="2326.8" width="30.8" height="1.7"/>
<rect class="io" x="200" y="2347.7" width="30.8" height="1.8"/>
<rect class="iow" x="166.6" y="2377.4" width="96.6" height="39.2" rx="4"/>
<path class="io" d="M194 2381.2L236.2 2381.2Q244.2 2381.2 243.6 2388.4L240.4 2406.9Q239.4 2413.8 232 2413.8L198.2 2413.8Q190.8 2413.8 189.8 2406.9L186.6 2388.4Q186 2381.2 194 2381.2Z" style="stroke-width:2.2;stroke:#9a9a9a"/>
<path class="io" d="M194 2381.2L236.2 2381.2Q244.2 2381.2 243.6 2388.4L240.4 2406.9Q239.4 2413.8 232 2413.8L198.2 2413.8Q190.8 2413.8 189.8 2406.9L186.6 2388.4Q186 2381.2 194 2381.2Z" style="stroke-width:.6"/>
<path class="iow" d="M196 2383.6L234.2 2383.6Q241.2 2383.6 240.8 2389.4L238 2405.9Q237 2411.4 231 2411.4L199.2 2411.4Q193.2 2411.4 192.2 2405.9L189.4 2389.4Q189 2383.6 196 2383.6Z"/>
<circle class="iow" cx="176.5" cy="2397.2" r="8.2"/>
<circle class="io" cx="176.5" cy="2397.2" r="4.7"/>
<circle class="iow" cx="254.7" cy="2397.2" r="8.2"/>
<circle class="io" cx="254.7" cy="2397.2" r="4.7"/>
<circle class="io" cx="197.9" cy="2393.2" r="1.5"/>
<circle class="io" cx="206.58" cy="2393.2" r="1.5"/>
<circle class="io" cx="215.26" cy="2393.2" r="1.5"/>
<circle class="io" cx="223.94" cy="2393.2" r="1.5"/>
<circle class="io" cx="232.62" cy="2393.2" r="1.5"/>
<circle class="io" cx="202.3" cy="2401.5" r="1.5"/>
<circle class="io" cx="210.93" cy="2401.5" r="1.5"/>
<circle class="io" cx="219.56" cy="2401.5" r="1.5"/>
<circle class="io" cx="228.19" cy="2401.5" r="1.5"/>
<rect class="io" x="191.2" y="2391.1" width="3" height="12.2"/>
<rect class="io" x="236.6" y="2391.1" width="3" height="12.2"/>
<rect class="io" x="200" y="2387" width="30.8" height="1.7"/>
<rect class="io" x="200" y="2407.9" width="30.8" height="1.8"/>
<path class="iol" d="M166.6 2356.4L166.6 2377.4M263.2 2356.4L263.2 2377.4M184.8 2356.4L184.8 2377.4M187.7 2356.4L187.7 2377.4M242.5 2356.4L242.5 2377.4M245.4 2356.4L245.4 2377.4"/>
<path class="io" d="M169.8 2422L171.4 2428L173 2422"/>
<path class="io" d="M178 2422L179.6 2428L181.2 2422"/>
<path class="io" d="M248.6 2422L250.2 2428L251.8 2422"/>
<path class="io" d="M256.4 2422L258 2428L259.6 2422"/>
<rect class="io" x="196.8" y="2422" width="1.8" height="4.4" style="fill:#444"/>
<rect class="io" x="201" y="2422" width="1.8" height="4.4" style="fill:#444"/>
<rect class="io" x="205.2" y="2422" width="1.8" height="4.4" style="fill:#444"/>
<rect class="io" x="209.4" y="2422" width="1.8" height="4.4" style="fill:#444"/>
<rect class="io" x="217.8" y="2422" width="1.8" height="4.4" style="fill:#444"/>
<rect class="io" x="222" y="2422" width="1.8" height="4.4" style="fill:#444"/>
<rect class="io" x="226.2" y="2422" width="1.8" height="4.4" style="fill:#444"/>
<rect class="io" x="230.4" y="2422" width="1.8" height="4.4" style="fill:#444"/>
<path class="io" d="M285.6 2416.6L285.6 2325.5Q285.6 2323 287.6 2323L346.7 2323Q348.7 2323 348.7 2325.5L348.7 2416.6" style="stroke-width:1.3"/>
<path class="iol" d="M287.6 2416.6L287.6 2325M346.7 2416.6L346.7 2325"/>
<path class="io" d="M285.6 2394L348.7 2394"/>
<rect class="iow" x="297.1" y="2326.7" width="40.3" height="17.4" rx="0.8" style="stroke:#333;stroke-width:1.2"/>
<rect class="iol" x="298.6" y="2328.1" width="37.3" height="14.7" rx="1.5"/>
<rect class="io" x="301.3" y="2330.5" width="32.6" height="3.8" rx="0.6" style="fill:#1515e2;stroke:none"/>
<path class="io" d="M305.1 2334.7A1.7 1.7 0 0 0 308.5 2334.7" style="stroke:#333;stroke-width:1"/>
<path class="io" d="M312.5 2334.7A1.7 1.7 0 0 0 315.9 2334.7" style="stroke:#333;stroke-width:1"/>
<path class="io" d="M319.9 2334.7A1.7 1.7 0 0 0 323.3 2334.7" style="stroke:#333;stroke-width:1"/>
<path class="io" d="M327.3 2334.7A1.7 1.7 0 0 0 330.7 2334.7" style="stroke:#333;stroke-width:1"/>
<path class="io" d="M305.4 2344.1L306.9 2341.5L310.4 2341.5L311.9 2344.1M323.9 2344.1L325.4 2341.5L328.9 2341.5L330.4 2344.1" style="stroke:#333;stroke-width:1.1;fill:#fff"/>
<path class="iol" d="M306.1 2326.7L307.1 2328.2L309.7 2328.2L310.7 2326.7M325.1 2326.7L326.1 2328.2L328.7 2328.2L329.7 2326.7"/>
<rect class="iow" x="297.1" y="2353.2" width="40.3" height="17.4" rx="0.8" style="stroke:#333;stroke-width:1.2"/>
<rect class="iol" x="298.6" y="2354.6" width="37.3" height="14.7" rx="1.5"/>
<rect class="io" x="301.3" y="2357" width="32.6" height="3.8" rx="0.6" style="fill:#1515e2;stroke:none"/>
<path class="io" d="M305.1 2361.2A1.7 1.7 0 0 0 308.5 2361.2" style="stroke:#333;stroke-width:1"/>
<path class="io" d="M312.5 2361.2A1.7 1.7 0 0 0 315.9 2361.2" style="stroke:#333;stroke-width:1"/>
<path class="io" d="M319.9 2361.2A1.7 1.7 0 0 0 323.3 2361.2" style="stroke:#333;stroke-width:1"/>
<path class="io" d="M327.3 2361.2A1.7 1.7 0 0 0 330.7 2361.2" style="stroke:#333;stroke-width:1"/>
<path class="io" d="M305.4 2370.6L306.9 2368L310.4 2368L311.9 2370.6M323.9 2370.6L325.4 2368L328.9 2368L330.4 2370.6" style="stroke:#333;stroke-width:1.1;fill:#fff"/>
<path class="iol" d="M306.1 2353.2L307.1 2354.7L309.7 2354.7L310.7 2353.2M325.1 2353.2L326.1 2354.7L328.7 2354.7L329.7 2353.2"/>
<rect class="io" x="294.3" y="2346.6" width="47.2" height="4.7" rx="2.35"/>
<rect class="io" x="292.4" y="2379.5" width="50.3" height="7.5" rx="3.75"/>
<rect class="iol" x="290" y="2395" width="55.8" height="21.1"/>
<path class="io" d="M294.7 2395.6L341.1 2395.6L341.1 2404L335.6 2411L331.6 2414.2L304.6 2414.2L300.6 2411L294.7 2404Z" style="stroke-width:1.1"/>
<path class="iol" d="M296.6 2397.2L339.2 2397.2L339.2 2403.6L334.4 2409.8L330.6 2412.4L305.6 2412.4L301.6 2409.8L296.6 2403.6Z"/>
<rect class="io" x="301.1" y="2404.3" width="33.6" height="3.2"/>
<rect class="iol" x="302.6" y="2392" width="29" height="3"/>
<path class="io" d="M304.6 2422.6L304.6 2425" style="stroke-width:1"/>
<path class="io" d="M307.9 2422.6L307.9 2425" style="stroke-width:1"/>
<path class="io" d="M311.2 2422.6L311.2 2425" style="stroke-width:1"/>
<path class="io" d="M314.5 2422.6L314.5 2425" style="stroke-width:1"/>
<path class="io" d="M317.8 2422.6L317.8 2425" style="stroke-width:1"/>
<path class="io" d="M321.1 2422.6L321.1 2425" style="stroke-width:1"/>
<path class="io" d="M324.4 2422.6L324.4 2425" style="stroke-width:1"/>
<path class="io" d="M327.7 2422.6L327.7 2425" style="stroke-width:1"/>
<path class="io" d="M286.6 2422L286.6 2427M347.6 2422L347.6 2427"/>
<path class="io" d="M365.7 2416.6L365.7 2325.5Q365.7 2323 367.7 2323L426.8 2323Q428.8 2323 428.8 2325.5L428.8 2416.6" style="stroke-width:1.3"/>
<path class="iol" d="M367.7 2416.6L367.7 2325M426.8 2416.6L426.8 2325"/>
<path class="io" d="M365.7 2394L428.8 2394"/>
<rect class="iow" x="377.2" y="2326.7" width="40.3" height="17.4" rx="0.8" style="stroke:#333;stroke-width:1.2"/>
<rect class="iol" x="378.7" y="2328.1" width="37.3" height="14.7" rx="1.5"/>
<rect class="io" x="381.4" y="2330.5" width="32.6" height="3.8" rx="0.6" style="fill:#1515e2;stroke:none"/>
<path class="io" d="M385.2 2334.7A1.7 1.7 0 0 0 388.6 2334.7" style="stroke:#333;stroke-width:1"/>
<path class="io" d="M392.6 2334.7A1.7 1.7 0 0 0 396 2334.7" style="stroke:#333;stroke-width:1"/>
<path class="io" d="M400 2334.7A1.7 1.7 0 0 0 403.4 2334.7" style="stroke:#333;stroke-width:1"/>
<path class="io" d="M407.4 2334.7A1.7 1.7 0 0 0 410.8 2334.7" style="stroke:#333;stroke-width:1"/>
<path class="io" d="M385.5 2344.1L387 2341.5L390.5 2341.5L392 2344.1M404 2344.1L405.5 2341.5L409 2341.5L410.5 2344.1" style="stroke:#333;stroke-width:1.1;fill:#fff"/>
<path class="iol" d="M386.2 2326.7L387.2 2328.2L389.8 2328.2L390.8 2326.7M405.2 2326.7L406.2 2328.2L408.8 2328.2L409.8 2326.7"/>
<rect class="iow" x="377.2" y="2353.2" width="40.3" height="17.4" rx="0.8" style="stroke:#333;stroke-width:1.2"/>
<rect class="iol" x="378.7" y="2354.6" width="37.3" height="14.7" rx="1.5"/>
<rect class="io" x="381.4" y="2357" width="32.6" height="3.8" rx="0.6" style="fill:#1515e2;stroke:none"/>
<path class="io" d="M385.2 2361.2A1.7 1.7 0 0 0 388.6 2361.2" style="stroke:#333;stroke-width:1"/>
<path class="io" d="M392.6 2361.2A1.7 1.7 0 0 0 396 2361.2" style="stroke:#333;stroke-width:1"/>
<path class="io" d="M400 2361.2A1.7 1.7 0 0 0 403.4 2361.2" style="stroke:#333;stroke-width:1"/>
<path class="io" d="M407.4 2361.2A1.7 1.7 0 0 0 410.8 2361.2" style="stroke:#333;stroke-width:1"/>
<path class="io" d="M385.5 2370.6L387 2368L390.5 2368L392 2370.6M404 2370.6L405.5 2368L409 2368L410.5 2370.6" style="stroke:#333;stroke-width:1.1;fill:#fff"/>
<path class="iol" d="M386.2 2353.2L387.2 2354.7L389.8 2354.7L390.8 2353.2M405.2 2353.2L406.2 2354.7L408.8 2354.7L409.8 2353.2"/>
<rect class="io" x="374.4" y="2346.6" width="47.2" height="4.7" rx="2.35"/>
<rect class="io" x="372.5" y="2379.5" width="50.3" height="7.5" rx="3.75"/>
<rect class="iol" x="371.3" y="2395" width="54" height="20.5"/>
<path class="io" d="M372.7 2396L422.1 2396L424.1 2412.5L421.7 2414.6L378.7 2414.6L372.7 2410.5Z" style="stroke-width:1.1"/>
<path class="io" d="M378.8 2409.3L378.8 2405L416.6 2405L416.6 2409.3L414.3 2409.3L414.3 2407.2L381.1 2407.2L381.1 2409.3Z" style="fill:#fff"/>
<rect class="iol" x="381.7" y="2392" width="31" height="3"/>
<path class="io" d="M384.7 2422.6L384.7 2425" style="stroke-width:1"/>
<path class="io" d="M388 2422.6L388 2425" style="stroke-width:1"/>
<path class="io" d="M391.3 2422.6L391.3 2425" style="stroke-width:1"/>
<path class="io" d="M394.6 2422.6L394.6 2425" style="stroke-width:1"/>
<path class="io" d="M397.9 2422.6L397.9 2425" style="stroke-width:1"/>
<path class="io" d="M401.2 2422.6L401.2 2425" style="stroke-width:1"/>
<path class="io" d="M404.5 2422.6L404.5 2425" style="stroke-width:1"/>
<path class="io" d="M407.8 2422.6L407.8 2425" style="stroke-width:1"/>
<path class="io" d="M366.7 2422L366.7 2427M427.7 2422L427.7 2427"/>
<path class="io" d="M447.5 2416.6L447.5 2322Q447.5 2320 449.5 2320L505.7 2320Q507.7 2320 507.7 2322L507.7 2416.6" style="stroke-width:1.5"/>
<path class="iol" d="M449.7 2416.6L449.7 2322M505.5 2416.6L505.5 2322"/>
<rect class="io" x="451.8" y="2324.2" width="12.2" height="6.8" rx="1"/>
<rect class="io" x="490.9" y="2324.2" width="12.2" height="6.8" rx="1"/>
<path class="io" d="M456.8 2332.9L467.3 2332.9L467.3 2326.6L487.9 2326.6L487.9 2332.9L497.8 2332.9L497.8 2356Q497.8 2360.9 492.5 2360.9L462.1 2360.9Q456.8 2360.9 456.8 2356Z"/>
<path class="iol" d="M459.1 2335L495.5 2335L495.5 2354.8Q495.5 2358.6 491.5 2358.6L463.1 2358.6Q459.1 2358.6 459.1 2354.8Z"/>
<rect class="iol" x="469" y="2328.6" width="17.2" height="9.9"/>
<rect class="io" x="465.1" y="2347.2" width="1.9" height="7.5" style="fill:#333;stroke:none"/>
<rect class="io" x="468.2" y="2347.2" width="1.9" height="7.5" style="fill:#333;stroke:none"/>
<rect class="io" x="471.3" y="2347.2" width="1.9" height="7.5" style="fill:#333;stroke:none"/>
<rect class="io" x="474.4" y="2347.2" width="1.9" height="7.5" style="fill:#333;stroke:none"/>
<rect class="io" x="477.5" y="2347.2" width="1.9" height="7.5" style="fill:#333;stroke:none"/>
<rect class="io" x="480.6" y="2347.2" width="1.9" height="7.5" style="fill:#333;stroke:none"/>
<rect class="io" x="483.7" y="2347.2" width="1.9" height="7.5" style="fill:#333;stroke:none"/>
<rect class="io" x="486.8" y="2347.2" width="1.9" height="7.5" style="fill:#333;stroke:none"/>
<path class="io" d="M464 2354.9L491 2354.9"/>
<rect class="iol" x="455.5" y="2339" width="2.4" height="8" rx="1.2"/>
<rect class="iol" x="496.9" y="2339" width="2.4" height="8" rx="1.2"/>
<rect class="iol" x="454" y="2362.6" width="47.2" height="1.8" rx="0.9"/>
<rect class="iow" x="456.8" y="2367.7" width="41.6" height="18.6" rx="0.8" style="stroke:#333;stroke-width:1.2"/>
<rect class="iol" x="458.3" y="2369.1" width="38.6" height="15.9" rx="1.5"/>
<rect class="io" x="461" y="2371.5" width="33.9" height="3.8" rx="0.6" style="fill:#1515e2;stroke:none"/>
<path class="io" d="M464.8 2375.7A1.7 1.7 0 0 0 468.2 2375.7" style="stroke:#333;stroke-width:1"/>
<path class="io" d="M472.2 2375.7A1.7 1.7 0 0 0 475.6 2375.7" style="stroke:#333;stroke-width:1"/>
<path class="io" d="M479.6 2375.7A1.7 1.7 0 0 0 483 2375.7" style="stroke:#333;stroke-width:1"/>
<path class="io" d="M487 2375.7A1.7 1.7 0 0 0 490.4 2375.7" style="stroke:#333;stroke-width:1"/>
<path class="io" d="M465.1 2386.3L466.6 2383.7L470.1 2383.7L471.6 2386.3M483.6 2386.3L485.1 2383.7L488.6 2383.7L490.1 2386.3" style="stroke:#333;stroke-width:1.1;fill:#fff"/>
<path class="iol" d="M465.8 2367.7L466.8 2369.2L469.4 2369.2L470.4 2367.7M484.8 2367.7L485.8 2369.2L488.4 2369.2L489.4 2367.7"/>
<rect class="iow" x="456.8" y="2394.4" width="41.6" height="18.6" rx="0.8" style="stroke:#333;stroke-width:1.2"/>
<rect class="iol" x="458.3" y="2395.8" width="38.6" height="15.9" rx="1.5"/>
<rect class="io" x="461" y="2398.2" width="33.9" height="3.8" rx="0.6" style="fill:#1515e2;stroke:none"/>
<path class="io" d="M464.8 2402.4A1.7 1.7 0 0 0 468.2 2402.4" style="stroke:#333;stroke-width:1"/>
<path class="io" d="M472.2 2402.4A1.7 1.7 0 0 0 475.6 2402.4" style="stroke:#333;stroke-width:1"/>
<path class="io" d="M479.6 2402.4A1.7 1.7 0 0 0 483 2402.4" style="stroke:#333;stroke-width:1"/>
<path class="io" d="M487 2402.4A1.7 1.7 0 0 0 490.4 2402.4" style="stroke:#333;stroke-width:1"/>
<path class="io" d="M465.1 2413L466.6 2410.4L470.1 2410.4L471.6 2413M483.6 2413L485.1 2410.4L488.6 2410.4L490.1 2413" style="stroke:#333;stroke-width:1.1;fill:#fff"/>
<path class="iol" d="M465.8 2394.4L466.8 2395.9L469.4 2395.9L470.4 2394.4M484.8 2394.4L485.8 2395.9L488.4 2395.9L489.4 2394.4"/>
<rect class="iol" x="454" y="2389.4" width="47.2" height="2" rx="1"/>
<path class="io" d="M463.5 2377.8L463.5 2384.2" style="stroke:#333;stroke-width:1.3"/>
<path class="io" d="M470.5 2377.8L470.5 2384.2" style="stroke:#333;stroke-width:1.3"/>
<path class="io" d="M477.5 2377.8L477.5 2384.2" style="stroke:#333;stroke-width:1.3"/>
<path class="io" d="M484.5 2377.8L484.5 2384.2" style="stroke:#333;stroke-width:1.3"/>
<path class="io" d="M491.5 2377.8L491.5 2384.2" style="stroke:#333;stroke-width:1.3"/>
<path class="io" d="M463.5 2404.6L463.5 2411" style="stroke:#333;stroke-width:1.3"/>
<path class="io" d="M470.5 2404.6L470.5 2411" style="stroke:#333;stroke-width:1.3"/>
<path class="io" d="M477.5 2404.6L477.5 2411" style="stroke:#333;stroke-width:1.3"/>
<path class="io" d="M484.5 2404.6L484.5 2411" style="stroke:#333;stroke-width:1.3"/>
<path class="io" d="M491.5 2404.6L491.5 2411" style="stroke:#333;stroke-width:1.3"/>
<path class="io" d="M448 2422L448 2429M507.2 2422L507.2 2429" style="stroke-width:1.3"/>
<path class="io" d="M454.5 2422.4Q454.9 2427 457.5 2429M501 2422.4Q500.5 2427 497.9 2429" style="stroke-width:1.3"/>
<path class="io" d="M459.5 2424.2L496.5 2424.2" style="stroke-width:2.4;stroke-dasharray:1.2 .8;stroke:#666"/>
<path class="io" d="M519.4 2416.6L519.4 2322Q519.4 2320 521.4 2320L577.6 2320Q579.6 2320 579.6 2322L579.6 2416.6" style="stroke-width:1.5"/>
<path class="iol" d="M521.6 2416.6L521.6 2322M577.4 2416.6L577.4 2322"/>
<rect class="io" x="523.7" y="2324.2" width="12.2" height="6.8" rx="1"/>
<rect class="io" x="562.8" y="2324.2" width="12.2" height="6.8" rx="1"/>
<path class="io" d="M528.7 2332.9L539.2 2332.9L539.2 2326.6L559.8 2326.6L559.8 2332.9L569.7 2332.9L569.7 2356Q569.7 2360.9 564.4 2360.9L534 2360.9Q528.7 2360.9 528.7 2356Z"/>
<path class="iol" d="M531 2335L567.4 2335L567.4 2354.8Q567.4 2358.6 563.4 2358.6L535 2358.6Q531 2358.6 531 2354.8Z"/>
<rect class="iol" x="540.9" y="2328.6" width="17.2" height="9.9"/>
<rect class="io" x="537" y="2347.2" width="1.9" height="7.5" style="fill:#333;stroke:none"/>
<rect class="io" x="540.1" y="2347.2" width="1.9" height="7.5" style="fill:#333;stroke:none"/>
<rect class="io" x="543.2" y="2347.2" width="1.9" height="7.5" style="fill:#333;stroke:none"/>
<rect class="io" x="546.3" y="2347.2" width="1.9" height="7.5" style="fill:#333;stroke:none"/>
<rect class="io" x="549.4" y="2347.2" width="1.9" height="7.5" style="fill:#333;stroke:none"/>
<rect class="io" x="552.5" y="2347.2" width="1.9" height="7.5" style="fill:#333;stroke:none"/>
<rect class="io" x="555.6" y="2347.2" width="1.9" height="7.5" style="fill:#333;stroke:none"/>
<rect class="io" x="558.7" y="2347.2" width="1.9" height="7.5" style="fill:#333;stroke:none"/>
<path class="io" d="M535.9 2354.9L562.9 2354.9"/>
<rect class="iol" x="527.4" y="2339" width="2.4" height="8" rx="1.2"/>
<rect class="iol" x="568.8" y="2339" width="2.4" height="8" rx="1.2"/>
<rect class="iol" x="525.9" y="2362.6" width="47.2" height="1.8" rx="0.9"/>
<rect class="iow" x="528.7" y="2367.7" width="41.6" height="18.6" rx="0.8" style="stroke:#333;stroke-width:1.2"/>
<rect class="iol" x="530.2" y="2369.1" width="38.6" height="15.9" rx="1.5"/>
<rect class="io" x="532.9" y="2371.5" width="33.9" height="3.8" rx="0.6" style="fill:#1515e2;stroke:none"/>
<path class="io" d="M536.7 2375.7A1.7 1.7 0 0 0 540.1 2375.7" style="stroke:#333;stroke-width:1"/>
<path class="io" d="M544.1 2375.7A1.7 1.7 0 0 0 547.5 2375.7" style="stroke:#333;stroke-width:1"/>
<path class="io" d="M551.5 2375.7A1.7 1.7 0 0 0 554.9 2375.7" style="stroke:#333;stroke-width:1"/>
<path class="io" d="M558.9 2375.7A1.7 1.7 0 0 0 562.3 2375.7" style="stroke:#333;stroke-width:1"/>
<path class="io" d="M537 2386.3L538.5 2383.7L542 2383.7L543.5 2386.3M555.5 2386.3L557 2383.7L560.5 2383.7L562 2386.3" style="stroke:#333;stroke-width:1.1;fill:#fff"/>
<path class="iol" d="M537.7 2367.7L538.7 2369.2L541.3 2369.2L542.3 2367.7M556.7 2367.7L557.7 2369.2L560.3 2369.2L561.3 2367.7"/>
<rect class="iow" x="528.7" y="2394.4" width="41.6" height="18.6" rx="0.8" style="stroke:#333;stroke-width:1.2"/>
<rect class="iol" x="530.2" y="2395.8" width="38.6" height="15.9" rx="1.5"/>
<rect class="io" x="532.9" y="2398.2" width="33.9" height="3.8" rx="0.6" style="fill:#1515e2;stroke:none"/>
<path class="io" d="M536.7 2402.4A1.7 1.7 0 0 0 540.1 2402.4" style="stroke:#333;stroke-width:1"/>
<path class="io" d="M544.1 2402.4A1.7 1.7 0 0 0 547.5 2402.4" style="stroke:#333;stroke-width:1"/>
<path class="io" d="M551.5 2402.4A1.7 1.7 0 0 0 554.9 2402.4" style="stroke:#333;stroke-width:1"/>
<path class="io" d="M558.9 2402.4A1.7 1.7 0 0 0 562.3 2402.4" style="stroke:#333;stroke-width:1"/>
<path class="io" d="M537 2413L538.5 2410.4L542 2410.4L543.5 2413M555.5 2413L557 2410.4L560.5 2410.4L562 2413" style="stroke:#333;stroke-width:1.1;fill:#fff"/>
<path class="iol" d="M537.7 2394.4L538.7 2395.9L541.3 2395.9L542.3 2394.4M556.7 2394.4L557.7 2395.9L560.3 2395.9L561.3 2394.4"/>
<rect class="iol" x="525.9" y="2389.4" width="47.2" height="2" rx="1"/>
<path class="io" d="M535.4 2377.8L535.4 2384.2" style="stroke:#333;stroke-width:1.3"/>
<path class="io" d="M542.4 2377.8L542.4 2384.2" style="stroke:#333;stroke-width:1.3"/>
<path class="io" d="M549.4 2377.8L549.4 2384.2" style="stroke:#333;stroke-width:1.3"/>
<path class="io" d="M556.4 2377.8L556.4 2384.2" style="stroke:#333;stroke-width:1.3"/>
<path class="io" d="M563.4 2377.8L563.4 2384.2" style="stroke:#333;stroke-width:1.3"/>
<path class="io" d="M535.4 2404.6L535.4 2411" style="stroke:#333;stroke-width:1.3"/>
<path class="io" d="M542.4 2404.6L542.4 2411" style="stroke:#333;stroke-width:1.3"/>
<path class="io" d="M549.4 2404.6L549.4 2411" style="stroke:#333;stroke-width:1.3"/>
<path class="io" d="M556.4 2404.6L556.4 2411" style="stroke:#333;stroke-width:1.3"/>
<path class="io" d="M563.4 2404.6L563.4 2411" style="stroke:#333;stroke-width:1.3"/>
<path class="io" d="M519.9 2422L519.9 2429M579.1 2422L579.1 2429" style="stroke-width:1.3"/>
<path class="io" d="M526.4 2422.4Q526.8 2427 529.4 2429M572.9 2422.4Q572.4 2427 569.8 2429" style="stroke-width:1.3"/>
<path class="io" d="M531.4 2424.2L568.4 2424.2" style="stroke-width:2.4;stroke-dasharray:1.2 .8;stroke:#666"/>
<rect class="io" x="590" y="2305.8" width="38.5" height="110" rx="1" style="stroke-width:1.2;stroke:#39424d"/>
<path class="iol" d="M592.2 2307L592.2 2415M626.3 2307L626.3 2415"/>
<circle class="io" cx="609.8" cy="2326.6" r="11.6" style="stroke-width:.9;stroke:#222"/>
<circle class="io" cx="609.8" cy="2326.6" r="8.7" style="stroke-width:2.6;stroke:#2222cc"/>
<circle class="io" cx="609.8" cy="2326.6" r="7" style="stroke-width:.7;stroke:#333"/>
<circle class="io" cx="608.4" cy="2322.2" r="0.7" style="fill:#333;stroke:none"/>
<circle class="io" cx="609.8" cy="2361" r="11.6" style="stroke-width:.9;stroke:#222"/>
<circle class="io" cx="609.8" cy="2361" r="8.7" style="stroke-width:2.6;stroke:#35d235"/>
<circle class="io" cx="609.8" cy="2361" r="7" style="stroke-width:.7;stroke:#333"/>
<circle class="io" cx="608.4" cy="2356.6" r="0.7" style="fill:#333;stroke:none"/>
<circle class="io" cx="609.8" cy="2395.3" r="11.6" style="stroke-width:.9;stroke:#222"/>
<circle class="io" cx="609.8" cy="2395.3" r="8.7" style="stroke-width:2.6;stroke:#e8739a"/>
<circle class="io" cx="609.8" cy="2395.3" r="7" style="stroke-width:.7;stroke:#333"/>
<circle class="io" cx="608.4" cy="2390.9" r="0.7" style="fill:#333;stroke:none"/>
<path class="io" d="M591 2422.4Q591.6 2427 594 2429M627.6 2422.4Q627 2427 624.6 2429" style="stroke-width:1.3"/>
<rect class="iol" x="596.6" y="2422.6" width="1.8" height="3.4" rx="0.8"/>
<rect class="iol" x="600.1" y="2422.6" width="1.8" height="3.4" rx="0.8"/>
<rect class="iol" x="603.6" y="2422.6" width="1.8" height="3.4" rx="0.8"/>
<rect class="iol" x="607.1" y="2422.6" width="1.8" height="3.4" rx="0.8"/>
<rect class="iol" x="614.1" y="2422.6" width="1.8" height="3.4" rx="0.8"/>
<rect class="iol" x="617.6" y="2422.6" width="1.8" height="3.4" rx="0.8"/>
<rect class="iol" x="621.1" y="2422.6" width="1.8" height="3.4" rx="0.8"/>
<rect class="o" x="162.9" y="2313" width="104.9" height="103.4"/>
<path class="o" d="M215.2 2416.4L215.2 2473.3"/>
<circle class="of" cx="215.2" cy="2416.4" r="5.9"/>
<text class="t" x="215" y="2486.9" text-anchor="middle">COM</text>
<rect class="o" x="291.3" y="2323.4" width="133" height="50.4"/>
<text class="t" x="359.2" y="2206.6" text-anchor="middle">USB3.2 Gen2x1</text>
<path class="o" d="M358.2 2209.6L358.2 2323.4"/>
<circle class="of" cx="358.2" cy="2323.4" r="5.9"/>
<path class="o" d="M317.4 2406L317.4 2473.3"/>
<circle class="of" cx="317.4" cy="2406" r="5.9"/>
<text class="t" x="317.5" y="2486.9" text-anchor="middle">HDMI</text>
<path class="o" d="M398.4 2406.2L398.4 2473.3"/>
<circle class="of" cx="398.4" cy="2406.2" r="5.9"/>
<text class="t" x="398.4" y="2486.9" text-anchor="middle">DP</text>
<text class="t" x="478.2" y="2253.4" text-anchor="middle">i219</text>
<path class="o" d="M477.2 2257.6L477.2 2335.6"/>
<circle class="of" cx="477.2" cy="2335.6" r="5.9"/>
<text class="t" x="550" y="2253.4" text-anchor="middle">i225</text>
<path class="o" d="M549.2 2257.6L549.2 2335.6"/>
<circle class="of" cx="549.2" cy="2335.6" r="5.9"/>
<rect class="o" x="450.8" y="2365.6" width="124.9" height="50.8"/>
<path class="o" d="M513.2 2416.4L513.2 2518.1"/>
<circle class="of" cx="513.2" cy="2416.4" r="5.9"/>
<text class="t" x="515.8" y="2534.3" text-anchor="middle">USB3.2 Gen1x1</text>
<rect class="o" x="587.2" y="2303.6" width="44.1" height="112.8"/>
<path class="o" d="M609.6 2416.4L609.6 2473.3"/>
<circle class="of" cx="609.6" cy="2416.4" r="5.9"/>
<text class="t" x="611.8" y="2486.9" text-anchor="middle">Audio</text>
</svg>
</body></html>
